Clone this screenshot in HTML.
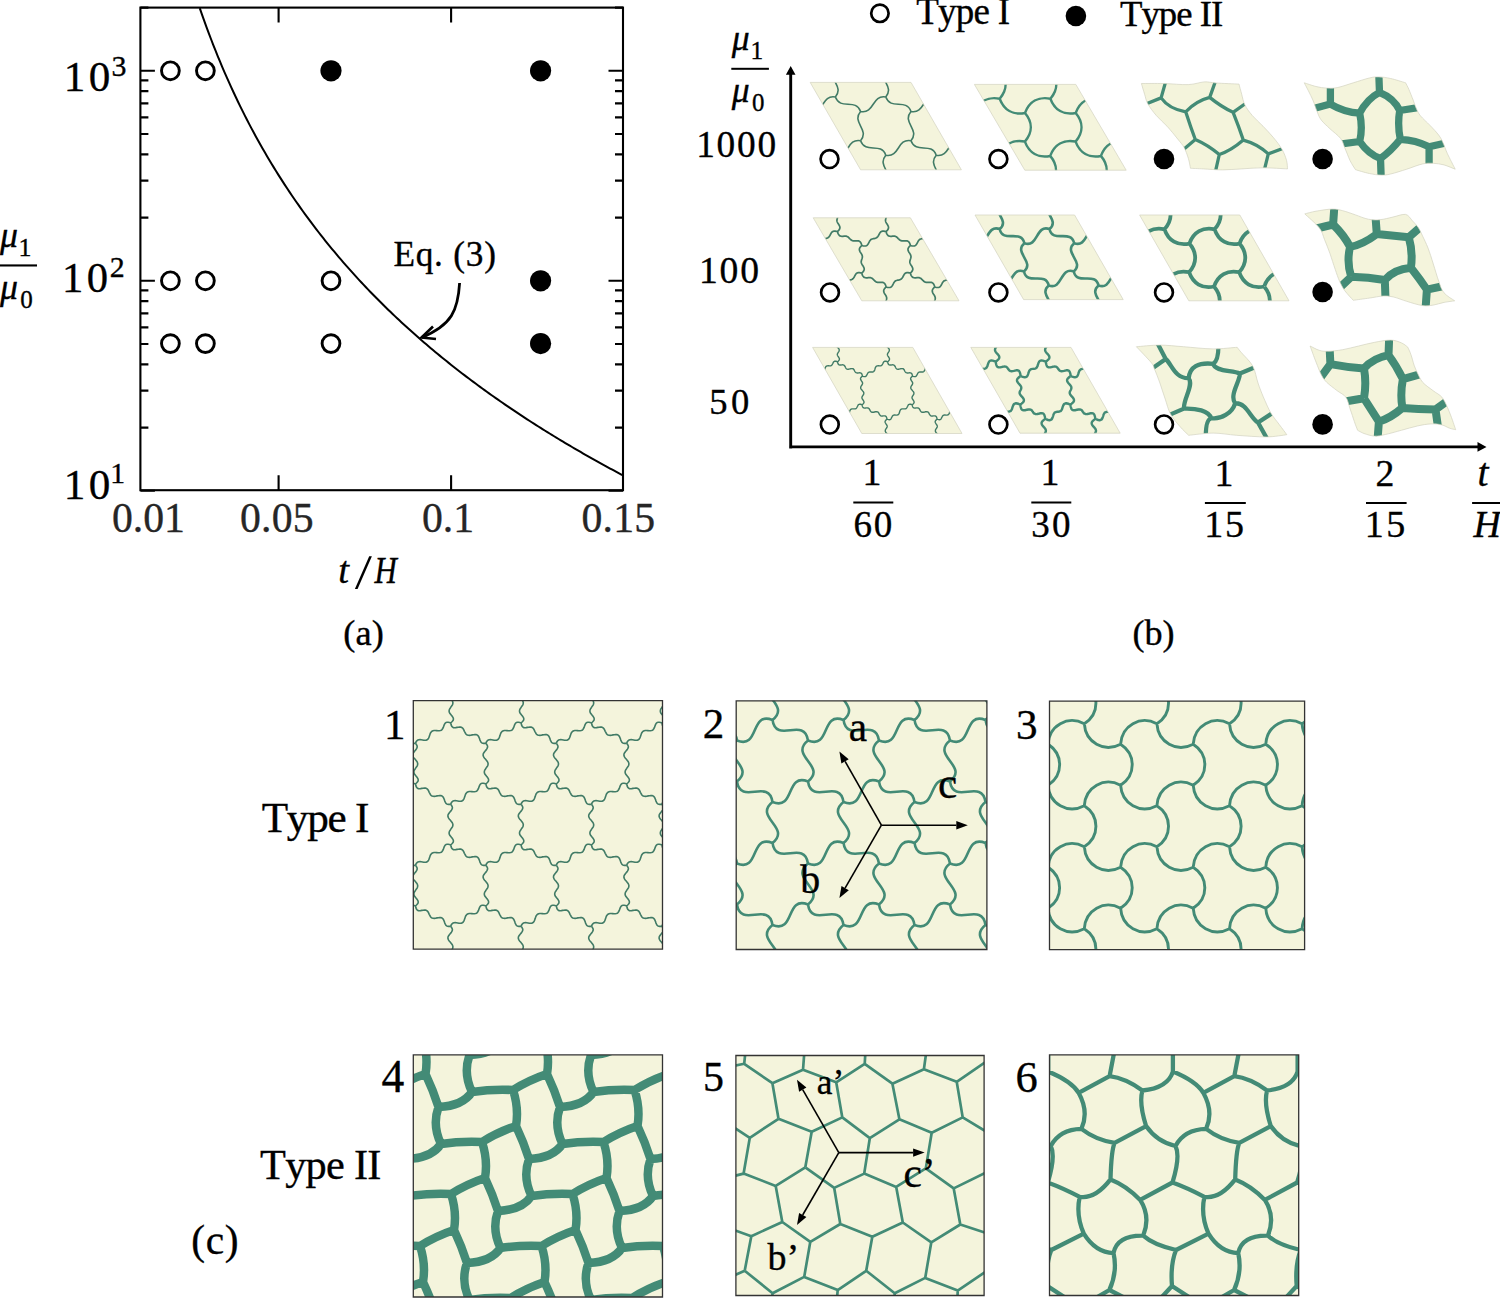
<!DOCTYPE html>
<html><head><meta charset="utf-8"><style>html,body{margin:0;padding:0;background:#fff;overflow:hidden}svg{display:block}text{font-kerning:none;font-variant-ligatures:none}</style></head>
<body><svg width="1500" height="1298" viewBox="0 0 1500 1298">
<rect x="140.4" y="7.6" width="482.6" height="482.6" fill="none" stroke="#000" stroke-width="2.1"/>
<path d="M140.4 490.8h14.5M623 490.8h-14.5M140.4 427.58h8M623 427.58h-8M140.4 390.6h8M623 390.6h-8M140.4 364.37h8M623 364.37h-8M140.4 344.02h8M623 344.02h-8M140.4 327.39h8M623 327.39h-8M140.4 313.33h8M623 313.33h-8M140.4 301.15h8M623 301.15h-8M140.4 290.41h8M623 290.41h-8M140.4 280.8h14.5M623 280.8h-14.5M140.4 217.58h8M623 217.58h-8M140.4 180.6h8M623 180.6h-8M140.4 154.37h8M623 154.37h-8M140.4 134.02h8M623 134.02h-8M140.4 117.39h8M623 117.39h-8M140.4 103.33h8M623 103.33h-8M140.4 91.15h8M623 91.15h-8M140.4 80.41h8M623 80.41h-8M140.4 70.8h14.5M623 70.8h-14.5M140.4 7.58h8M623 7.58h-8M278.6 490.2v-15M278.6 7.6v15M451.1 490.2v-15M451.1 7.6v15" stroke="#000" stroke-width="2.1" fill="none"/>
<polyline points="199.77,8.07 202.01,14.55 204.25,20.87 206.5,27.05 208.74,33.1 210.98,39.01 213.22,44.8 215.46,50.47 217.71,56.02 219.95,61.46 222.19,66.8 224.44,72.04 226.68,77.17 228.92,82.21 231.16,87.16 233.41,92.03 235.65,96.8 237.89,101.5 240.13,106.12 242.38,110.66 244.62,115.12 246.86,119.52 249.1,123.84 251.34,128.1 253.59,132.29 255.83,136.42 258.07,140.49 260.31,144.49 262.56,148.44 264.8,152.34 267.04,156.18 269.28,159.96 271.53,163.7 273.77,167.38 276.01,171.02 278.25,174.6 280.5,178.14 282.74,181.64 284.98,185.09 287.23,188.5 289.47,191.87 291.71,195.19 293.95,198.48 296.19,201.73 298.44,204.93 300.68,208.11 302.92,211.24 305.16,214.34 307.41,217.41 309.65,220.44 311.89,223.43 314.13,226.4 316.38,229.33 318.62,232.24 320.86,235.11 323.11,237.95 325.35,240.76 327.59,243.55 329.83,246.3 332.07,249.03 334.32,251.73 336.56,254.41 338.8,257.06 341.05,259.68 343.29,262.28 345.53,264.86 347.77,267.41 350.01,269.93 352.26,272.44 354.5,274.92 356.74,277.38 358.99,279.82 361.23,282.23 363.47,284.63 365.71,287 367.95,289.35 370.2,291.69 372.44,294 374.68,296.29 376.93,298.57 379.17,300.82 381.41,303.06 383.65,305.28 385.9,307.48 388.14,309.67 390.38,311.83 392.62,313.98 394.87,316.12 397.11,318.23 399.35,320.33 401.59,322.42 403.84,324.49 406.08,326.54 408.32,328.58 410.56,330.6 412.81,332.61 415.05,334.6 417.29,336.58 419.53,338.54 421.78,340.5 424.02,342.43 426.26,344.36 428.5,346.26 430.75,348.16 432.99,350.04 435.23,351.92 437.47,353.77 439.72,355.62 441.96,357.45 444.2,359.27 446.44,361.08 448.69,362.88 450.93,364.66 453.17,366.44 455.41,368.2 457.65,369.95 459.9,371.69 462.14,373.42 464.38,375.14 466.62,376.84 468.87,378.54 471.11,380.23 473.35,381.9 475.6,383.57 477.84,385.22 480.08,386.87 482.32,388.5 484.57,390.13 486.81,391.75 489.05,393.35 491.29,394.95 493.54,396.54 495.78,398.12 498.02,399.69 500.26,401.25 502.5,402.8 504.75,404.35 506.99,405.88 509.23,407.41 511.48,408.92 513.72,410.43 515.96,411.93 518.2,413.43 520.45,414.91 522.69,416.39 524.93,417.86 527.17,419.32 529.42,420.77 531.66,422.22 533.9,423.66 536.14,425.09 538.38,426.51 540.63,427.92 542.87,429.33 545.11,430.73 547.36,432.13 549.6,433.52 551.84,434.9 554.08,436.27 556.33,437.63 558.57,438.99 560.81,440.35 563.05,441.69 565.29,443.03 567.54,444.37 569.78,445.69 572.02,447.01 574.26,448.33 576.51,449.63 578.75,450.93 580.99,452.23 583.24,453.52 585.48,454.8 587.72,456.08 589.96,457.35 592.2,458.61 594.45,459.87 596.69,461.13 598.93,462.37 601.17,463.62 603.42,464.85 605.66,466.08 607.9,467.31 610.14,468.53 612.39,469.74 614.63,470.95 616.87,472.16 619.12,473.36 621.36,474.55 623.6,475.74" fill="none" stroke="#000" stroke-width="2"/>
<circle cx="170.4" cy="70.8" r="8.9" fill="#fff" stroke="#000" stroke-width="2.9"/>
<circle cx="205.4" cy="70.8" r="8.9" fill="#fff" stroke="#000" stroke-width="2.9"/>
<circle cx="170.4" cy="280.8" r="8.9" fill="#fff" stroke="#000" stroke-width="2.9"/>
<circle cx="205.4" cy="280.8" r="8.9" fill="#fff" stroke="#000" stroke-width="2.9"/>
<circle cx="331" cy="280.8" r="8.9" fill="#fff" stroke="#000" stroke-width="2.9"/>
<circle cx="170.4" cy="343.6" r="8.9" fill="#fff" stroke="#000" stroke-width="2.9"/>
<circle cx="205.4" cy="343.6" r="8.9" fill="#fff" stroke="#000" stroke-width="2.9"/>
<circle cx="331" cy="343.6" r="8.9" fill="#fff" stroke="#000" stroke-width="2.9"/>
<circle cx="331" cy="70.8" r="10.6" fill="#000"/>
<circle cx="540.6" cy="70.8" r="10.6" fill="#000"/>
<circle cx="540.6" cy="280.8" r="10.6" fill="#000"/>
<circle cx="540.6" cy="343.6" r="10.6" fill="#000"/>
<text x="393.43" y="265.51" font-family='"Liberation Serif", serif' font-size="35.26" letter-spacing="0.76" stroke="#000" stroke-width="0.35">Eq. (3)</text>
<path d="M459.6 283 C 458 310, 452 325, 421.5 337.5" fill="none" stroke="#000" stroke-width="2.8"/>
<path d="M433 326.5 L421.5 337.5 L436 339" fill="none" stroke="#000" stroke-width="2.6" stroke-linejoin="miter"/>
<text x="112.03" y="531.97" font-family='"Liberation Serif", serif' font-size="41.76" letter-spacing="-0.07" fill="#262626" stroke="#262626" stroke-width="0.35">0.01</text>
<text x="240.03" y="531.97" font-family='"Liberation Serif", serif' font-size="41.76" letter-spacing="0.15" fill="#262626" stroke="#262626" stroke-width="0.35">0.05</text>
<text x="422.03" y="531.97" font-family='"Liberation Serif", serif' font-size="41.76" letter-spacing="-0.07" fill="#262626" stroke="#262626" stroke-width="0.35">0.1</text>
<text x="581.43" y="531.97" font-family='"Liberation Serif", serif' font-size="41.76" letter-spacing="0.21" fill="#262626" stroke="#262626" stroke-width="0.35">0.15</text>
<text x="63.83" y="91.17" font-family='"Liberation Serif", serif' font-size="43.11" letter-spacing="3.38" stroke="#000" stroke-width="0.35">10</text>
<text x="111.48" y="75.7" font-family='"Liberation Serif", serif' font-size="29.89" stroke="#000" stroke-width="0.35">3</text>
<text x="62.07" y="292.47" font-family='"Liberation Serif", serif' font-size="42.67" letter-spacing="3.47" stroke="#000" stroke-width="0.35">10</text>
<text x="109.83" y="277" font-family='"Liberation Serif", serif' font-size="29.89" stroke="#000" stroke-width="0.35">2</text>
<text x="63.83" y="498.67" font-family='"Liberation Serif", serif' font-size="43.11" letter-spacing="3.38" stroke="#000" stroke-width="0.35">10</text>
<text x="110.31" y="482.9" font-family='"Liberation Serif", serif' font-size="29.55" stroke="#000" stroke-width="0.35">1</text>
<text x="338.16" y="582.61" font-family='"Liberation Serif", serif' font-size="38.61" font-style="italic" stroke="#000" stroke-width="0.35">t</text>
<text transform="translate(374.38 583) scale(0.81 1)" font-family='"Liberation Serif", serif' font-size="38.17" font-style="italic" stroke="#000" stroke-width="0.35">H</text>
<path d="M369.2 556.2 L371.9 556.2 L357.6 589 L354.9 589 Z" fill="#000"/>
<text x="343.35" y="645.27" font-family='"Liberation Serif", serif' font-size="36.36" letter-spacing="0.12" stroke="#000" stroke-width="0.35">(a)</text>
<text x="-0.01" y="247.29" font-family='"Liberation Serif", serif' font-size="35.85" font-style="italic" stroke="#000" stroke-width="0.35">μ</text>
<text x="18.53" y="256" font-family='"Liberation Serif", serif' font-size="25.91" stroke="#000" stroke-width="0.35">1</text>
<rect x="0" y="264.4" width="37" height="2.1" fill="#000"/>
<text x="-0.01" y="299.29" font-family='"Liberation Serif", serif' font-size="35.85" font-style="italic" stroke="#000" stroke-width="0.35">μ</text>
<text x="20.26" y="307.95" font-family='"Liberation Serif", serif' font-size="25.04" stroke="#000" stroke-width="0.35">0</text>
<path d="M790.7 448.4 V72 M789.2 446.9 H1480" stroke="#000" stroke-width="2.9" fill="none"/>
<path d="M790.7 66 L785.9 74.8 L795.5 74.8 Z M1486.5 446.9 L1477.5 442 L1477.5 451.8 Z" fill="#000"/>
<text x="731.79" y="50.22" font-family='"Liberation Serif", serif' font-size="35.7" font-style="italic" stroke="#000" stroke-width="0.35">μ</text>
<text x="750.57" y="59" font-family='"Liberation Serif", serif' font-size="25.45" stroke="#000" stroke-width="0.35">1</text>
<rect x="731.3" y="67.8" width="37.6" height="2" fill="#000"/>
<text x="731.79" y="102.22" font-family='"Liberation Serif", serif' font-size="35.7" font-style="italic" stroke="#000" stroke-width="0.35">μ</text>
<text x="751.97" y="110.75" font-family='"Liberation Serif", serif' font-size="24.89" stroke="#000" stroke-width="0.35">0</text>
<text x="696.13" y="157.03" font-family='"Liberation Serif", serif' font-size="37.33" letter-spacing="1.83" stroke="#000" stroke-width="0.35">1000</text>
<text x="698.91" y="283.02" font-family='"Liberation Serif", serif' font-size="37.63" letter-spacing="1.88" stroke="#000" stroke-width="0.35">100</text>
<text x="709.2" y="414.33" font-family='"Liberation Serif", serif' font-size="36.59" letter-spacing="3.58" stroke="#000" stroke-width="0.35">50</text>
<text x="862.49" y="485.3" font-family='"Liberation Serif", serif' font-size="37.88" stroke="#000" stroke-width="0.35">1</text>
<rect x="853.3" y="501.5" width="40" height="2" fill="#000"/>
<text x="853.43" y="536.63" font-family='"Liberation Serif", serif' font-size="37.04" letter-spacing="1.73" stroke="#000" stroke-width="0.35">60</text>
<text x="1040.39" y="485.3" font-family='"Liberation Serif", serif' font-size="37.88" stroke="#000" stroke-width="0.35">1</text>
<rect x="1031.3" y="501.5" width="40" height="2" fill="#000"/>
<text x="1031.24" y="536.63" font-family='"Liberation Serif", serif' font-size="37.04" letter-spacing="2.31" stroke="#000" stroke-width="0.35">30</text>
<text x="1214.59" y="485.8" font-family='"Liberation Serif", serif' font-size="37.88" stroke="#000" stroke-width="0.35">1</text>
<rect x="1204.9" y="502" width="40.9" height="2" fill="#000"/>
<text x="1204.27" y="537.12" font-family='"Liberation Serif", serif' font-size="38.06" letter-spacing="1.8" stroke="#000" stroke-width="0.35">15</text>
<text x="1375.4" y="485.8" font-family='"Liberation Serif", serif' font-size="37.74" stroke="#000" stroke-width="0.35">2</text>
<rect x="1366" y="502" width="40.6" height="2" fill="#000"/>
<text x="1364.77" y="537.12" font-family='"Liberation Serif", serif' font-size="38.06" letter-spacing="2.5" stroke="#000" stroke-width="0.35">15</text>
<text x="1477.61" y="485.8" font-family='"Liberation Serif", serif' font-size="39.65" font-style="italic" stroke="#000" stroke-width="0.35">t</text>
<rect x="1472.1" y="502" width="30" height="2" fill="#000"/>
<text x="1473.57" y="536.8" font-family='"Liberation Serif", serif' font-size="37.86" font-style="italic" stroke="#000" stroke-width="0.35">H</text>
<circle cx="879.9" cy="13.3" r="8.7" fill="none" stroke="#000" stroke-width="2.7"/>
<text x="916.25" y="23.84" font-family='"Liberation Serif", serif' font-size="37.01" letter-spacing="-0.75" stroke="#000" stroke-width="0.35">Type I</text>
<circle cx="1075.9" cy="16" r="10.3" fill="#000"/>
<text x="1120.06" y="26.19" font-family='"Liberation Serif", serif' font-size="36.78" letter-spacing="-1.02" stroke="#000" stroke-width="0.35">Type II</text>
<text x="1132.46" y="645.12" font-family='"Liberation Serif", serif' font-size="36.14" stroke="#000" stroke-width="0.35">(b)</text>
<clipPath id="cp1"><path d="M810.2 82.4H911L961.4 169.8H860.6Z"/></clipPath><path d="M810.2 82.4H911L961.4 169.8H860.6Z" fill="#f4f4dc"/><g clip-path="url(#cp1)"><path d="M785 97C789.9 110.7 805.3 97.8 810.2 111.5M810.2 140.7C815.1 154.4 830.5 141.5 835.4 155.2M810.2 140.7C795.9 138.1 799.3 157.8 785 155.2M810.2 140.7C819.6 129.5 800.8 122.7 810.2 111.5M835.4 184.4C844.8 173.2 826 166.4 835.4 155.2M835.4 97C840.3 110.7 855.7 97.8 860.6 111.5M835.4 97C821.1 94.4 824.5 114.1 810.2 111.5M835.4 97C844.8 85.8 826 79 835.4 67.8M860.6 140.7C865.5 154.4 880.9 141.5 885.8 155.2M860.6 140.7C846.3 138.1 849.7 157.8 835.4 155.2M860.6 140.7C870 129.5 851.2 122.7 860.6 111.5M885.8 184.4C895.2 173.2 876.4 166.4 885.8 155.2M885.8 97C890.7 110.7 906.1 97.8 911 111.5M885.8 97C871.5 94.4 874.9 114.1 860.6 111.5M885.8 97C895.2 85.8 876.4 79 885.8 67.8M911 140.7C915.9 154.4 931.3 141.5 936.2 155.2M911 140.7C896.7 138.1 900.1 157.8 885.8 155.2M911 140.7C920.4 129.5 901.6 122.7 911 111.5M936.2 184.4C945.6 173.2 926.8 166.4 936.2 155.2M936.2 97C941.1 110.7 956.5 97.8 961.4 111.5M936.2 97C921.9 94.4 925.3 114.1 911 111.5M936.2 97C945.6 85.8 926.8 79 936.2 67.8M961.4 140.7C966.3 154.4 981.7 141.5 986.6 155.2M961.4 140.7C947.1 138.1 950.5 157.8 936.2 155.2M961.4 140.7C970.8 129.5 952 122.7 961.4 111.5M986.6 97C972.3 94.4 975.7 114.1 961.4 111.5" fill="none" stroke="#417b66" stroke-width="1.6" stroke-linejoin="round"/></g><path d="M810.2 82.4H911L961.4 169.8H860.6Z" fill="none" stroke="#d2d2c0" stroke-width="0.7"/>
<clipPath id="cp2"><path d="M974.4 84.4H1075.8L1126.2 170.2H1024.8Z"/></clipPath><path d="M974.4 84.4H1075.8L1126.2 170.2H1024.8Z" fill="#f4f4dc"/><g clip-path="url(#cp2)"><path d="M949 98.7C953.3 110.1 962.3 115.3 974.3 113M974.2 141.6C978.5 153 987.5 158.2 999.5 155.9M974.2 141.6C962.2 139.3 953.1 144.4 948.8 155.9M974.2 141.6C982 132.4 982 122.2 974.3 113M999.4 184.5C1007.2 175.3 1007.2 165.1 999.5 155.9M999.7 98.7C1004 110.1 1013 115.3 1025 113M999.7 98.7C987.7 96.4 978.6 101.5 974.3 113M999.7 98.7C1007.5 89.5 1007.5 79.3 999.8 70.1M1024.9 141.6C1029.2 153 1038.2 158.2 1050.2 155.9M1024.9 141.6C1012.9 139.3 1003.8 144.4 999.5 155.9M1024.9 141.6C1032.7 132.4 1032.7 122.2 1025 113M1050.1 184.5C1057.9 175.3 1057.9 165.1 1050.2 155.9M1050.4 98.7C1054.7 110.1 1063.7 115.3 1075.7 113M1050.4 98.7C1038.4 96.4 1029.3 101.5 1025 113M1050.4 98.7C1058.2 89.5 1058.2 79.3 1050.5 70.1M1075.6 141.6C1079.9 153 1088.9 158.2 1100.9 155.9M1075.6 141.6C1063.6 139.3 1054.5 144.4 1050.2 155.9M1075.6 141.6C1083.4 132.4 1083.4 122.2 1075.7 113M1100.8 184.5C1108.6 175.3 1108.6 165.1 1100.9 155.9M1101.1 98.7C1105.4 110.1 1114.4 115.3 1126.4 113M1101.1 98.7C1089.1 96.4 1080 101.5 1075.7 113M1101.1 98.7C1108.9 89.5 1108.9 79.3 1101.2 70.1M1126.3 141.6C1130.6 153 1139.6 158.2 1151.6 155.9M1126.3 141.6C1114.3 139.3 1105.2 144.4 1100.9 155.9M1126.3 141.6C1134.1 132.4 1134.1 122.2 1126.4 113M1151.8 98.7C1139.8 96.4 1130.7 101.5 1126.4 113" fill="none" stroke="#438b76" stroke-width="2.5" stroke-linejoin="round"/></g><path d="M974.4 84.4H1075.8L1126.2 170.2H1024.8Z" fill="none" stroke="#d2d2c0" stroke-width="0.7"/>
<clipPath id="cp3"><path d="M1141.4 83.5C1145.1 83.5 1156 83.4 1163.8 83.5C1171.6 83.7 1181.6 84.9 1188.3 84.6C1195.1 84.3 1199.7 82.2 1204.3 81.9C1209 81.7 1210.3 82.6 1216.1 83C1221.8 83.4 1235.2 83.9 1239 84.1C1239.4 85.8 1240.7 90.7 1241.7 94.2C1242.6 97.7 1243.1 101.3 1244.9 104.9C1246.6 108.4 1249.3 112 1252.3 115.5C1255.4 119.1 1259.4 122.5 1263 126.2C1266.6 129.9 1270.5 134 1273.7 137.9C1276.9 141.8 1280.1 145.9 1282.2 149.7C1284.3 153.4 1285.6 157.1 1286.5 160.3C1287.4 163.5 1287.4 167.4 1287.5 168.9C1283.4 168.7 1270.6 167.8 1263 167.8C1255.4 167.8 1248.4 168.5 1241.7 168.9C1234.9 169.2 1228.9 169.9 1222.5 169.9C1216.1 169.9 1208.6 169.1 1203.3 168.9C1197.9 168.6 1192.6 168.4 1190.5 168.3C1190.1 166.6 1189.4 161.7 1188.3 158.2C1187.3 154.7 1185.8 150.7 1184.1 147.5C1182.3 144.3 1180.5 142.6 1177.7 139C1174.8 135.4 1170.6 130.1 1167 126.2C1163.4 122.3 1159.5 119.3 1156.3 115.5C1153.1 111.8 1149.8 107.4 1147.8 103.8C1145.8 100.2 1145.7 97.6 1144.6 94.2C1143.5 90.8 1141.9 85.3 1141.4 83.5Z"/></clipPath><path d="M1141.4 83.5C1145.1 83.5 1156 83.4 1163.8 83.5C1171.6 83.7 1181.6 84.9 1188.3 84.6C1195.1 84.3 1199.7 82.2 1204.3 81.9C1209 81.7 1210.3 82.6 1216.1 83C1221.8 83.4 1235.2 83.9 1239 84.1C1239.4 85.8 1240.7 90.7 1241.7 94.2C1242.6 97.7 1243.1 101.3 1244.9 104.9C1246.6 108.4 1249.3 112 1252.3 115.5C1255.4 119.1 1259.4 122.5 1263 126.2C1266.6 129.9 1270.5 134 1273.7 137.9C1276.9 141.8 1280.1 145.9 1282.2 149.7C1284.3 153.4 1285.6 157.1 1286.5 160.3C1287.4 163.5 1287.4 167.4 1287.5 168.9C1283.4 168.7 1270.6 167.8 1263 167.8C1255.4 167.8 1248.4 168.5 1241.7 168.9C1234.9 169.2 1228.9 169.9 1222.5 169.9C1216.1 169.9 1208.6 169.1 1203.3 168.9C1197.9 168.6 1192.6 168.4 1190.5 168.3C1190.1 166.6 1189.4 161.7 1188.3 158.2C1187.3 154.7 1185.8 150.7 1184.1 147.5C1182.3 144.3 1180.5 142.6 1177.7 139C1174.8 135.4 1170.6 130.1 1167 126.2C1163.4 122.3 1159.5 119.3 1156.3 115.5C1153.1 111.8 1149.8 107.4 1147.8 103.8C1145.8 100.2 1145.7 97.6 1144.6 94.2C1143.5 90.8 1141.9 85.3 1141.4 83.5Z" fill="#f4f4dc"/><g clip-path="url(#cp3)"><path d="M1161.1 97.9L1167.1 76.6M1161.1 97.9L1139.8 106.5M1209.7 97.4L1217.3 76.1M1233.1 112.3L1251.1 99.5M1195.3 139.5L1178.2 154M1219.3 154.5L1214.1 177.5M1268.3 153.9L1288.8 146.3M1268.3 153.9L1262.4 177.8M1161.1 97.9Q1169.1 109.1 1185.7 111.8M1185.7 111.8Q1196.1 100.9 1209.7 97.4M1209.7 97.4Q1221.4 107 1233.1 112.3M1185.7 111.8Q1190.5 126.7 1195.3 139.5M1233.1 112.3Q1238.7 126.2 1243.3 140.1M1195.3 139.5Q1207.8 144.9 1219.3 154.5M1219.3 154.5Q1230.7 151 1243.3 140.1M1243.3 140.1Q1257.4 143.8 1268.3 153.9" fill="none" stroke="#438b76" stroke-width="3.3" stroke-linejoin="round" stroke-linecap="butt"/></g><path d="M1141.4 83.5C1145.1 83.5 1156 83.4 1163.8 83.5C1171.6 83.7 1181.6 84.9 1188.3 84.6C1195.1 84.3 1199.7 82.2 1204.3 81.9C1209 81.7 1210.3 82.6 1216.1 83C1221.8 83.4 1235.2 83.9 1239 84.1C1239.4 85.8 1240.7 90.7 1241.7 94.2C1242.6 97.7 1243.1 101.3 1244.9 104.9C1246.6 108.4 1249.3 112 1252.3 115.5C1255.4 119.1 1259.4 122.5 1263 126.2C1266.6 129.9 1270.5 134 1273.7 137.9C1276.9 141.8 1280.1 145.9 1282.2 149.7C1284.3 153.4 1285.6 157.1 1286.5 160.3C1287.4 163.5 1287.4 167.4 1287.5 168.9C1283.4 168.7 1270.6 167.8 1263 167.8C1255.4 167.8 1248.4 168.5 1241.7 168.9C1234.9 169.2 1228.9 169.9 1222.5 169.9C1216.1 169.9 1208.6 169.1 1203.3 168.9C1197.9 168.6 1192.6 168.4 1190.5 168.3C1190.1 166.6 1189.4 161.7 1188.3 158.2C1187.3 154.7 1185.8 150.7 1184.1 147.5C1182.3 144.3 1180.5 142.6 1177.7 139C1174.8 135.4 1170.6 130.1 1167 126.2C1163.4 122.3 1159.5 119.3 1156.3 115.5C1153.1 111.8 1149.8 107.4 1147.8 103.8C1145.8 100.2 1145.7 97.6 1144.6 94.2C1143.5 90.8 1141.9 85.3 1141.4 83.5Z" fill="none" stroke="#d2d2c0" stroke-width="0.7"/>
<clipPath id="cp4"><path d="M1304.3 82.8C1306.2 83.4 1312.3 85.6 1316 86.5C1319.7 87.4 1323.1 88 1326.7 88.1C1330.2 88.3 1332.9 88.5 1337.3 87.6C1341.8 86.7 1348 84.4 1353.3 82.8C1358.7 81.2 1365.1 79 1369.3 78C1373.6 77 1375.4 76.8 1378.9 76.9C1382.5 77 1386.2 77.6 1390.7 78.5C1395.1 79.5 1403.1 82.1 1405.6 82.8C1406.1 83.9 1407.6 86.4 1408.8 89.2C1410 92 1411.8 96.7 1413.1 99.9C1414.3 103.1 1415 105.7 1416.3 108.4C1417.5 111.1 1418.2 113 1420.5 115.9C1422.8 118.7 1427.1 122.3 1430.1 125.5C1433.2 128.7 1436.5 132.2 1438.7 135.1C1440.8 137.9 1441.5 139.5 1442.9 142.5C1444.4 145.6 1445.2 148.8 1447.2 153.2C1449.2 157.6 1453.9 166.5 1455.2 169.2C1453.3 168.5 1447.6 165.9 1444 164.9C1440.4 164 1436.9 163.5 1433.3 163.3C1429.8 163.2 1427.1 162.9 1422.7 163.9C1418.2 164.8 1412 167.5 1406.7 169.2C1401.3 170.9 1394.9 173 1390.7 174C1386.4 175 1384.6 175.2 1381.1 175.1C1377.5 175 1373.6 174.4 1369.3 173.5C1365.1 172.6 1357.8 170.4 1355.5 169.7C1354.6 168.2 1351.9 164.3 1350.1 160.7C1348.4 157 1346.4 151.6 1344.8 147.9C1343.2 144.1 1343 141.5 1340.5 138.3C1338 135.1 1333.1 131.7 1329.9 128.7C1326.7 125.6 1323.5 123 1321.3 120.1C1319.2 117.3 1318.5 115 1317.1 111.6C1315.6 108.2 1314.9 104.7 1312.8 99.9C1310.7 95.1 1305.7 85.6 1304.3 82.8Z"/></clipPath><path d="M1304.3 82.8C1306.2 83.4 1312.3 85.6 1316 86.5C1319.7 87.4 1323.1 88 1326.7 88.1C1330.2 88.3 1332.9 88.5 1337.3 87.6C1341.8 86.7 1348 84.4 1353.3 82.8C1358.7 81.2 1365.1 79 1369.3 78C1373.6 77 1375.4 76.8 1378.9 76.9C1382.5 77 1386.2 77.6 1390.7 78.5C1395.1 79.5 1403.1 82.1 1405.6 82.8C1406.1 83.9 1407.6 86.4 1408.8 89.2C1410 92 1411.8 96.7 1413.1 99.9C1414.3 103.1 1415 105.7 1416.3 108.4C1417.5 111.1 1418.2 113 1420.5 115.9C1422.8 118.7 1427.1 122.3 1430.1 125.5C1433.2 128.7 1436.5 132.2 1438.7 135.1C1440.8 137.9 1441.5 139.5 1442.9 142.5C1444.4 145.6 1445.2 148.8 1447.2 153.2C1449.2 157.6 1453.9 166.5 1455.2 169.2C1453.3 168.5 1447.6 165.9 1444 164.9C1440.4 164 1436.9 163.5 1433.3 163.3C1429.8 163.2 1427.1 162.9 1422.7 163.9C1418.2 164.8 1412 167.5 1406.7 169.2C1401.3 170.9 1394.9 173 1390.7 174C1386.4 175 1384.6 175.2 1381.1 175.1C1377.5 175 1373.6 174.4 1369.3 173.5C1365.1 172.6 1357.8 170.4 1355.5 169.7C1354.6 168.2 1351.9 164.3 1350.1 160.7C1348.4 157 1346.4 151.6 1344.8 147.9C1343.2 144.1 1343 141.5 1340.5 138.3C1338 135.1 1333.1 131.7 1329.9 128.7C1326.7 125.6 1323.5 123 1321.3 120.1C1319.2 117.3 1318.5 115 1317.1 111.6C1315.6 108.2 1314.9 104.7 1312.8 99.9C1310.7 95.1 1305.7 85.6 1304.3 82.8Z" fill="#f4f4dc"/><g clip-path="url(#cp4)"><path d="M1330.4 104.1L1330.4 80.2M1330.4 104.1L1308.2 110.1M1379.5 92.4L1378.6 68.5M1399.7 110.5L1426.2 106.3M1359.7 141.5L1334.1 144.9M1380.5 158.5L1381.4 184.1M1429.1 146.8L1451.3 141.7M1429.1 146.8L1429.1 172.4M1330.4 104.1Q1344.5 112.4 1359.7 113.2M1359.7 113.2Q1366.9 99.1 1379.5 92.4M1359.7 113.2Q1362.9 127.9 1359.7 141.5M1379.5 92.4Q1393.9 98.3 1399.7 110.5M1399.7 110.5Q1397.3 124.9 1400.3 139.3M1359.7 141.5Q1368.5 154.3 1380.5 158.5M1400.3 139.3Q1390.9 151.1 1380.5 158.5M1400.3 139.3Q1415.7 139.9 1429.1 146.8" fill="none" stroke="#438b76" stroke-width="7.3" stroke-linejoin="round" stroke-linecap="butt"/></g><path d="M1304.3 82.8C1306.2 83.4 1312.3 85.6 1316 86.5C1319.7 87.4 1323.1 88 1326.7 88.1C1330.2 88.3 1332.9 88.5 1337.3 87.6C1341.8 86.7 1348 84.4 1353.3 82.8C1358.7 81.2 1365.1 79 1369.3 78C1373.6 77 1375.4 76.8 1378.9 76.9C1382.5 77 1386.2 77.6 1390.7 78.5C1395.1 79.5 1403.1 82.1 1405.6 82.8C1406.1 83.9 1407.6 86.4 1408.8 89.2C1410 92 1411.8 96.7 1413.1 99.9C1414.3 103.1 1415 105.7 1416.3 108.4C1417.5 111.1 1418.2 113 1420.5 115.9C1422.8 118.7 1427.1 122.3 1430.1 125.5C1433.2 128.7 1436.5 132.2 1438.7 135.1C1440.8 137.9 1441.5 139.5 1442.9 142.5C1444.4 145.6 1445.2 148.8 1447.2 153.2C1449.2 157.6 1453.9 166.5 1455.2 169.2C1453.3 168.5 1447.6 165.9 1444 164.9C1440.4 164 1436.9 163.5 1433.3 163.3C1429.8 163.2 1427.1 162.9 1422.7 163.9C1418.2 164.8 1412 167.5 1406.7 169.2C1401.3 170.9 1394.9 173 1390.7 174C1386.4 175 1384.6 175.2 1381.1 175.1C1377.5 175 1373.6 174.4 1369.3 173.5C1365.1 172.6 1357.8 170.4 1355.5 169.7C1354.6 168.2 1351.9 164.3 1350.1 160.7C1348.4 157 1346.4 151.6 1344.8 147.9C1343.2 144.1 1343 141.5 1340.5 138.3C1338 135.1 1333.1 131.7 1329.9 128.7C1326.7 125.6 1323.5 123 1321.3 120.1C1319.2 117.3 1318.5 115 1317.1 111.6C1315.6 108.2 1314.9 104.7 1312.8 99.9C1310.7 95.1 1305.7 85.6 1304.3 82.8Z" fill="none" stroke="#d2d2c0" stroke-width="0.7"/>
<clipPath id="cp5"><path d="M813.2 217.8H910.4L959 300.8H861.8Z"/></clipPath><path d="M813.2 217.8H910.4L959 300.8H861.8Z" fill="#f4f4dc"/><g clip-path="url(#cp5)"><path d="M788.9 231.6L789.2 232.9L789.6 233.9L790.2 234.8L790.8 235.5L791.5 236L792.4 236.2L793.4 236.3L794.4 236.3L795.4 236.2L796.4 236.2L797.4 236.2L798.3 236.4L799.1 236.8L799.8 237.3L800.4 237.9L801.1 238.6L801.7 239.2L802.3 239.8L803 240.3L803.8 240.7L804.7 240.9L805.7 240.9L806.7 240.9L807.7 240.8L808.7 240.8L809.7 240.9L810.6 241.1L811.3 241.6L811.9 242.3L812.5 243.2L812.9 244.2L813.2 245.5M813.2 273.1L813.5 274.4L813.9 275.4L814.5 276.3L815.1 277L815.8 277.5L816.7 277.7L817.7 277.8L818.7 277.8L819.7 277.7L820.7 277.7L821.7 277.7L822.6 277.9L823.4 278.3L824.1 278.8L824.7 279.4L825.3 280.1L826 280.7L826.6 281.3L827.3 281.8L828.1 282.2L829 282.4L830 282.4L831 282.4L832 282.3L833 282.3L834 282.4L834.9 282.6L835.6 283.1L836.2 283.8L836.8 284.7L837.2 285.7L837.5 287M813.2 273.1L812 272.8L810.8 272.6L809.8 272.6L808.9 272.8L808.1 273.2L807.5 273.8L806.9 274.6L806.4 275.5L805.9 276.4L805.5 277.3L804.9 278.1L804.3 278.8L803.6 279.3L802.8 279.6L801.9 279.9L801 280.1L800.2 280.2L799.3 280.5L798.5 280.8L797.8 281.3L797.2 282L796.6 282.8L796.2 283.7L795.7 284.6L795.2 285.5L794.6 286.3L794 286.9L793.2 287.3L792.3 287.5L791.3 287.5L790.1 287.3L788.9 287M813.2 273.1L814.1 272.2L814.8 271.4L815.3 270.5L815.6 269.6L815.6 268.7L815.4 267.9L815 267L814.5 266.1L813.9 265.3L813.4 264.4L813 263.6L812.7 262.7L812.6 261.9L812.7 261L812.9 260.2L813.2 259.3L813.5 258.4L813.7 257.6L813.8 256.7L813.7 255.9L813.4 255L813 254.2L812.5 253.3L811.9 252.5L811.4 251.6L811 250.7L810.8 249.9L810.8 249L811.1 248.1L811.6 247.2L812.3 246.4L813.2 245.5M837.5 314.6L838.4 313.7L839.1 312.9L839.6 312L839.9 311.1L839.9 310.2L839.7 309.4L839.3 308.5L838.8 307.6L838.2 306.8L837.7 305.9L837.3 305.1L837 304.2L836.9 303.4L837 302.5L837.2 301.7L837.5 300.8L837.8 299.9L838 299.1L838.1 298.2L838 297.4L837.7 296.5L837.3 295.7L836.8 294.8L836.2 294L835.7 293.1L835.3 292.2L835.1 291.4L835.1 290.5L835.4 289.6L835.9 288.7L836.6 287.9L837.5 287M837.5 231.6L837.8 232.9L838.2 233.9L838.8 234.8L839.4 235.5L840.1 236L841 236.2L842 236.3L843 236.3L844 236.2L845 236.2L846 236.2L846.9 236.4L847.7 236.8L848.4 237.3L849 237.9L849.6 238.6L850.3 239.2L850.9 239.8L851.6 240.3L852.4 240.7L853.3 240.9L854.3 240.9L855.3 240.9L856.3 240.8L857.3 240.8L858.3 240.9L859.2 241.1L859.9 241.6L860.5 242.3L861.1 243.2L861.5 244.2L861.8 245.5M837.5 231.6L836.3 231.3L835.1 231.1L834.1 231.1L833.2 231.3L832.4 231.7L831.8 232.3L831.2 233.1L830.7 234L830.2 234.9L829.8 235.8L829.2 236.6L828.6 237.3L827.9 237.8L827.1 238.1L826.2 238.4L825.4 238.6L824.5 238.7L823.6 239L822.8 239.3L822.1 239.8L821.5 240.5L820.9 241.3L820.5 242.2L820 243.1L819.5 244L818.9 244.8L818.3 245.4L817.5 245.8L816.6 246L815.6 246L814.4 245.8L813.2 245.5M837.5 231.6L838.4 230.7L839.1 229.9L839.6 229L839.9 228.1L839.9 227.2L839.7 226.4L839.3 225.5L838.8 224.6L838.2 223.8L837.7 222.9L837.3 222.1L837 221.2L836.9 220.4L837 219.5L837.2 218.7L837.5 217.8L837.8 216.9L838 216.1L838.1 215.2L838 214.4L837.7 213.5L837.3 212.7L836.8 211.8L836.2 211L835.7 210.1L835.3 209.2L835.1 208.4L835.1 207.5L835.4 206.6L835.9 205.7L836.6 204.9L837.5 204M861.8 273.1L862.1 274.4L862.5 275.4L863.1 276.3L863.7 277L864.4 277.5L865.3 277.7L866.3 277.8L867.3 277.8L868.3 277.7L869.3 277.7L870.3 277.7L871.2 277.9L872 278.3L872.7 278.8L873.3 279.4L874 280.1L874.6 280.7L875.2 281.3L875.9 281.8L876.7 282.2L877.6 282.4L878.6 282.4L879.6 282.4L880.6 282.3L881.6 282.3L882.6 282.4L883.5 282.6L884.2 283.1L884.8 283.8L885.4 284.7L885.8 285.7L886.1 287M861.8 273.1L860.6 272.8L859.4 272.6L858.4 272.6L857.5 272.8L856.7 273.2L856.1 273.8L855.5 274.6L855 275.5L854.5 276.4L854.1 277.3L853.5 278.1L852.9 278.8L852.2 279.3L851.4 279.6L850.5 279.9L849.7 280.1L848.8 280.2L847.9 280.5L847.1 280.8L846.4 281.3L845.8 282L845.2 282.8L844.8 283.7L844.3 284.6L843.8 285.5L843.2 286.3L842.6 286.9L841.8 287.3L840.9 287.5L839.9 287.5L838.7 287.3L837.5 287M861.8 273.1L862.7 272.2L863.4 271.4L863.9 270.5L864.2 269.6L864.2 268.7L864 267.9L863.6 267L863.1 266.1L862.5 265.3L862 264.4L861.6 263.6L861.3 262.7L861.2 261.9L861.3 261L861.5 260.2L861.8 259.3L862.1 258.4L862.3 257.6L862.4 256.7L862.3 255.9L862 255L861.6 254.2L861.1 253.3L860.5 252.5L860 251.6L859.6 250.7L859.4 249.9L859.4 249L859.7 248.1L860.2 247.2L860.9 246.4L861.8 245.5M886.1 314.6L887 313.7L887.7 312.9L888.2 312L888.5 311.1L888.5 310.2L888.3 309.4L887.9 308.5L887.4 307.6L886.8 306.8L886.3 305.9L885.9 305.1L885.6 304.2L885.5 303.4L885.6 302.5L885.8 301.7L886.1 300.8L886.4 299.9L886.6 299.1L886.7 298.2L886.6 297.4L886.3 296.5L885.9 295.7L885.4 294.8L884.8 294L884.3 293.1L883.9 292.2L883.7 291.4L883.7 290.5L884 289.6L884.5 288.7L885.2 287.9L886.1 287M886.1 231.6L886.4 232.9L886.8 233.9L887.4 234.8L888 235.5L888.7 236L889.6 236.2L890.6 236.3L891.6 236.3L892.6 236.2L893.6 236.2L894.6 236.2L895.5 236.4L896.3 236.8L897 237.3L897.6 237.9L898.2 238.6L898.9 239.2L899.5 239.8L900.2 240.3L901 240.7L901.9 240.9L902.9 240.9L903.9 240.9L904.9 240.8L905.9 240.8L906.9 240.9L907.8 241.1L908.5 241.6L909.1 242.3L909.7 243.2L910.1 244.2L910.4 245.5M886.1 231.6L884.9 231.3L883.7 231.1L882.7 231.1L881.8 231.3L881 231.7L880.4 232.3L879.8 233.1L879.3 234L878.8 234.9L878.4 235.8L877.8 236.6L877.2 237.3L876.5 237.8L875.7 238.1L874.8 238.4L874 238.6L873.1 238.7L872.2 239L871.4 239.3L870.7 239.8L870.1 240.5L869.5 241.3L869.1 242.2L868.6 243.1L868.1 244L867.5 244.8L866.9 245.4L866.1 245.8L865.2 246L864.2 246L863 245.8L861.8 245.5M886.1 231.6L887 230.7L887.7 229.9L888.2 229L888.5 228.1L888.5 227.2L888.3 226.4L887.9 225.5L887.4 224.6L886.8 223.8L886.3 222.9L885.9 222.1L885.6 221.2L885.5 220.4L885.6 219.5L885.8 218.7L886.1 217.8L886.4 216.9L886.6 216.1L886.7 215.2L886.6 214.4L886.3 213.5L885.9 212.7L885.4 211.8L884.8 211L884.3 210.1L883.9 209.2L883.7 208.4L883.7 207.5L884 206.6L884.5 205.7L885.2 204.9L886.1 204M910.4 273.1L910.7 274.4L911.1 275.4L911.7 276.3L912.3 277L913 277.5L913.9 277.7L914.9 277.8L915.9 277.8L916.9 277.7L917.9 277.7L918.9 277.7L919.8 277.9L920.6 278.3L921.3 278.8L921.9 279.4L922.6 280.1L923.2 280.7L923.8 281.3L924.5 281.8L925.3 282.2L926.2 282.4L927.2 282.4L928.2 282.4L929.2 282.3L930.2 282.3L931.2 282.4L932.1 282.6L932.8 283.1L933.4 283.8L934 284.7L934.4 285.7L934.7 287M910.4 273.1L909.2 272.8L908 272.6L907 272.6L906.1 272.8L905.3 273.2L904.7 273.8L904.1 274.6L903.6 275.5L903.1 276.4L902.7 277.3L902.1 278.1L901.5 278.8L900.8 279.3L900 279.6L899.1 279.9L898.2 280.1L897.4 280.2L896.5 280.5L895.7 280.8L895 281.3L894.4 282L893.8 282.8L893.4 283.7L892.9 284.6L892.4 285.5L891.8 286.3L891.2 286.9L890.4 287.3L889.5 287.5L888.5 287.5L887.3 287.3L886.1 287M910.4 273.1L911.3 272.2L912 271.4L912.5 270.5L912.8 269.6L912.8 268.7L912.6 267.9L912.2 267L911.7 266.1L911.1 265.3L910.6 264.4L910.2 263.6L909.9 262.7L909.8 261.9L909.9 261L910.1 260.2L910.4 259.3L910.7 258.4L910.9 257.6L911 256.7L910.9 255.9L910.6 255L910.2 254.2L909.7 253.3L909.1 252.5L908.6 251.6L908.2 250.7L908 249.9L908 249L908.3 248.1L908.8 247.2L909.5 246.4L910.4 245.5M934.7 314.6L935.6 313.7L936.3 312.9L936.8 312L937.1 311.1L937.1 310.2L936.9 309.4L936.5 308.5L936 307.6L935.4 306.8L934.9 305.9L934.5 305.1L934.2 304.2L934.1 303.4L934.2 302.5L934.4 301.7L934.7 300.8L935 299.9L935.2 299.1L935.3 298.2L935.2 297.4L934.9 296.5L934.5 295.7L934 294.8L933.4 294L932.9 293.1L932.5 292.2L932.3 291.4L932.3 290.5L932.6 289.6L933.1 288.7L933.8 287.9L934.7 287M934.7 231.6L935 232.9L935.4 233.9L936 234.8L936.6 235.5L937.3 236L938.2 236.2L939.2 236.3L940.2 236.3L941.2 236.2L942.2 236.2L943.2 236.2L944.1 236.4L944.9 236.8L945.6 237.3L946.2 237.9L946.9 238.6L947.5 239.2L948.1 239.8L948.8 240.3L949.6 240.7L950.5 240.9L951.5 240.9L952.5 240.9L953.5 240.8L954.5 240.8L955.5 240.9L956.4 241.1L957.1 241.6L957.7 242.3L958.3 243.2L958.7 244.2L959 245.5M934.7 231.6L933.5 231.3L932.3 231.1L931.3 231.1L930.4 231.3L929.6 231.7L929 232.3L928.4 233.1L927.9 234L927.4 234.9L927 235.8L926.4 236.6L925.8 237.3L925.1 237.8L924.3 238.1L923.4 238.4L922.6 238.6L921.7 238.7L920.8 239L920 239.3L919.3 239.8L918.7 240.5L918.1 241.3L917.7 242.2L917.2 243.1L916.7 244L916.1 244.8L915.5 245.4L914.7 245.8L913.8 246L912.8 246L911.6 245.8L910.4 245.5M934.7 231.6L935.6 230.7L936.3 229.9L936.8 229L937.1 228.1L937.1 227.2L936.9 226.4L936.5 225.5L936 224.6L935.4 223.8L934.9 222.9L934.5 222.1L934.2 221.2L934.1 220.4L934.2 219.5L934.4 218.7L934.7 217.8L935 216.9L935.2 216.1L935.3 215.2L935.2 214.4L934.9 213.5L934.5 212.7L934 211.8L933.4 211L932.9 210.1L932.5 209.2L932.3 208.4L932.3 207.5L932.6 206.6L933.1 205.7L933.8 204.9L934.7 204M959 273.1L959.3 274.4L959.7 275.4L960.3 276.3L960.9 277L961.6 277.5L962.5 277.7L963.5 277.8L964.5 277.8L965.5 277.7L966.5 277.7L967.5 277.7L968.4 277.9L969.2 278.3L969.9 278.8L970.5 279.4L971.1 280.1L971.8 280.7L972.4 281.3L973.1 281.8L973.9 282.2L974.8 282.4L975.8 282.4L976.8 282.4L977.8 282.3L978.8 282.3L979.8 282.4L980.7 282.6L981.4 283.1L982 283.8L982.6 284.7L983 285.7L983.3 287M959 273.1L957.8 272.8L956.6 272.6L955.6 272.6L954.7 272.8L953.9 273.2L953.3 273.8L952.7 274.6L952.2 275.5L951.7 276.4L951.3 277.3L950.7 278.1L950.1 278.8L949.4 279.3L948.6 279.6L947.7 279.9L946.9 280.1L946 280.2L945.1 280.5L944.3 280.8L943.6 281.3L943 282L942.4 282.8L942 283.7L941.5 284.6L941 285.5L940.4 286.3L939.8 286.9L939 287.3L938.1 287.5L937.1 287.5L935.9 287.3L934.7 287M959 273.1L959.9 272.2L960.6 271.4L961.1 270.5L961.4 269.6L961.4 268.7L961.2 267.9L960.8 267L960.3 266.1L959.7 265.3L959.2 264.4L958.8 263.6L958.5 262.7L958.4 261.9L958.5 261L958.7 260.2L959 259.3L959.3 258.4L959.5 257.6L959.6 256.7L959.5 255.9L959.2 255L958.8 254.2L958.3 253.3L957.7 252.5L957.2 251.6L956.8 250.7L956.6 249.9L956.6 249L956.9 248.1L957.4 247.2L958.1 246.4L959 245.5M983.3 231.6L982.1 231.3L980.9 231.1L979.9 231.1L979 231.3L978.2 231.7L977.6 232.3L977 233.1L976.5 234L976 234.9L975.6 235.8L975 236.6L974.4 237.3L973.7 237.8L972.9 238.1L972 238.4L971.2 238.6L970.3 238.7L969.4 239L968.6 239.3L967.9 239.8L967.3 240.5L966.7 241.3L966.3 242.2L965.8 243.1L965.3 244L964.7 244.8L964.1 245.4L963.3 245.8L962.4 246L961.4 246L960.2 245.8L959 245.5" fill="none" stroke="#417b66" stroke-width="1.7" stroke-linejoin="round"/></g><path d="M813.2 217.8H910.4L959 300.8H861.8Z" fill="none" stroke="#d2d2c0" stroke-width="0.7"/>
<clipPath id="cp6"><path d="M975 215H1074.6L1123.2 299.6H1023.6Z"/></clipPath><path d="M975 215H1074.6L1123.2 299.6H1023.6Z" fill="#f4f4dc"/><g clip-path="url(#cp6)"><path d="M949.9 229.1C952.9 243.6 971.6 228.7 974.6 243.2M974.2 271.4C977.2 285.9 995.9 271 998.9 285.5M974.2 271.4C960.1 266.4 963.2 290.5 949.1 285.5M974.2 271.4C985.4 261.9 963.4 252.7 974.6 243.2M998.5 313.7C1009.7 304.2 987.7 295 998.9 285.5M999.7 229.1C1002.7 243.6 1021.4 228.7 1024.4 243.2M999.7 229.1C985.6 224.1 988.7 248.2 974.6 243.2M999.7 229.1C1010.9 219.6 988.9 210.4 1000.1 200.9M1024 271.4C1027 285.9 1045.7 271 1048.7 285.5M1024 271.4C1009.9 266.4 1013 290.5 998.9 285.5M1024 271.4C1035.2 261.9 1013.2 252.7 1024.4 243.2M1048.3 313.7C1059.5 304.2 1037.5 295 1048.7 285.5M1049.5 229.1C1052.5 243.6 1071.2 228.7 1074.2 243.2M1049.5 229.1C1035.4 224.1 1038.5 248.2 1024.4 243.2M1049.5 229.1C1060.7 219.6 1038.7 210.4 1049.9 200.9M1073.8 271.4C1076.8 285.9 1095.5 271 1098.5 285.5M1073.8 271.4C1059.7 266.4 1062.8 290.5 1048.7 285.5M1073.8 271.4C1085 261.9 1063 252.7 1074.2 243.2M1098.1 313.7C1109.3 304.2 1087.3 295 1098.5 285.5M1099.3 229.1C1102.3 243.6 1121 228.7 1124 243.2M1099.3 229.1C1085.2 224.1 1088.3 248.2 1074.2 243.2M1099.3 229.1C1110.5 219.6 1088.5 210.4 1099.7 200.9M1123.6 271.4C1126.6 285.9 1145.3 271 1148.3 285.5M1123.6 271.4C1109.5 266.4 1112.6 290.5 1098.5 285.5M1123.6 271.4C1134.8 261.9 1112.8 252.7 1124 243.2M1149.1 229.1C1135 224.1 1138.1 248.2 1124 243.2" fill="none" stroke="#438b76" stroke-width="2.6" stroke-linejoin="round"/></g><path d="M975 215H1074.6L1123.2 299.6H1023.6Z" fill="none" stroke="#d2d2c0" stroke-width="0.7"/>
<clipPath id="cp7"><path d="M1139.6 215H1239.8L1289 300.8H1188.8Z"/></clipPath><path d="M1139.6 215H1239.8L1289 300.8H1188.8Z" fill="#f4f4dc"/><g clip-path="url(#cp7)"><path d="M1114.4 229.3C1118.3 240.7 1127.5 246 1139.3 243.6M1139 272.2C1142.9 283.6 1152.1 288.9 1163.9 286.5M1139 272.2C1127.1 269.7 1117.8 275 1113.8 286.5M1139 272.2C1147 263.3 1147.1 252.7 1139.3 243.6M1163.6 315.1C1171.6 306.2 1171.7 295.6 1163.9 286.5M1164.5 229.3C1168.4 240.7 1177.6 246 1189.4 243.6M1164.5 229.3C1152.6 226.8 1143.3 232.1 1139.3 243.6M1164.5 229.3C1172.5 220.4 1172.6 209.8 1164.8 200.7M1189.1 272.2C1193 283.6 1202.2 288.9 1214 286.5M1189.1 272.2C1177.2 269.7 1167.9 275 1163.9 286.5M1189.1 272.2C1197.1 263.3 1197.2 252.7 1189.4 243.6M1213.7 315.1C1221.7 306.2 1221.8 295.6 1214 286.5M1214.6 229.3C1218.5 240.7 1227.7 246 1239.5 243.6M1214.6 229.3C1202.7 226.8 1193.4 232.1 1189.4 243.6M1214.6 229.3C1222.6 220.4 1222.7 209.8 1214.9 200.7M1239.2 272.2C1243.1 283.6 1252.3 288.9 1264.1 286.5M1239.2 272.2C1227.3 269.7 1218 275 1214 286.5M1239.2 272.2C1247.2 263.3 1247.3 252.7 1239.5 243.6M1263.8 315.1C1271.8 306.2 1271.9 295.6 1264.1 286.5M1264.7 229.3C1268.6 240.7 1277.8 246 1289.6 243.6M1264.7 229.3C1252.8 226.8 1243.5 232.1 1239.5 243.6M1264.7 229.3C1272.7 220.4 1272.8 209.8 1265 200.7M1289.3 272.2C1293.2 283.6 1302.4 288.9 1314.2 286.5M1289.3 272.2C1277.4 269.7 1268.1 275 1264.1 286.5M1289.3 272.2C1297.3 263.3 1297.4 252.7 1289.6 243.6M1314.8 229.3C1302.9 226.8 1293.6 232.1 1289.6 243.6" fill="none" stroke="#438b76" stroke-width="3.8" stroke-linejoin="round"/></g><path d="M1139.6 215H1239.8L1289 300.8H1188.8Z" fill="none" stroke="#d2d2c0" stroke-width="0.7"/>
<clipPath id="cp8"><path d="M1304.8 213.9C1306.7 213.4 1311.5 212 1316 211.2C1320.5 210.4 1327.6 209.2 1332 209.1C1336.4 209 1338.8 209.7 1342.7 210.7C1346.6 211.6 1351.2 213.5 1355.5 214.9C1359.7 216.4 1364.2 218.4 1368.3 219.2C1372.4 220 1375.9 220.1 1380 219.7C1384.1 219.4 1388.5 218 1392.8 217.1C1397.1 216.2 1402.4 213.9 1405.6 214.4C1408.8 214.9 1410.9 219.3 1412 220.3C1413.1 221.5 1416.6 225.1 1418.4 227.7C1420.2 230.4 1421.1 232.9 1422.7 236.3C1424.3 239.6 1426.2 243.4 1428 248C1429.8 252.6 1431.6 258.5 1433.3 264C1435.1 269.5 1436.9 276.3 1438.7 281.1C1440.4 285.9 1441.3 289.5 1444 292.8C1446.7 296.1 1452.9 299.5 1454.7 300.8C1452.9 301.1 1447.6 301.7 1444 302.4C1440.4 303.1 1436.9 304.5 1433.3 305.1C1429.8 305.6 1427.1 306.2 1422.7 305.6C1418.2 305 1411.5 302.8 1406.7 301.3C1401.9 299.9 1397.8 298 1393.9 297.1C1390 296.2 1387.3 295.8 1383.2 296C1379.1 296.2 1374.3 297.4 1369.3 298.1C1364.4 298.8 1356 299.9 1353.3 300.3C1351.9 298.7 1347.1 293.9 1344.8 290.7C1342.5 287.5 1341.1 284.6 1339.5 281.1C1337.9 277.5 1336.8 274 1335.2 269.3C1333.6 264.7 1331.6 258.3 1329.9 253.3C1328.1 248.4 1326.3 243.7 1324.5 239.5C1322.8 235.2 1322.5 232 1319.2 227.7C1315.9 223.5 1307.2 216.2 1304.8 213.9Z"/></clipPath><path d="M1304.8 213.9C1306.7 213.4 1311.5 212 1316 211.2C1320.5 210.4 1327.6 209.2 1332 209.1C1336.4 209 1338.8 209.7 1342.7 210.7C1346.6 211.6 1351.2 213.5 1355.5 214.9C1359.7 216.4 1364.2 218.4 1368.3 219.2C1372.4 220 1375.9 220.1 1380 219.7C1384.1 219.4 1388.5 218 1392.8 217.1C1397.1 216.2 1402.4 213.9 1405.6 214.4C1408.8 214.9 1410.9 219.3 1412 220.3C1413.1 221.5 1416.6 225.1 1418.4 227.7C1420.2 230.4 1421.1 232.9 1422.7 236.3C1424.3 239.6 1426.2 243.4 1428 248C1429.8 252.6 1431.6 258.5 1433.3 264C1435.1 269.5 1436.9 276.3 1438.7 281.1C1440.4 285.9 1441.3 289.5 1444 292.8C1446.7 296.1 1452.9 299.5 1454.7 300.8C1452.9 301.1 1447.6 301.7 1444 302.4C1440.4 303.1 1436.9 304.5 1433.3 305.1C1429.8 305.6 1427.1 306.2 1422.7 305.6C1418.2 305 1411.5 302.8 1406.7 301.3C1401.9 299.9 1397.8 298 1393.9 297.1C1390 296.2 1387.3 295.8 1383.2 296C1379.1 296.2 1374.3 297.4 1369.3 298.1C1364.4 298.8 1356 299.9 1353.3 300.3C1351.9 298.7 1347.1 293.9 1344.8 290.7C1342.5 287.5 1341.1 284.6 1339.5 281.1C1337.9 277.5 1336.8 274 1335.2 269.3C1333.6 264.7 1331.6 258.3 1329.9 253.3C1328.1 248.4 1326.3 243.7 1324.5 239.5C1322.8 235.2 1322.5 232 1319.2 227.7C1315.9 223.5 1307.2 216.2 1304.8 213.9Z" fill="#f4f4dc"/><g clip-path="url(#cp8)"><path d="M1333.1 224.5L1334.8 200.6M1333.1 224.5L1308.3 230.5M1376.8 234.1L1375.1 211.1M1408.8 237.3L1424.2 223.7M1351.2 276.8L1336.7 290.5M1384.8 280L1385.7 303.9M1426.9 289.6L1450.8 284.5M1426.9 289.6L1425.2 313.5M1333.1 224.5Q1343.7 234.7 1350.1 246.9M1350.1 246.9Q1362.4 244.8 1376.8 234.1M1350.1 246.9Q1346.4 261.9 1351.2 276.8M1376.8 234.1Q1392.8 235.7 1408.8 237.3M1408.8 237.3Q1413.1 252 1410.9 267.7M1351.2 276.8Q1368.5 277.3 1384.8 280M1410.9 267.7Q1394.1 269.1 1384.8 280M1410.9 267.7Q1420 279.2 1426.9 289.6" fill="none" stroke="#438b76" stroke-width="8" stroke-linejoin="round" stroke-linecap="butt"/></g><path d="M1304.8 213.9C1306.7 213.4 1311.5 212 1316 211.2C1320.5 210.4 1327.6 209.2 1332 209.1C1336.4 209 1338.8 209.7 1342.7 210.7C1346.6 211.6 1351.2 213.5 1355.5 214.9C1359.7 216.4 1364.2 218.4 1368.3 219.2C1372.4 220 1375.9 220.1 1380 219.7C1384.1 219.4 1388.5 218 1392.8 217.1C1397.1 216.2 1402.4 213.9 1405.6 214.4C1408.8 214.9 1410.9 219.3 1412 220.3C1413.1 221.5 1416.6 225.1 1418.4 227.7C1420.2 230.4 1421.1 232.9 1422.7 236.3C1424.3 239.6 1426.2 243.4 1428 248C1429.8 252.6 1431.6 258.5 1433.3 264C1435.1 269.5 1436.9 276.3 1438.7 281.1C1440.4 285.9 1441.3 289.5 1444 292.8C1446.7 296.1 1452.9 299.5 1454.7 300.8C1452.9 301.1 1447.6 301.7 1444 302.4C1440.4 303.1 1436.9 304.5 1433.3 305.1C1429.8 305.6 1427.1 306.2 1422.7 305.6C1418.2 305 1411.5 302.8 1406.7 301.3C1401.9 299.9 1397.8 298 1393.9 297.1C1390 296.2 1387.3 295.8 1383.2 296C1379.1 296.2 1374.3 297.4 1369.3 298.1C1364.4 298.8 1356 299.9 1353.3 300.3C1351.9 298.7 1347.1 293.9 1344.8 290.7C1342.5 287.5 1341.1 284.6 1339.5 281.1C1337.9 277.5 1336.8 274 1335.2 269.3C1333.6 264.7 1331.6 258.3 1329.9 253.3C1328.1 248.4 1326.3 243.7 1324.5 239.5C1322.8 235.2 1322.5 232 1319.2 227.7C1315.9 223.5 1307.2 216.2 1304.8 213.9Z" fill="none" stroke="#d2d2c0" stroke-width="0.7"/>
<clipPath id="cp9"><path d="M812.6 347.4H912.8L962 433.5H861.8Z"/></clipPath><path d="M812.6 347.4H912.8L962 433.5H861.8Z" fill="#f4f4dc"/><g clip-path="url(#cp9)"><path d="M787.4 361.8L787.6 362.6L787.8 363.4L788.1 364.1L788.5 364.5L789 364.9L789.6 365L790.3 365L791 365L791.8 364.9L792.5 364.8L793.1 364.9L793.7 365.1L794.2 365.5L794.6 366L795 366.5L795.3 367.2L795.6 367.8L796 368.4L796.4 368.8L797 369.1L797.6 369.3L798.3 369.2L799 369.1L799.9 368.9L800.7 368.7L801.4 368.6L802.1 368.6L802.7 368.7L803.3 369L803.7 369.5L804.1 370L804.4 370.7L804.7 371.3L805.1 371.9L805.5 372.4L806 372.7L806.6 372.9L807.2 373L807.9 373L808.7 372.9L809.4 372.8L810.1 372.9L810.7 373L811.2 373.3L811.6 373.8L811.9 374.4L812.1 375.2L812.3 376.1M812 404.8L812.2 405.7L812.4 406.5L812.7 407.1L813.1 407.6L813.6 407.9L814.2 408L814.9 408.1L815.6 408L816.4 407.9L817.1 407.9L817.7 408L818.3 408.2L818.8 408.5L819.2 409L819.6 409.6L819.9 410.2L820.2 410.9L820.6 411.4L821 411.9L821.6 412.2L822.2 412.3L822.9 412.3L823.6 412.2L824.4 412L825.3 411.8L826 411.7L826.7 411.6L827.3 411.8L827.9 412.1L828.3 412.5L828.7 413.1L829 413.7L829.3 414.4L829.7 414.9L830.1 415.4L830.6 415.8L831.2 416L831.8 416.1L832.5 416L833.3 415.9L834 415.9L834.7 415.9L835.3 416L835.8 416.4L836.2 416.8L836.5 417.5L836.7 418.3L836.9 419.1M812 404.8L811.2 404.5L810.4 404.3L809.6 404.3L809 404.4L808.5 404.6L808 405.1L807.7 405.7L807.4 406.3L807 407L806.7 407.6L806.3 408.2L805.8 408.6L805.3 408.8L804.7 408.9L804 408.9L803.2 408.9L802.5 408.9L801.8 408.9L801.2 409.1L800.7 409.4L800.3 409.8L799.9 410.4L799.6 411.2L799.4 412L799.2 412.8L798.9 413.5L798.5 414.1L798.1 414.6L797.6 414.9L797 415L796.3 415.1L795.6 415.1L794.8 415L794.1 415L793.5 415.1L793 415.4L792.5 415.8L792.1 416.3L791.8 416.9L791.4 417.6L791.1 418.3L790.8 418.9L790.3 419.3L789.8 419.6L789.2 419.7L788.4 419.6L787.6 419.4L786.8 419.1M812 404.8L812.7 404.2L813.2 403.6L813.7 403L813.9 402.5L813.9 401.9L813.7 401.3L813.4 400.7L813 400.1L812.6 399.5L812.2 398.9L811.9 398.3L811.8 397.7L811.9 397.1L812.1 396.5L812.5 395.9L812.9 395.3L813.3 394.7L813.6 394.1L813.7 393.5L813.7 392.9L813.6 392.3L813.2 391.7L812.7 391.1L812.1 390.4L811.6 389.8L811.1 389.2L810.7 388.6L810.6 388L810.6 387.4L810.7 386.8L811 386.2L811.4 385.6L811.8 385L812.2 384.4L812.4 383.8L812.5 383.2L812.4 382.6L812.1 382L811.7 381.4L811.3 380.8L810.9 380.2L810.6 379.6L810.4 379L810.4 378.4L810.6 377.9L811.1 377.3L811.6 376.7L812.3 376.1M836.6 447.9L837.3 447.3L837.8 446.7L838.3 446.1L838.5 445.5L838.5 444.9L838.3 444.3L838 443.7L837.6 443.1L837.2 442.5L836.8 441.9L836.5 441.3L836.4 440.7L836.5 440.1L836.7 439.5L837.1 438.9L837.5 438.3L837.9 437.7L838.2 437.1L838.3 436.5L838.3 435.9L838.2 435.3L837.8 434.7L837.3 434.1L836.8 433.5L836.2 432.9L835.7 432.3L835.3 431.7L835.2 431.1L835.2 430.5L835.3 429.9L835.6 429.3L836 428.7L836.4 428.1L836.8 427.5L837 426.9L837.1 426.3L837 425.7L836.7 425.1L836.3 424.5L835.9 423.9L835.5 423.3L835.2 422.7L835 422.1L835 421.5L835.2 420.9L835.7 420.3L836.2 419.7L836.9 419.1M837.5 361.8L837.7 362.6L837.9 363.4L838.2 364.1L838.6 364.5L839.1 364.9L839.7 365L840.4 365L841.1 365L841.9 364.9L842.6 364.8L843.2 364.9L843.8 365.1L844.3 365.5L844.7 366L845.1 366.5L845.4 367.2L845.7 367.8L846.1 368.4L846.5 368.8L847.1 369.1L847.7 369.3L848.4 369.2L849.1 369.1L849.9 368.9L850.8 368.7L851.5 368.6L852.2 368.6L852.8 368.7L853.4 369L853.8 369.5L854.2 370L854.5 370.7L854.8 371.3L855.2 371.9L855.6 372.4L856.1 372.7L856.7 372.9L857.3 373L858 373L858.8 372.9L859.5 372.8L860.2 372.9L860.8 373L861.3 373.3L861.7 373.8L862 374.4L862.2 375.2L862.4 376.1M837.5 361.8L836.7 361.5L835.9 361.3L835.1 361.2L834.5 361.3L834 361.6L833.5 362L833.2 362.6L832.9 363.3L832.5 364L832.2 364.6L831.8 365.1L831.3 365.5L830.8 365.8L830.2 365.9L829.5 365.9L828.7 365.8L828 365.8L827.3 365.9L826.7 366L826.2 366.3L825.8 366.8L825.4 367.4L825.1 368.1L824.9 368.9L824.7 369.7L824.4 370.5L824 371.1L823.6 371.5L823.1 371.8L822.5 372L821.8 372L821.1 372L820.3 372L819.6 372L819 372.1L818.5 372.3L818 372.7L817.6 373.3L817.3 373.9L816.9 374.6L816.6 375.2L816.3 375.8L815.8 376.3L815.3 376.5L814.7 376.6L813.9 376.6L813.1 376.4L812.3 376.1M837.5 361.8L838.2 361.2L838.7 360.6L839.2 360L839.4 359.4L839.4 358.8L839.2 358.2L838.9 357.6L838.5 357L838.1 356.4L837.7 355.8L837.4 355.2L837.3 354.6L837.4 354L837.6 353.4L838 352.8L838.4 352.2L838.8 351.6L839.1 351L839.2 350.4L839.2 349.8L839.1 349.2L838.7 348.6L838.2 348L837.6 347.4L837.1 346.8L836.6 346.2L836.2 345.6L836.1 345L836.1 344.4L836.2 343.8L836.5 343.2L836.9 342.6L837.3 342L837.7 341.4L837.9 340.8L838 340.2L837.9 339.6L837.6 339L837.2 338.4L836.8 337.8L836.4 337.2L836.1 336.6L835.9 336L835.9 335.4L836.1 334.8L836.6 334.2L837.1 333.6L837.8 333M862.1 404.8L862.3 405.7L862.5 406.5L862.8 407.1L863.2 407.6L863.7 407.9L864.3 408L865 408.1L865.7 408L866.5 407.9L867.2 407.9L867.8 408L868.4 408.2L868.9 408.5L869.3 409L869.7 409.6L870 410.2L870.3 410.9L870.7 411.4L871.1 411.9L871.7 412.2L872.3 412.3L873 412.3L873.7 412.2L874.5 412L875.4 411.8L876.1 411.7L876.8 411.6L877.4 411.8L878 412.1L878.4 412.5L878.8 413.1L879.1 413.7L879.4 414.4L879.8 414.9L880.2 415.4L880.7 415.8L881.3 416L881.9 416.1L882.6 416L883.4 415.9L884.1 415.9L884.8 415.9L885.4 416L885.9 416.4L886.3 416.8L886.6 417.5L886.8 418.3L887 419.1M862.1 404.8L861.3 404.5L860.5 404.3L859.7 404.3L859.1 404.4L858.6 404.6L858.1 405.1L857.8 405.7L857.5 406.3L857.1 407L856.8 407.6L856.4 408.2L855.9 408.6L855.4 408.8L854.8 408.9L854.1 408.9L853.3 408.9L852.6 408.9L851.9 408.9L851.3 409.1L850.8 409.4L850.4 409.8L850 410.4L849.7 411.2L849.5 412L849.3 412.8L849 413.5L848.6 414.1L848.2 414.6L847.7 414.9L847.1 415L846.4 415.1L845.7 415.1L844.9 415L844.2 415L843.6 415.1L843.1 415.4L842.6 415.8L842.2 416.3L841.9 416.9L841.5 417.6L841.2 418.3L840.9 418.9L840.4 419.3L839.9 419.6L839.3 419.7L838.5 419.6L837.7 419.4L836.9 419.1M862.1 404.8L862.8 404.2L863.3 403.6L863.8 403L864 402.5L864 401.9L863.8 401.3L863.5 400.7L863.1 400.1L862.7 399.5L862.3 398.9L862 398.3L861.9 397.7L862 397.1L862.2 396.5L862.6 395.9L863 395.3L863.4 394.7L863.7 394.1L863.8 393.5L863.8 392.9L863.7 392.3L863.3 391.7L862.8 391.1L862.2 390.4L861.7 389.8L861.2 389.2L860.8 388.6L860.7 388L860.7 387.4L860.8 386.8L861.1 386.2L861.5 385.6L861.9 385L862.3 384.4L862.5 383.8L862.6 383.2L862.5 382.6L862.2 382L861.8 381.4L861.4 380.8L861 380.2L860.7 379.6L860.5 379L860.5 378.4L860.7 377.9L861.2 377.3L861.7 376.7L862.4 376.1M886.7 447.9L887.4 447.3L887.9 446.7L888.4 446.1L888.6 445.5L888.6 444.9L888.4 444.3L888.1 443.7L887.7 443.1L887.3 442.5L886.9 441.9L886.6 441.3L886.5 440.7L886.6 440.1L886.8 439.5L887.2 438.9L887.6 438.3L888 437.7L888.3 437.1L888.4 436.5L888.4 435.9L888.3 435.3L887.9 434.7L887.4 434.1L886.9 433.5L886.3 432.9L885.8 432.3L885.4 431.7L885.3 431.1L885.3 430.5L885.4 429.9L885.7 429.3L886.1 428.7L886.5 428.1L886.9 427.5L887.1 426.9L887.2 426.3L887.1 425.7L886.8 425.1L886.4 424.5L886 423.9L885.6 423.3L885.3 422.7L885.1 422.1L885.1 421.5L885.3 420.9L885.8 420.3L886.3 419.7L887 419.1M887.6 361.8L887.8 362.6L888 363.4L888.3 364.1L888.7 364.5L889.2 364.9L889.8 365L890.5 365L891.2 365L892 364.9L892.7 364.8L893.3 364.9L893.9 365.1L894.4 365.5L894.8 366L895.2 366.5L895.5 367.2L895.8 367.8L896.2 368.4L896.6 368.8L897.2 369.1L897.8 369.3L898.5 369.2L899.2 369.1L900 368.9L900.9 368.7L901.6 368.6L902.3 368.6L902.9 368.7L903.5 369L903.9 369.5L904.3 370L904.6 370.7L904.9 371.3L905.3 371.9L905.7 372.4L906.2 372.7L906.8 372.9L907.4 373L908.1 373L908.9 372.9L909.6 372.8L910.3 372.9L910.9 373L911.4 373.3L911.8 373.8L912.1 374.4L912.3 375.2L912.5 376.1M887.6 361.8L886.8 361.5L886 361.3L885.2 361.2L884.6 361.3L884.1 361.6L883.6 362L883.3 362.6L883 363.3L882.6 364L882.3 364.6L881.9 365.1L881.4 365.5L880.9 365.8L880.3 365.9L879.6 365.9L878.8 365.8L878.1 365.8L877.4 365.9L876.8 366L876.3 366.3L875.9 366.8L875.5 367.4L875.2 368.1L875 368.9L874.8 369.7L874.5 370.5L874.1 371.1L873.7 371.5L873.2 371.8L872.6 372L871.9 372L871.2 372L870.4 372L869.7 372L869.1 372.1L868.6 372.3L868.1 372.7L867.7 373.3L867.4 373.9L867 374.6L866.7 375.2L866.4 375.8L865.9 376.3L865.4 376.5L864.8 376.6L864 376.6L863.2 376.4L862.4 376.1M887.6 361.8L888.3 361.2L888.8 360.6L889.3 360L889.5 359.4L889.5 358.8L889.3 358.2L889 357.6L888.6 357L888.2 356.4L887.8 355.8L887.5 355.2L887.4 354.6L887.5 354L887.7 353.4L888.1 352.8L888.5 352.2L888.9 351.6L889.2 351L889.3 350.4L889.3 349.8L889.2 349.2L888.8 348.6L888.3 348L887.8 347.4L887.2 346.8L886.7 346.2L886.3 345.6L886.2 345L886.2 344.4L886.3 343.8L886.6 343.2L887 342.6L887.4 342L887.8 341.4L888 340.8L888.1 340.2L888 339.6L887.7 339L887.3 338.4L886.9 337.8L886.5 337.2L886.2 336.6L886 336L886 335.4L886.2 334.8L886.7 334.2L887.2 333.6L887.9 333M912.2 404.8L912.4 405.7L912.6 406.5L912.9 407.1L913.3 407.6L913.8 407.9L914.4 408L915.1 408.1L915.8 408L916.6 407.9L917.3 407.9L917.9 408L918.5 408.2L919 408.5L919.4 409L919.8 409.6L920.1 410.2L920.4 410.9L920.8 411.4L921.2 411.9L921.8 412.2L922.4 412.3L923.1 412.3L923.8 412.2L924.7 412L925.5 411.8L926.2 411.7L926.9 411.6L927.5 411.8L928.1 412.1L928.5 412.5L928.9 413.1L929.2 413.7L929.5 414.4L929.9 414.9L930.3 415.4L930.8 415.8L931.4 416L932 416.1L932.7 416L933.5 415.9L934.2 415.9L934.9 415.9L935.5 416L936 416.4L936.4 416.8L936.7 417.5L936.9 418.3L937.1 419.1M912.2 404.8L911.4 404.5L910.6 404.3L909.8 404.3L909.2 404.4L908.7 404.6L908.2 405.1L907.9 405.7L907.6 406.3L907.2 407L906.9 407.6L906.5 408.2L906 408.6L905.5 408.8L904.9 408.9L904.2 408.9L903.4 408.9L902.7 408.9L902 408.9L901.4 409.1L900.9 409.4L900.5 409.8L900.1 410.4L899.8 411.2L899.6 412L899.4 412.8L899.1 413.5L898.7 414.1L898.3 414.6L897.8 414.9L897.2 415L896.5 415.1L895.8 415.1L895 415L894.3 415L893.7 415.1L893.2 415.4L892.7 415.8L892.3 416.3L892 416.9L891.6 417.6L891.3 418.3L891 418.9L890.5 419.3L890 419.6L889.4 419.7L888.6 419.6L887.8 419.4L887 419.1M912.2 404.8L912.9 404.2L913.4 403.6L913.9 403L914.1 402.5L914.1 401.9L913.9 401.3L913.6 400.7L913.2 400.1L912.8 399.5L912.4 398.9L912.1 398.3L912 397.7L912.1 397.1L912.3 396.5L912.7 395.9L913.1 395.3L913.5 394.7L913.8 394.1L913.9 393.5L913.9 392.9L913.8 392.3L913.4 391.7L912.9 391.1L912.4 390.4L911.8 389.8L911.3 389.2L910.9 388.6L910.8 388L910.8 387.4L910.9 386.8L911.2 386.2L911.6 385.6L912 385L912.4 384.4L912.6 383.8L912.7 383.2L912.6 382.6L912.3 382L911.9 381.4L911.5 380.8L911.1 380.2L910.8 379.6L910.6 379L910.6 378.4L910.8 377.9L911.3 377.3L911.8 376.7L912.5 376.1M936.8 447.9L937.5 447.3L938 446.7L938.5 446.1L938.7 445.5L938.7 444.9L938.5 444.3L938.2 443.7L937.8 443.1L937.4 442.5L937 441.9L936.7 441.3L936.6 440.7L936.7 440.1L936.9 439.5L937.3 438.9L937.7 438.3L938.1 437.7L938.4 437.1L938.5 436.5L938.5 435.9L938.4 435.3L938 434.7L937.5 434.1L937 433.5L936.4 432.9L935.9 432.3L935.5 431.7L935.4 431.1L935.4 430.5L935.5 429.9L935.8 429.3L936.2 428.7L936.6 428.1L937 427.5L937.2 426.9L937.3 426.3L937.2 425.7L936.9 425.1L936.5 424.5L936.1 423.9L935.7 423.3L935.4 422.7L935.2 422.1L935.2 421.5L935.4 420.9L935.9 420.3L936.4 419.7L937.1 419.1M937.7 361.8L937.9 362.6L938.1 363.4L938.4 364.1L938.8 364.5L939.3 364.9L939.9 365L940.6 365L941.3 365L942.1 364.9L942.8 364.8L943.4 364.9L944 365.1L944.5 365.5L944.9 366L945.3 366.5L945.6 367.2L945.9 367.8L946.3 368.4L946.7 368.8L947.3 369.1L947.9 369.3L948.6 369.2L949.3 369.1L950.2 368.9L951 368.7L951.7 368.6L952.4 368.6L953 368.7L953.6 369L954 369.5L954.4 370L954.7 370.7L955 371.3L955.4 371.9L955.8 372.4L956.3 372.7L956.9 372.9L957.5 373L958.2 373L959 372.9L959.7 372.8L960.4 372.9L961 373L961.5 373.3L961.9 373.8L962.2 374.4L962.4 375.2L962.6 376.1M937.7 361.8L936.9 361.5L936.1 361.3L935.3 361.2L934.7 361.3L934.2 361.6L933.7 362L933.4 362.6L933.1 363.3L932.7 364L932.4 364.6L932 365.1L931.5 365.5L931 365.8L930.4 365.9L929.7 365.9L928.9 365.8L928.2 365.8L927.5 365.9L926.9 366L926.4 366.3L926 366.8L925.6 367.4L925.3 368.1L925.1 368.9L924.9 369.7L924.6 370.5L924.2 371.1L923.8 371.5L923.3 371.8L922.7 372L922 372L921.3 372L920.5 372L919.8 372L919.2 372.1L918.7 372.3L918.2 372.7L917.8 373.3L917.5 373.9L917.1 374.6L916.8 375.2L916.5 375.8L916 376.3L915.5 376.5L914.9 376.6L914.1 376.6L913.3 376.4L912.5 376.1M937.7 361.8L938.4 361.2L938.9 360.6L939.4 360L939.6 359.4L939.6 358.8L939.4 358.2L939.1 357.6L938.7 357L938.3 356.4L937.9 355.8L937.6 355.2L937.5 354.6L937.6 354L937.8 353.4L938.2 352.8L938.6 352.2L939 351.6L939.3 351L939.4 350.4L939.4 349.8L939.3 349.2L938.9 348.6L938.4 348L937.9 347.4L937.3 346.8L936.8 346.2L936.4 345.6L936.3 345L936.3 344.4L936.4 343.8L936.7 343.2L937.1 342.6L937.5 342L937.9 341.4L938.1 340.8L938.2 340.2L938.1 339.6L937.8 339L937.4 338.4L937 337.8L936.6 337.2L936.3 336.6L936.1 336L936.1 335.4L936.3 334.8L936.8 334.2L937.3 333.6L938 333M962.3 404.8L962.5 405.7L962.7 406.5L963 407.1L963.4 407.6L963.9 407.9L964.5 408L965.2 408.1L965.9 408L966.7 407.9L967.4 407.9L968 408L968.6 408.2L969.1 408.5L969.5 409L969.9 409.6L970.2 410.2L970.5 410.9L970.9 411.4L971.3 411.9L971.9 412.2L972.5 412.3L973.2 412.3L973.9 412.2L974.8 412L975.6 411.8L976.3 411.7L977 411.6L977.6 411.8L978.2 412.1L978.6 412.5L979 413.1L979.3 413.7L979.6 414.4L980 414.9L980.4 415.4L980.9 415.8L981.5 416L982.1 416.1L982.8 416L983.6 415.9L984.3 415.9L985 415.9L985.6 416L986.1 416.4L986.5 416.8L986.8 417.5L987 418.3L987.2 419.1M962.3 404.8L961.5 404.5L960.7 404.3L959.9 404.3L959.3 404.4L958.8 404.6L958.3 405.1L958 405.7L957.7 406.3L957.3 407L957 407.6L956.6 408.2L956.1 408.6L955.6 408.8L955 408.9L954.3 408.9L953.5 408.9L952.8 408.9L952.1 408.9L951.5 409.1L951 409.4L950.6 409.8L950.2 410.4L949.9 411.2L949.7 412L949.5 412.8L949.2 413.5L948.8 414.1L948.4 414.6L947.9 414.9L947.3 415L946.6 415.1L945.9 415.1L945.1 415L944.4 415L943.8 415.1L943.3 415.4L942.8 415.8L942.4 416.3L942.1 416.9L941.7 417.6L941.4 418.3L941.1 418.9L940.6 419.3L940.1 419.6L939.5 419.7L938.7 419.6L937.9 419.4L937.1 419.1M962.3 404.8L963 404.2L963.5 403.6L964 403L964.2 402.5L964.2 401.9L964 401.3L963.7 400.7L963.3 400.1L962.9 399.5L962.5 398.9L962.2 398.3L962.1 397.7L962.2 397.1L962.4 396.5L962.8 395.9L963.2 395.3L963.6 394.7L963.9 394.1L964 393.5L964 392.9L963.9 392.3L963.5 391.7L963 391.1L962.5 390.4L961.9 389.8L961.4 389.2L961 388.6L960.9 388L960.9 387.4L961 386.8L961.3 386.2L961.7 385.6L962.1 385L962.5 384.4L962.7 383.8L962.8 383.2L962.7 382.6L962.4 382L962 381.4L961.6 380.8L961.2 380.2L960.9 379.6L960.7 379L960.7 378.4L960.9 377.9L961.4 377.3L961.9 376.7L962.6 376.1M987.8 361.8L987 361.5L986.2 361.3L985.4 361.2L984.8 361.3L984.3 361.6L983.8 362L983.5 362.6L983.2 363.3L982.8 364L982.5 364.6L982.1 365.1L981.6 365.5L981.1 365.8L980.5 365.9L979.8 365.9L979 365.8L978.3 365.8L977.6 365.9L977 366L976.5 366.3L976.1 366.8L975.7 367.4L975.4 368.1L975.2 368.9L975 369.7L974.7 370.5L974.3 371.1L973.9 371.5L973.4 371.8L972.8 372L972.1 372L971.4 372L970.6 372L969.9 372L969.3 372.1L968.8 372.3L968.3 372.7L967.9 373.3L967.6 373.9L967.2 374.6L966.9 375.2L966.6 375.8L966.1 376.3L965.6 376.5L965 376.6L964.2 376.6L963.4 376.4L962.6 376.1" fill="none" stroke="#417b66" stroke-width="1.4" stroke-linejoin="round"/></g><path d="M812.6 347.4H912.8L962 433.5H861.8Z" fill="none" stroke="#d2d2c0" stroke-width="0.7"/>
<clipPath id="cp10"><path d="M970.8 347.4H1071L1120.2 433.2H1020Z"/></clipPath><path d="M970.8 347.4H1071L1120.2 433.2H1020Z" fill="#f4f4dc"/><g clip-path="url(#cp10)"><path d="M945.6 361.7L945.8 363.3L946.2 364.8L946.6 365.9L947.2 366.8L948 367.2L949 367.4L950.1 367.4L951.2 367.1L952.4 366.8L953.5 366.6L954.6 366.5L955.5 366.6L956.3 366.9L957 367.4L957.5 368.1L958 368.9L958.6 369.6L959.1 370.3L959.8 370.8L960.6 371.1L961.5 371.2L962.6 371.1L963.7 370.9L964.9 370.6L966 370.3L967.1 370.3L968.1 370.5L968.9 370.9L969.5 371.8L969.9 372.9L970.3 374.4L970.5 376M970.2 404.6L970.4 406.2L970.8 407.7L971.2 408.8L971.8 409.7L972.6 410.1L973.6 410.3L974.7 410.3L975.8 410L977 409.7L978.1 409.5L979.2 409.4L980.1 409.5L980.9 409.8L981.6 410.3L982.1 411L982.6 411.7L983.2 412.5L983.7 413.2L984.4 413.7L985.2 414L986.1 414.1L987.2 414L988.3 413.8L989.5 413.5L990.6 413.2L991.7 413.2L992.7 413.4L993.5 413.8L994.1 414.7L994.5 415.8L994.9 417.3L995.1 418.9M970.2 404.6L968.7 404L967.2 403.5L966 403.3L965 403.5L964.1 403.9L963.5 404.6L963 405.6L962.6 406.7L962.2 407.9L961.9 409L961.4 409.9L960.9 410.7L960.2 411.2L959.4 411.5L958.5 411.7L957.6 411.7L956.7 411.8L955.8 412L955 412.3L954.3 412.8L953.8 413.6L953.3 414.5L953 415.6L952.6 416.8L952.2 417.9L951.7 418.9L951.1 419.6L950.2 420L949.2 420.2L948 420L946.5 419.5L945 418.9M970.2 404.6L971.5 403.6L972.6 402.6L973.4 401.7L973.8 400.7L973.8 399.8L973.5 398.9L972.9 398L972.2 397.1L971.3 396.2L970.6 395.3L970 394.5L969.6 393.6L969.5 392.8L969.6 391.9L969.9 391.1L970.3 390.3L970.8 389.5L971.1 388.7L971.2 387.8L971.1 387L970.7 386.1L970.1 385.3L969.4 384.4L968.5 383.5L967.8 382.6L967.2 381.7L966.9 380.8L966.9 379.9L967.3 378.9L968.1 378L969.2 377L970.5 376M994.8 447.5L996.1 446.5L997.2 445.5L998 444.6L998.4 443.6L998.4 442.7L998.1 441.8L997.5 440.9L996.8 440L995.9 439.1L995.2 438.2L994.6 437.4L994.2 436.5L994.1 435.7L994.2 434.8L994.5 434L995 433.2L995.4 432.4L995.7 431.6L995.8 430.7L995.7 429.9L995.3 429L994.7 428.2L994 427.3L993.1 426.4L992.4 425.5L991.8 424.6L991.5 423.7L991.5 422.8L991.9 421.8L992.7 420.9L993.8 419.9L995.1 418.9M995.7 361.7L995.9 363.3L996.3 364.8L996.7 365.9L997.3 366.8L998.1 367.2L999.1 367.4L1000.2 367.4L1001.3 367.1L1002.5 366.8L1003.6 366.6L1004.7 366.5L1005.6 366.6L1006.4 366.9L1007.1 367.4L1007.6 368.1L1008.1 368.9L1008.7 369.6L1009.2 370.3L1009.9 370.8L1010.7 371.1L1011.6 371.2L1012.7 371.1L1013.8 370.9L1015 370.6L1016.1 370.3L1017.2 370.3L1018.2 370.5L1019 370.9L1019.6 371.8L1020 372.9L1020.4 374.4L1020.6 376M995.7 361.7L994.2 361.1L992.7 360.6L991.5 360.4L990.5 360.6L989.6 361L989 361.7L988.5 362.7L988.1 363.8L987.7 365L987.4 366.1L986.9 367L986.4 367.8L985.7 368.3L984.9 368.6L984 368.8L983.1 368.9L982.2 368.9L981.3 369.1L980.5 369.4L979.8 369.9L979.3 370.7L978.8 371.6L978.5 372.7L978.1 373.9L977.7 375L977.2 376L976.6 376.7L975.7 377.1L974.7 377.3L973.5 377.1L972 376.6L970.5 376M995.7 361.7L997 360.7L998.1 359.7L998.9 358.8L999.3 357.8L999.3 356.9L999 356L998.4 355.1L997.7 354.2L996.8 353.3L996.1 352.4L995.5 351.6L995.1 350.7L995 349.9L995.1 349L995.4 348.2L995.8 347.4L996.3 346.6L996.6 345.8L996.7 344.9L996.6 344.1L996.2 343.2L995.6 342.4L994.9 341.5L994 340.6L993.3 339.7L992.7 338.8L992.4 337.9L992.4 337L992.8 336L993.6 335.1L994.7 334.1L996 333.1M1020.3 404.6L1020.5 406.2L1020.9 407.7L1021.3 408.8L1021.9 409.7L1022.7 410.1L1023.7 410.3L1024.8 410.3L1025.9 410L1027.1 409.7L1028.2 409.5L1029.3 409.4L1030.2 409.5L1031 409.8L1031.7 410.3L1032.2 411L1032.8 411.7L1033.3 412.5L1033.8 413.2L1034.5 413.7L1035.3 414L1036.2 414.1L1037.3 414L1038.4 413.8L1039.6 413.5L1040.7 413.2L1041.8 413.2L1042.8 413.4L1043.6 413.8L1044.2 414.7L1044.6 415.8L1045 417.3L1045.2 418.9M1020.3 404.6L1018.8 404L1017.3 403.5L1016.1 403.3L1015.1 403.5L1014.2 403.9L1013.6 404.6L1013.1 405.6L1012.7 406.7L1012.3 407.9L1012 409L1011.5 409.9L1011 410.7L1010.3 411.2L1009.5 411.5L1008.6 411.7L1007.7 411.7L1006.8 411.8L1005.9 412L1005.1 412.3L1004.4 412.8L1003.9 413.6L1003.4 414.5L1003.1 415.6L1002.7 416.8L1002.3 417.9L1001.8 418.9L1001.2 419.6L1000.3 420L999.3 420.2L998.1 420L996.6 419.5L995.1 418.9M1020.3 404.6L1021.6 403.6L1022.7 402.6L1023.5 401.7L1023.9 400.7L1023.9 399.8L1023.6 398.9L1023 398L1022.3 397.1L1021.4 396.2L1020.7 395.3L1020.1 394.5L1019.7 393.6L1019.6 392.8L1019.7 391.9L1020 391.1L1020.5 390.3L1020.9 389.5L1021.2 388.7L1021.3 387.8L1021.2 387L1020.8 386.1L1020.2 385.3L1019.5 384.4L1018.6 383.5L1017.9 382.6L1017.3 381.7L1017 380.8L1017 379.9L1017.4 378.9L1018.2 378L1019.3 377L1020.6 376M1044.9 447.5L1046.2 446.5L1047.3 445.5L1048.1 444.6L1048.5 443.6L1048.5 442.7L1048.2 441.8L1047.6 440.9L1046.9 440L1046 439.1L1045.3 438.2L1044.7 437.4L1044.3 436.5L1044.2 435.7L1044.3 434.8L1044.6 434L1045.1 433.2L1045.5 432.4L1045.8 431.6L1045.9 430.7L1045.8 429.9L1045.4 429L1044.8 428.2L1044.1 427.3L1043.2 426.4L1042.5 425.5L1041.9 424.6L1041.6 423.7L1041.6 422.8L1042 421.8L1042.8 420.9L1043.9 419.9L1045.2 418.9M1045.8 361.7L1046 363.3L1046.4 364.8L1046.8 365.9L1047.4 366.8L1048.2 367.2L1049.2 367.4L1050.3 367.4L1051.4 367.1L1052.6 366.8L1053.7 366.6L1054.8 366.5L1055.7 366.6L1056.5 366.9L1057.2 367.4L1057.7 368.1L1058.2 368.9L1058.8 369.6L1059.3 370.3L1060 370.8L1060.8 371.1L1061.7 371.2L1062.8 371.1L1063.9 370.9L1065.1 370.6L1066.2 370.3L1067.3 370.3L1068.3 370.5L1069.1 370.9L1069.7 371.8L1070.1 372.9L1070.5 374.4L1070.7 376M1045.8 361.7L1044.3 361.1L1042.8 360.6L1041.6 360.4L1040.6 360.6L1039.7 361L1039.1 361.7L1038.6 362.7L1038.2 363.8L1037.8 365L1037.5 366.1L1037 367L1036.5 367.8L1035.8 368.3L1035 368.6L1034.1 368.8L1033.2 368.9L1032.3 368.9L1031.4 369.1L1030.6 369.4L1029.9 369.9L1029.4 370.7L1028.9 371.6L1028.6 372.7L1028.2 373.9L1027.8 375L1027.3 376L1026.7 376.7L1025.8 377.1L1024.8 377.3L1023.6 377.1L1022.1 376.6L1020.6 376M1045.8 361.7L1047.1 360.7L1048.2 359.7L1049 358.8L1049.4 357.8L1049.4 356.9L1049.1 356L1048.5 355.1L1047.8 354.2L1046.9 353.3L1046.2 352.4L1045.6 351.6L1045.2 350.7L1045.1 349.9L1045.2 349L1045.5 348.2L1046 347.4L1046.4 346.6L1046.7 345.8L1046.8 344.9L1046.7 344.1L1046.3 343.2L1045.7 342.4L1045 341.5L1044.1 340.6L1043.4 339.7L1042.8 338.8L1042.5 337.9L1042.5 337L1042.9 336L1043.7 335.1L1044.8 334.1L1046.1 333.1M1070.4 404.6L1070.6 406.2L1071 407.7L1071.4 408.8L1072 409.7L1072.8 410.1L1073.8 410.3L1074.9 410.3L1076 410L1077.2 409.7L1078.3 409.5L1079.4 409.4L1080.3 409.5L1081.1 409.8L1081.8 410.3L1082.3 411L1082.8 411.7L1083.4 412.5L1083.9 413.2L1084.6 413.7L1085.4 414L1086.3 414.1L1087.4 414L1088.5 413.8L1089.7 413.5L1090.8 413.2L1091.9 413.2L1092.9 413.4L1093.7 413.8L1094.3 414.7L1094.7 415.8L1095.1 417.3L1095.3 418.9M1070.4 404.6L1068.9 404L1067.4 403.5L1066.2 403.3L1065.2 403.5L1064.3 403.9L1063.7 404.6L1063.2 405.6L1062.8 406.7L1062.4 407.9L1062.1 409L1061.6 409.9L1061.1 410.7L1060.4 411.2L1059.6 411.5L1058.7 411.7L1057.8 411.7L1056.9 411.8L1056 412L1055.2 412.3L1054.5 412.8L1054 413.6L1053.5 414.5L1053.2 415.6L1052.8 416.8L1052.4 417.9L1051.9 418.9L1051.3 419.6L1050.4 420L1049.4 420.2L1048.2 420L1046.7 419.5L1045.2 418.9M1070.4 404.6L1071.7 403.6L1072.8 402.6L1073.6 401.7L1074 400.7L1074 399.8L1073.7 398.9L1073.1 398L1072.4 397.1L1071.5 396.2L1070.8 395.3L1070.2 394.5L1069.8 393.6L1069.7 392.8L1069.8 391.9L1070.1 391.1L1070.6 390.3L1071 389.5L1071.3 388.7L1071.4 387.8L1071.3 387L1070.9 386.1L1070.3 385.3L1069.6 384.4L1068.7 383.5L1068 382.6L1067.4 381.7L1067.1 380.8L1067.1 379.9L1067.5 378.9L1068.3 378L1069.4 377L1070.7 376M1095 447.5L1096.3 446.5L1097.4 445.5L1098.2 444.6L1098.6 443.6L1098.6 442.7L1098.3 441.8L1097.7 440.9L1097 440L1096.1 439.1L1095.4 438.2L1094.8 437.4L1094.4 436.5L1094.3 435.7L1094.4 434.8L1094.7 434L1095.2 433.2L1095.6 432.4L1095.9 431.6L1096 430.7L1095.9 429.9L1095.5 429L1094.9 428.2L1094.2 427.3L1093.3 426.4L1092.6 425.5L1092 424.6L1091.7 423.7L1091.7 422.8L1092.1 421.8L1092.9 420.9L1094 419.9L1095.3 418.9M1095.9 361.7L1096.1 363.3L1096.5 364.8L1096.9 365.9L1097.5 366.8L1098.3 367.2L1099.3 367.4L1100.4 367.4L1101.5 367.1L1102.7 366.8L1103.8 366.6L1104.9 366.5L1105.8 366.6L1106.6 366.9L1107.3 367.4L1107.8 368.1L1108.3 368.9L1108.9 369.6L1109.4 370.3L1110.1 370.8L1110.9 371.1L1111.8 371.2L1112.9 371.1L1114 370.9L1115.2 370.6L1116.3 370.3L1117.4 370.3L1118.4 370.5L1119.2 370.9L1119.8 371.8L1120.2 372.9L1120.6 374.4L1120.8 376M1095.9 361.7L1094.4 361.1L1092.9 360.6L1091.7 360.4L1090.7 360.6L1089.8 361L1089.2 361.7L1088.7 362.7L1088.3 363.8L1087.9 365L1087.6 366.1L1087.1 367L1086.6 367.8L1085.9 368.3L1085.1 368.6L1084.2 368.8L1083.3 368.9L1082.4 368.9L1081.5 369.1L1080.7 369.4L1080 369.9L1079.5 370.7L1079 371.6L1078.7 372.7L1078.3 373.9L1077.9 375L1077.4 376L1076.8 376.7L1075.9 377.1L1074.9 377.3L1073.7 377.1L1072.2 376.6L1070.7 376M1095.9 361.7L1097.2 360.7L1098.3 359.7L1099.1 358.8L1099.5 357.8L1099.5 356.9L1099.2 356L1098.6 355.1L1097.9 354.2L1097 353.3L1096.3 352.4L1095.7 351.6L1095.3 350.7L1095.2 349.9L1095.3 349L1095.6 348.2L1096.1 347.4L1096.5 346.6L1096.8 345.8L1096.9 344.9L1096.8 344.1L1096.4 343.2L1095.8 342.4L1095.1 341.5L1094.2 340.6L1093.5 339.7L1092.9 338.8L1092.6 337.9L1092.6 337L1093 336L1093.8 335.1L1094.9 334.1L1096.2 333.1M1120.5 404.6L1120.7 406.2L1121.1 407.7L1121.5 408.8L1122.1 409.7L1122.9 410.1L1123.9 410.3L1125 410.3L1126.1 410L1127.3 409.7L1128.4 409.5L1129.5 409.4L1130.4 409.5L1131.2 409.8L1131.9 410.3L1132.4 411L1133 411.7L1133.5 412.5L1134 413.2L1134.7 413.7L1135.5 414L1136.4 414.1L1137.5 414L1138.6 413.8L1139.8 413.5L1140.9 413.2L1142 413.2L1143 413.4L1143.8 413.8L1144.4 414.7L1144.8 415.8L1145.2 417.3L1145.4 418.9M1120.5 404.6L1119 404L1117.5 403.5L1116.3 403.3L1115.3 403.5L1114.4 403.9L1113.8 404.6L1113.3 405.6L1112.9 406.7L1112.5 407.9L1112.2 409L1111.7 409.9L1111.2 410.7L1110.5 411.2L1109.7 411.5L1108.8 411.7L1107.9 411.7L1107 411.8L1106.1 412L1105.3 412.3L1104.6 412.8L1104.1 413.6L1103.6 414.5L1103.3 415.6L1102.9 416.8L1102.5 417.9L1102 418.9L1101.4 419.6L1100.5 420L1099.5 420.2L1098.3 420L1096.8 419.5L1095.3 418.9M1120.5 404.6L1121.8 403.6L1122.9 402.6L1123.7 401.7L1124.1 400.7L1124.1 399.8L1123.8 398.9L1123.2 398L1122.5 397.1L1121.6 396.2L1120.9 395.3L1120.3 394.5L1119.9 393.6L1119.8 392.8L1119.9 391.9L1120.2 391.1L1120.7 390.3L1121.1 389.5L1121.4 388.7L1121.5 387.8L1121.4 387L1121 386.1L1120.4 385.3L1119.7 384.4L1118.8 383.5L1118.1 382.6L1117.5 381.7L1117.2 380.8L1117.2 379.9L1117.6 378.9L1118.4 378L1119.5 377L1120.8 376M1146 361.7L1144.5 361.1L1143 360.6L1141.8 360.4L1140.8 360.6L1139.9 361L1139.3 361.7L1138.8 362.7L1138.4 363.8L1138 365L1137.7 366.1L1137.2 367L1136.7 367.8L1136 368.3L1135.2 368.6L1134.3 368.8L1133.4 368.9L1132.5 368.9L1131.6 369.1L1130.8 369.4L1130.1 369.9L1129.6 370.7L1129.1 371.6L1128.8 372.7L1128.4 373.9L1128 375L1127.5 376L1126.9 376.7L1126 377.1L1125 377.3L1123.8 377.1L1122.3 376.6L1120.8 376" fill="none" stroke="#438b76" stroke-width="2.4" stroke-linejoin="round"/></g><path d="M970.8 347.4H1071L1120.2 433.2H1020Z" fill="none" stroke="#d2d2c0" stroke-width="0.7"/>
<clipPath id="cp11"><path d="M1136.4 346.7C1140.3 346.5 1152 345.1 1159.9 345.1C1167.7 345.1 1174.4 346.1 1183.3 346.7C1192.2 347.4 1204.2 348.8 1213.2 348.9C1222.2 349 1233.2 347.5 1237.2 347.3C1237.8 348.1 1238.4 349 1240.9 352.1C1243.5 355.2 1249.8 360.8 1252.7 365.9C1255.5 371.1 1256.2 377.8 1258 383C1259.8 388.2 1261.2 391.9 1263.3 396.9C1265.5 401.8 1268.1 408.2 1270.8 412.9C1273.5 417.5 1276.7 421 1279.3 424.6C1282 428.2 1285.6 433 1286.8 434.7C1283.4 435.1 1274.9 436.8 1266.5 436.9C1258.2 437 1245.6 435.9 1236.7 435.3C1227.8 434.6 1221.2 433.1 1213.2 433.1C1205.2 433.1 1192.8 434.9 1188.7 435.3C1187.2 433.8 1183.2 430.3 1180.1 426.7C1177.1 423.2 1173 418.6 1170.5 413.9C1168 409.3 1167 404.2 1165.2 399C1163.4 393.8 1161.6 388 1159.9 383C1158.1 378 1156 372.5 1154.5 369.1C1153.1 365.8 1154.4 366.5 1151.3 362.7C1148.3 359 1138.9 349.4 1136.4 346.7Z"/></clipPath><path d="M1136.4 346.7C1140.3 346.5 1152 345.1 1159.9 345.1C1167.7 345.1 1174.4 346.1 1183.3 346.7C1192.2 347.4 1204.2 348.8 1213.2 348.9C1222.2 349 1233.2 347.5 1237.2 347.3C1237.8 348.1 1238.4 349 1240.9 352.1C1243.5 355.2 1249.8 360.8 1252.7 365.9C1255.5 371.1 1256.2 377.8 1258 383C1259.8 388.2 1261.2 391.9 1263.3 396.9C1265.5 401.8 1268.1 408.2 1270.8 412.9C1273.5 417.5 1276.7 421 1279.3 424.6C1282 428.2 1285.6 433 1286.8 434.7C1283.4 435.1 1274.9 436.8 1266.5 436.9C1258.2 437 1245.6 435.9 1236.7 435.3C1227.8 434.6 1221.2 433.1 1213.2 433.1C1205.2 433.1 1192.8 434.9 1188.7 435.3C1187.2 433.8 1183.2 430.3 1180.1 426.7C1177.1 423.2 1173 418.6 1170.5 413.9C1168 409.3 1167 404.2 1165.2 399C1163.4 393.8 1161.6 388 1159.9 383C1158.1 378 1156 372.5 1154.5 369.1C1153.1 365.8 1154.4 366.5 1151.3 362.7C1148.3 359 1138.9 349.4 1136.4 346.7Z" fill="#f4f4dc"/><g clip-path="url(#cp11)"><path d="M1165.7 359L1154.6 337.7M1165.7 359L1146.1 372.7M1213.2 363.8Q1219.2 360 1218.3 341.6M1239.9 373.4L1260.3 364.9M1183.9 408.6L1164.2 417.1M1211.1 418.2Q1205.1 419.9 1205.9 440.4M1258 422.5L1277.6 409.7M1258 422.5L1269.9 443.8M1165.7 359C1171.6 363.8 1174.8 378.7 1188.7 378.2M1188.7 378.2C1189.7 367 1198.3 362.2 1213.2 363.8M1188.7 378.2C1194 385.1 1183.3 399 1183.9 408.6M1213.2 363.8C1214.3 371.3 1231.3 370.2 1239.9 373.4M1239.9 373.4C1239.9 381.9 1229.2 394.7 1235.1 403.3M1183.9 408.6C1196.1 408.1 1208.9 410.7 1211.1 418.2M1235.1 403.3C1232.4 412.9 1220.7 419.8 1211.1 418.2M1235.1 403.3C1246.3 402.2 1250.5 418.2 1258 422.5" fill="none" stroke="#438b76" stroke-width="4.3" stroke-linejoin="round" stroke-linecap="butt"/></g><path d="M1136.4 346.7C1140.3 346.5 1152 345.1 1159.9 345.1C1167.7 345.1 1174.4 346.1 1183.3 346.7C1192.2 347.4 1204.2 348.8 1213.2 348.9C1222.2 349 1233.2 347.5 1237.2 347.3C1237.8 348.1 1238.4 349 1240.9 352.1C1243.5 355.2 1249.8 360.8 1252.7 365.9C1255.5 371.1 1256.2 377.8 1258 383C1259.8 388.2 1261.2 391.9 1263.3 396.9C1265.5 401.8 1268.1 408.2 1270.8 412.9C1273.5 417.5 1276.7 421 1279.3 424.6C1282 428.2 1285.6 433 1286.8 434.7C1283.4 435.1 1274.9 436.8 1266.5 436.9C1258.2 437 1245.6 435.9 1236.7 435.3C1227.8 434.6 1221.2 433.1 1213.2 433.1C1205.2 433.1 1192.8 434.9 1188.7 435.3C1187.2 433.8 1183.2 430.3 1180.1 426.7C1177.1 423.2 1173 418.6 1170.5 413.9C1168 409.3 1167 404.2 1165.2 399C1163.4 393.8 1161.6 388 1159.9 383C1158.1 378 1156 372.5 1154.5 369.1C1153.1 365.8 1154.4 366.5 1151.3 362.7C1148.3 359 1138.9 349.4 1136.4 346.7Z" fill="none" stroke="#d2d2c0" stroke-width="0.7"/>
<clipPath id="cp12"><path d="M1310.1 346C1311.6 346.7 1316.3 349.4 1319.2 350.3C1322.1 351.2 1323.8 351.4 1327.7 351.3C1331.6 351.2 1337.5 350.6 1342.7 349.7C1347.8 348.8 1353.3 347.2 1358.7 346C1364 344.8 1369.3 343.2 1374.7 342.3C1380 341.3 1386.2 340 1390.7 340.1C1395.1 340.2 1398.5 341.6 1401.3 342.8C1404.2 344 1406.7 346.4 1407.7 347.1C1408.3 348.3 1409.9 351.5 1410.9 354.5C1412 357.6 1413.1 362.2 1414.1 365.2C1415.2 368.2 1415.9 369.8 1417.3 372.7C1418.8 375.5 1420 379.2 1422.7 382.3C1425.3 385.3 1430.1 388.3 1433.3 390.8C1436.5 393.3 1439.6 394.5 1441.9 397.2C1444.2 399.9 1445.6 403.4 1447.2 406.8C1448.8 410.2 1450 413.6 1451.5 417.5C1452.9 421.3 1455 427.7 1455.7 429.7C1454.7 429.5 1451.6 428.9 1449.3 428.1C1447 427.3 1444.9 425.6 1441.9 424.9C1438.8 424.2 1435.3 423.7 1431.2 423.9C1427.1 424 1422.3 424.9 1417.3 426C1412.4 427.1 1406.7 428.8 1401.3 430.3C1396 431.7 1389.8 433.6 1385.3 434.5C1380.9 435.5 1378.2 436.3 1374.7 436.1C1371.1 436 1366.8 434.4 1364 433.5C1361.2 432.5 1358.7 430.8 1357.6 430.3C1357.1 428.8 1355.6 425.3 1354.4 421.7C1353.2 418.2 1351.6 413 1350.1 408.9C1348.7 404.8 1348 400.2 1345.9 397.2C1343.7 394.2 1340.5 393.3 1337.3 390.8C1334.1 388.3 1329.3 384.9 1326.7 382.3C1324 379.6 1323.1 378.2 1321.3 374.8C1319.6 371.4 1317.9 366.8 1316 362C1314.1 357.2 1311.1 348.7 1310.1 346Z"/></clipPath><path d="M1310.1 346C1311.6 346.7 1316.3 349.4 1319.2 350.3C1322.1 351.2 1323.8 351.4 1327.7 351.3C1331.6 351.2 1337.5 350.6 1342.7 349.7C1347.8 348.8 1353.3 347.2 1358.7 346C1364 344.8 1369.3 343.2 1374.7 342.3C1380 341.3 1386.2 340 1390.7 340.1C1395.1 340.2 1398.5 341.6 1401.3 342.8C1404.2 344 1406.7 346.4 1407.7 347.1C1408.3 348.3 1409.9 351.5 1410.9 354.5C1412 357.6 1413.1 362.2 1414.1 365.2C1415.2 368.2 1415.9 369.8 1417.3 372.7C1418.8 375.5 1420 379.2 1422.7 382.3C1425.3 385.3 1430.1 388.3 1433.3 390.8C1436.5 393.3 1439.6 394.5 1441.9 397.2C1444.2 399.9 1445.6 403.4 1447.2 406.8C1448.8 410.2 1450 413.6 1451.5 417.5C1452.9 421.3 1455 427.7 1455.7 429.7C1454.7 429.5 1451.6 428.9 1449.3 428.1C1447 427.3 1444.9 425.6 1441.9 424.9C1438.8 424.2 1435.3 423.7 1431.2 423.9C1427.1 424 1422.3 424.9 1417.3 426C1412.4 427.1 1406.7 428.8 1401.3 430.3C1396 431.7 1389.8 433.6 1385.3 434.5C1380.9 435.5 1378.2 436.3 1374.7 436.1C1371.1 436 1366.8 434.4 1364 433.5C1361.2 432.5 1358.7 430.8 1357.6 430.3C1357.1 428.8 1355.6 425.3 1354.4 421.7C1353.2 418.2 1351.6 413 1350.1 408.9C1348.7 404.8 1348 400.2 1345.9 397.2C1343.7 394.2 1340.5 393.3 1337.3 390.8C1334.1 388.3 1329.3 384.9 1326.7 382.3C1324 379.6 1323.1 378.2 1321.3 374.8C1319.6 371.4 1317.9 366.8 1316 362C1314.1 357.2 1311.1 348.7 1310.1 346Z" fill="#f4f4dc"/><g clip-path="url(#cp12)"><path d="M1330.4 364.1L1329.5 345.4M1330.4 364.1L1318.5 380.3M1388.5 355.1L1389.4 332M1402.9 379.1L1427.7 372.2M1364 398.3L1339.3 402.5M1378.9 421.7L1377.2 443.9M1435.5 409.5L1450.8 398.4M1435.5 409.5L1438.9 433.4M1330.4 364.1Q1346.7 367.3 1364 368.4M1364 368.4Q1373.1 358 1388.5 355.1M1364 368.4Q1366.6 383.3 1364 398.3M1388.5 355.1Q1396.3 365.5 1402.9 379.1M1402.9 379.1Q1400 394.5 1402.4 407.9M1364 398.3Q1371.5 410 1378.9 421.7M1402.4 407.9Q1390.7 418 1378.9 421.7M1402.4 407.9Q1417.9 409.2 1435.5 409.5" fill="none" stroke="#438b76" stroke-width="8" stroke-linejoin="round" stroke-linecap="butt"/></g><path d="M1310.1 346C1311.6 346.7 1316.3 349.4 1319.2 350.3C1322.1 351.2 1323.8 351.4 1327.7 351.3C1331.6 351.2 1337.5 350.6 1342.7 349.7C1347.8 348.8 1353.3 347.2 1358.7 346C1364 344.8 1369.3 343.2 1374.7 342.3C1380 341.3 1386.2 340 1390.7 340.1C1395.1 340.2 1398.5 341.6 1401.3 342.8C1404.2 344 1406.7 346.4 1407.7 347.1C1408.3 348.3 1409.9 351.5 1410.9 354.5C1412 357.6 1413.1 362.2 1414.1 365.2C1415.2 368.2 1415.9 369.8 1417.3 372.7C1418.8 375.5 1420 379.2 1422.7 382.3C1425.3 385.3 1430.1 388.3 1433.3 390.8C1436.5 393.3 1439.6 394.5 1441.9 397.2C1444.2 399.9 1445.6 403.4 1447.2 406.8C1448.8 410.2 1450 413.6 1451.5 417.5C1452.9 421.3 1455 427.7 1455.7 429.7C1454.7 429.5 1451.6 428.9 1449.3 428.1C1447 427.3 1444.9 425.6 1441.9 424.9C1438.8 424.2 1435.3 423.7 1431.2 423.9C1427.1 424 1422.3 424.9 1417.3 426C1412.4 427.1 1406.7 428.8 1401.3 430.3C1396 431.7 1389.8 433.6 1385.3 434.5C1380.9 435.5 1378.2 436.3 1374.7 436.1C1371.1 436 1366.8 434.4 1364 433.5C1361.2 432.5 1358.7 430.8 1357.6 430.3C1357.1 428.8 1355.6 425.3 1354.4 421.7C1353.2 418.2 1351.6 413 1350.1 408.9C1348.7 404.8 1348 400.2 1345.9 397.2C1343.7 394.2 1340.5 393.3 1337.3 390.8C1334.1 388.3 1329.3 384.9 1326.7 382.3C1324 379.6 1323.1 378.2 1321.3 374.8C1319.6 371.4 1317.9 366.8 1316 362C1314.1 357.2 1311.1 348.7 1310.1 346Z" fill="none" stroke="#d2d2c0" stroke-width="0.7"/>
<circle cx="829.5" cy="159.1" r="8.9" fill="#fff" stroke="#000" stroke-width="2.7"/>
<circle cx="998.4" cy="159" r="8.9" fill="#fff" stroke="#000" stroke-width="2.7"/>
<circle cx="830" cy="292.4" r="8.9" fill="#fff" stroke="#000" stroke-width="2.7"/>
<circle cx="998.4" cy="292.4" r="8.9" fill="#fff" stroke="#000" stroke-width="2.7"/>
<circle cx="1164" cy="292.4" r="8.9" fill="#fff" stroke="#000" stroke-width="2.7"/>
<circle cx="829.8" cy="424.6" r="8.9" fill="#fff" stroke="#000" stroke-width="2.7"/>
<circle cx="998.4" cy="424.6" r="8.9" fill="#fff" stroke="#000" stroke-width="2.7"/>
<circle cx="1164" cy="424.4" r="8.9" fill="#fff" stroke="#000" stroke-width="2.7"/>
<circle cx="1164" cy="159" r="10.3" fill="#000"/>
<circle cx="1322.6" cy="159" r="10.3" fill="#000"/>
<circle cx="1322.6" cy="292" r="10.3" fill="#000"/>
<circle cx="1322.6" cy="424.4" r="10.3" fill="#000"/>
<clipPath id="cp13"><path d="M413.3 700.7H662.5V949.2H413.3Z"/></clipPath><path d="M413.3 700.7H662.5V949.2H413.3Z" fill="#f4f4dc"/><g clip-path="url(#cp13)"><path d="M380.3 844.9L380.6 846.3L380.9 847.5L381.5 848.4L382.2 849.2L383 849.6L384.1 849.7L385.3 849.6L386.6 849.4L387.9 849.2L389.1 849L390.3 849.1L391.3 849.5L392.2 850.1L392.9 851L393.5 852.1L394 853.3L394.6 854.4L395.2 855.5L395.9 856.4L396.8 857L397.9 857.3L399.1 857.4L400.4 857.2L401.8 856.9L403.2 856.7L404.5 856.5L405.7 856.6L406.7 856.9L407.5 857.6L408.2 858.5L408.7 859.6L409.2 860.8L409.6 862.1L410.1 863.2L410.7 864.2L411.4 864.9L412.3 865.3L413.3 865.4L414.4 865.4L415.5 865.3M415.5 905.9L415.8 907.3L416.1 908.5L416.7 909.4L417.4 910.2L418.2 910.6L419.3 910.7L420.5 910.6L421.8 910.4L423.1 910.2L424.3 910L425.5 910.1L426.5 910.5L427.4 911.1L428.1 912L428.7 913.1L429.2 914.3L429.8 915.4L430.4 916.5L431.1 917.4L432 918L433.1 918.3L434.3 918.4L435.6 918.2L437 917.9L438.4 917.7L439.7 917.5L440.9 917.6L441.9 917.9L442.7 918.6L443.4 919.5L443.9 920.6L444.4 921.8L444.8 923.1L445.3 924.2L445.9 925.2L446.6 925.9L447.5 926.3L448.5 926.4L449.6 926.4L450.7 926.3M415.5 905.9L414.2 905.5L413 905.2L411.9 905.2L410.9 905.4L410.1 906L409.5 906.9L409 907.9L408.5 909.2L408.1 910.4L407.5 911.5L406.9 912.5L406.1 913.2L405.1 913.6L404 913.8L402.8 913.8L401.4 913.6L400.1 913.5L398.9 913.5L397.8 913.7L396.8 914.2L396 915L395.3 916L394.8 917.2L394.4 918.6L393.9 919.9L393.4 921.1L392.7 922.1L391.9 922.8L391 923.2L389.8 923.3L388.6 923.3L387.3 923L386 922.8L384.8 922.6L383.6 922.7L382.7 923L381.9 923.5L381.3 924.3L380.7 925.2L380.3 926.3M415.5 905.9L416.5 905L417.4 904.1L418 903.2L418.2 902.2L418.1 901.2L417.7 900.3L417 899.3L416.2 898.3L415.4 897.2L414.6 896.2L414.1 895.2L413.9 894.1L414 893.1L414.4 892L415.1 891L415.8 889.9L416.6 888.8L417.2 887.8L417.6 886.7L417.7 885.6L417.4 884.5L416.9 883.4L416.1 882.4L415.2 881.3L414.2 880.2L413.4 879.2L412.9 878.1L412.7 877.1L412.8 876L413.3 875L414 874L414.8 872.9L415.7 871.9L416.4 870.9L416.9 870L417.2 869L417.1 868L416.7 867.1L416.2 866.2L415.5 865.3M450.7 966.9L451.7 966L452.6 965.1L453.2 964.2L453.4 963.2L453.3 962.2L452.9 961.3L452.2 960.3L451.4 959.3L450.6 958.2L449.8 957.2L449.3 956.2L449.1 955.1L449.2 954.1L449.6 953L450.3 952L451 950.9L451.8 949.8L452.4 948.8L452.8 947.7L452.9 946.6L452.6 945.5L452.1 944.4L451.3 943.4L450.4 942.3L449.4 941.2L448.6 940.2L448.1 939.1L447.9 938.1L448 937L448.5 936L449.2 935L450 933.9L450.9 932.9L451.6 931.9L452.1 931L452.4 930L452.3 929L451.9 928.1L451.4 927.2L450.7 926.3M380.3 722.9L380.6 724.3L380.9 725.5L381.5 726.4L382.2 727.2L383 727.6L384.1 727.7L385.3 727.6L386.6 727.4L387.9 727.2L389.1 727L390.3 727.1L391.3 727.5L392.2 728.1L392.9 729L393.5 730.1L394 731.3L394.6 732.4L395.2 733.5L395.9 734.4L396.8 735L397.9 735.3L399.1 735.4L400.4 735.2L401.8 734.9L403.2 734.7L404.5 734.5L405.7 734.6L406.7 734.9L407.5 735.6L408.2 736.5L408.7 737.6L409.2 738.8L409.6 740.1L410.1 741.2L410.7 742.2L411.4 742.9L412.3 743.3L413.3 743.4L414.4 743.4L415.5 743.3M415.5 783.9L415.8 785.3L416.1 786.5L416.7 787.4L417.4 788.2L418.2 788.6L419.3 788.7L420.5 788.6L421.8 788.4L423.1 788.2L424.3 788L425.5 788.1L426.5 788.5L427.4 789.1L428.1 790L428.7 791.1L429.2 792.3L429.8 793.4L430.4 794.5L431.1 795.4L432 796L433.1 796.3L434.3 796.4L435.6 796.2L437 795.9L438.4 795.7L439.7 795.5L440.9 795.6L441.9 795.9L442.7 796.6L443.4 797.5L443.9 798.6L444.4 799.8L444.8 801.1L445.3 802.2L445.9 803.2L446.6 803.9L447.5 804.3L448.5 804.4L449.6 804.4L450.7 804.3M415.5 783.9L414.2 783.5L413 783.2L411.9 783.2L410.9 783.4L410.1 784L409.5 784.9L409 785.9L408.5 787.2L408.1 788.4L407.5 789.5L406.9 790.5L406.1 791.2L405.1 791.6L404 791.8L402.8 791.8L401.4 791.6L400.1 791.5L398.9 791.5L397.8 791.7L396.8 792.2L396 793L395.3 794L394.8 795.2L394.4 796.6L393.9 797.9L393.4 799.1L392.7 800.1L391.9 800.8L391 801.2L389.8 801.3L388.6 801.3L387.3 801L386 800.8L384.8 800.6L383.6 800.7L382.7 801L381.9 801.5L381.3 802.3L380.7 803.2L380.3 804.3M415.5 783.9L416.5 783L417.4 782.1L418 781.2L418.2 780.2L418.1 779.2L417.7 778.3L417 777.3L416.2 776.3L415.4 775.2L414.6 774.2L414.1 773.2L413.9 772.1L414 771.1L414.4 770L415.1 769L415.8 767.9L416.6 766.8L417.2 765.8L417.6 764.7L417.7 763.6L417.4 762.5L416.9 761.4L416.1 760.4L415.2 759.3L414.2 758.2L413.4 757.2L412.9 756.1L412.7 755.1L412.8 754L413.3 753L414 752L414.8 750.9L415.7 749.9L416.4 748.9L416.9 748L417.2 747L417.1 746L416.7 745.1L416.2 744.2L415.5 743.3M450.7 844.9L451 846.3L451.3 847.5L451.9 848.4L452.6 849.2L453.4 849.6L454.5 849.7L455.7 849.6L457 849.4L458.3 849.2L459.5 849L460.7 849.1L461.7 849.5L462.6 850.1L463.3 851L463.9 852.1L464.4 853.3L465 854.4L465.6 855.5L466.3 856.4L467.2 857L468.3 857.3L469.5 857.4L470.8 857.2L472.2 856.9L473.6 856.7L474.9 856.5L476.1 856.6L477.1 856.9L477.9 857.6L478.6 858.5L479.1 859.6L479.6 860.8L480 862.1L480.5 863.2L481.1 864.2L481.8 864.9L482.7 865.3L483.7 865.4L484.8 865.4L485.9 865.3M450.7 844.9L449.4 844.5L448.2 844.2L447.1 844.2L446.1 844.4L445.3 845L444.7 845.9L444.2 846.9L443.7 848.2L443.3 849.4L442.7 850.5L442.1 851.5L441.3 852.2L440.3 852.6L439.2 852.8L438 852.8L436.6 852.6L435.3 852.5L434.1 852.5L433 852.7L432 853.2L431.2 854L430.5 855L430 856.2L429.6 857.6L429.1 858.9L428.6 860.1L427.9 861.1L427.1 861.8L426.2 862.2L425 862.3L423.8 862.3L422.5 862L421.2 861.8L420 861.6L418.8 861.7L417.9 862L417.1 862.5L416.5 863.3L415.9 864.2L415.5 865.3M450.7 844.9L451.7 844L452.6 843.1L453.2 842.2L453.4 841.2L453.3 840.2L452.9 839.3L452.2 838.3L451.4 837.3L450.6 836.2L449.8 835.2L449.3 834.2L449.1 833.1L449.2 832.1L449.6 831L450.3 830L451 828.9L451.8 827.8L452.4 826.8L452.8 825.7L452.9 824.6L452.6 823.5L452.1 822.4L451.3 821.4L450.4 820.3L449.4 819.2L448.6 818.2L448.1 817.1L447.9 816.1L448 815L448.5 814L449.2 813L450 811.9L450.9 810.9L451.6 809.9L452.1 809L452.4 808L452.3 807L451.9 806.1L451.4 805.2L450.7 804.3M485.9 905.9L486.2 907.3L486.5 908.5L487.1 909.4L487.8 910.2L488.6 910.6L489.7 910.7L490.9 910.6L492.2 910.4L493.5 910.2L494.7 910L495.9 910.1L496.9 910.5L497.8 911.1L498.5 912L499.1 913.1L499.6 914.3L500.2 915.4L500.8 916.5L501.5 917.4L502.4 918L503.5 918.3L504.7 918.4L506 918.2L507.4 917.9L508.8 917.7L510.1 917.5L511.3 917.6L512.3 917.9L513.1 918.6L513.8 919.5L514.3 920.6L514.8 921.8L515.2 923.1L515.7 924.2L516.3 925.2L517 925.9L517.9 926.3L518.9 926.4L520 926.4L521.1 926.3M485.9 905.9L484.6 905.5L483.4 905.2L482.3 905.2L481.3 905.4L480.5 906L479.9 906.9L479.4 907.9L478.9 909.2L478.5 910.4L477.9 911.5L477.3 912.5L476.5 913.2L475.5 913.6L474.4 913.8L473.2 913.8L471.8 913.6L470.5 913.5L469.3 913.5L468.2 913.7L467.2 914.2L466.4 915L465.7 916L465.2 917.2L464.8 918.6L464.3 919.9L463.8 921.1L463.1 922.1L462.3 922.8L461.4 923.2L460.2 923.3L459 923.3L457.7 923L456.4 922.8L455.2 922.6L454 922.7L453.1 923L452.3 923.5L451.7 924.3L451.1 925.2L450.7 926.3M485.9 905.9L486.9 905L487.8 904.1L488.4 903.2L488.6 902.2L488.5 901.2L488.1 900.3L487.4 899.3L486.6 898.3L485.8 897.2L485 896.2L484.5 895.2L484.3 894.1L484.4 893.1L484.8 892L485.5 891L486.2 889.9L487 888.8L487.6 887.8L488 886.7L488.1 885.6L487.8 884.5L487.3 883.4L486.5 882.4L485.6 881.3L484.6 880.2L483.8 879.2L483.3 878.1L483.1 877.1L483.2 876L483.7 875L484.4 874L485.2 872.9L486.1 871.9L486.8 870.9L487.3 870L487.6 869L487.5 868L487.1 867.1L486.6 866.2L485.9 865.3M521.1 966.9L522.1 966L523 965.1L523.6 964.2L523.8 963.2L523.7 962.2L523.3 961.3L522.6 960.3L521.8 959.3L521 958.2L520.2 957.2L519.7 956.2L519.5 955.1L519.6 954.1L520 953L520.7 952L521.4 950.9L522.2 949.8L522.8 948.8L523.2 947.7L523.3 946.6L523 945.5L522.5 944.4L521.7 943.4L520.8 942.3L519.8 941.2L519 940.2L518.5 939.1L518.3 938.1L518.4 937L518.9 936L519.6 935L520.4 933.9L521.3 932.9L522 931.9L522.5 931L522.8 930L522.7 929L522.3 928.1L521.8 927.2L521.1 926.3M450.7 722.9L451 724.3L451.3 725.5L451.9 726.4L452.6 727.2L453.4 727.6L454.5 727.7L455.7 727.6L457 727.4L458.3 727.2L459.5 727L460.7 727.1L461.7 727.5L462.6 728.1L463.3 729L463.9 730.1L464.4 731.3L465 732.4L465.6 733.5L466.3 734.4L467.2 735L468.3 735.3L469.5 735.4L470.8 735.2L472.2 734.9L473.6 734.7L474.9 734.5L476.1 734.6L477.1 734.9L477.9 735.6L478.6 736.5L479.1 737.6L479.6 738.8L480 740.1L480.5 741.2L481.1 742.2L481.8 742.9L482.7 743.3L483.7 743.4L484.8 743.4L485.9 743.3M450.7 722.9L449.4 722.5L448.2 722.2L447.1 722.2L446.1 722.4L445.3 723L444.7 723.9L444.2 724.9L443.7 726.2L443.3 727.4L442.7 728.5L442.1 729.5L441.3 730.2L440.3 730.6L439.2 730.8L438 730.8L436.6 730.6L435.3 730.5L434.1 730.5L433 730.7L432 731.2L431.2 732L430.5 733L430 734.2L429.6 735.6L429.1 736.9L428.6 738.1L427.9 739.1L427.1 739.8L426.2 740.2L425 740.3L423.8 740.3L422.5 740L421.2 739.8L420 739.6L418.8 739.7L417.9 740L417.1 740.5L416.5 741.3L415.9 742.2L415.5 743.3M450.7 722.9L451.7 722L452.6 721.1L453.2 720.2L453.4 719.2L453.3 718.2L452.9 717.3L452.2 716.3L451.4 715.3L450.6 714.2L449.8 713.2L449.3 712.2L449.1 711.1L449.2 710.1L449.6 709L450.3 708L451 706.9L451.8 705.8L452.4 704.8L452.8 703.7L452.9 702.6L452.6 701.5L452.1 700.4L451.3 699.4L450.4 698.3L449.4 697.2L448.6 696.2L448.1 695.1L447.9 694.1L448 693L448.5 692L449.2 691L450 689.9L450.9 688.9L451.6 687.9L452.1 687L452.4 686L452.3 685L451.9 684.1L451.4 683.2L450.7 682.3M485.9 783.9L486.2 785.3L486.5 786.5L487.1 787.4L487.8 788.2L488.6 788.6L489.7 788.7L490.9 788.6L492.2 788.4L493.5 788.2L494.7 788L495.9 788.1L496.9 788.5L497.8 789.1L498.5 790L499.1 791.1L499.6 792.3L500.2 793.4L500.8 794.5L501.5 795.4L502.4 796L503.5 796.3L504.7 796.4L506 796.2L507.4 795.9L508.8 795.7L510.1 795.5L511.3 795.6L512.3 795.9L513.1 796.6L513.8 797.5L514.3 798.6L514.8 799.8L515.2 801.1L515.7 802.2L516.3 803.2L517 803.9L517.9 804.3L518.9 804.4L520 804.4L521.1 804.3M485.9 783.9L484.6 783.5L483.4 783.2L482.3 783.2L481.3 783.4L480.5 784L479.9 784.9L479.4 785.9L478.9 787.2L478.5 788.4L477.9 789.5L477.3 790.5L476.5 791.2L475.5 791.6L474.4 791.8L473.2 791.8L471.8 791.6L470.5 791.5L469.3 791.5L468.2 791.7L467.2 792.2L466.4 793L465.7 794L465.2 795.2L464.8 796.6L464.3 797.9L463.8 799.1L463.1 800.1L462.3 800.8L461.4 801.2L460.2 801.3L459 801.3L457.7 801L456.4 800.8L455.2 800.6L454 800.7L453.1 801L452.3 801.5L451.7 802.3L451.1 803.2L450.7 804.3M485.9 783.9L486.9 783L487.8 782.1L488.4 781.2L488.6 780.2L488.5 779.2L488.1 778.3L487.4 777.3L486.6 776.3L485.8 775.2L485 774.2L484.5 773.2L484.3 772.1L484.4 771.1L484.8 770L485.5 769L486.2 767.9L487 766.8L487.6 765.8L488 764.7L488.1 763.6L487.8 762.5L487.3 761.4L486.5 760.4L485.6 759.3L484.6 758.2L483.8 757.2L483.3 756.1L483.1 755.1L483.2 754L483.7 753L484.4 752L485.2 750.9L486.1 749.9L486.8 748.9L487.3 748L487.6 747L487.5 746L487.1 745.1L486.6 744.2L485.9 743.3M521.1 844.9L521.4 846.3L521.7 847.5L522.3 848.4L523 849.2L523.8 849.6L524.9 849.7L526.1 849.6L527.4 849.4L528.7 849.2L529.9 849L531.1 849.1L532.1 849.5L533 850.1L533.7 851L534.3 852.1L534.8 853.3L535.4 854.4L536 855.5L536.7 856.4L537.6 857L538.7 857.3L539.9 857.4L541.2 857.2L542.6 856.9L544 856.7L545.3 856.5L546.5 856.6L547.5 856.9L548.3 857.6L549 858.5L549.5 859.6L550 860.8L550.4 862.1L550.9 863.2L551.5 864.2L552.2 864.9L553.1 865.3L554.1 865.4L555.2 865.4L556.3 865.3M521.1 844.9L519.8 844.5L518.6 844.2L517.5 844.2L516.5 844.4L515.7 845L515.1 845.9L514.6 846.9L514.1 848.2L513.7 849.4L513.1 850.5L512.5 851.5L511.7 852.2L510.7 852.6L509.6 852.8L508.4 852.8L507 852.6L505.7 852.5L504.5 852.5L503.4 852.7L502.4 853.2L501.6 854L500.9 855L500.4 856.2L500 857.6L499.5 858.9L499 860.1L498.3 861.1L497.5 861.8L496.6 862.2L495.4 862.3L494.2 862.3L492.9 862L491.6 861.8L490.4 861.6L489.2 861.7L488.3 862L487.5 862.5L486.9 863.3L486.3 864.2L485.9 865.3M521.1 844.9L522.1 844L523 843.1L523.6 842.2L523.8 841.2L523.7 840.2L523.3 839.3L522.6 838.3L521.8 837.3L521 836.2L520.2 835.2L519.7 834.2L519.5 833.1L519.6 832.1L520 831L520.7 830L521.4 828.9L522.2 827.8L522.8 826.8L523.2 825.7L523.3 824.6L523 823.5L522.5 822.4L521.7 821.4L520.8 820.3L519.8 819.2L519 818.2L518.5 817.1L518.3 816.1L518.4 815L518.9 814L519.6 813L520.4 811.9L521.3 810.9L522 809.9L522.5 809L522.8 808L522.7 807L522.3 806.1L521.8 805.2L521.1 804.3M556.3 905.9L556.6 907.3L556.9 908.5L557.5 909.4L558.2 910.2L559 910.6L560.1 910.7L561.3 910.6L562.6 910.4L563.9 910.2L565.1 910L566.3 910.1L567.3 910.5L568.2 911.1L568.9 912L569.5 913.1L570 914.3L570.6 915.4L571.2 916.5L571.9 917.4L572.8 918L573.9 918.3L575.1 918.4L576.4 918.2L577.8 917.9L579.2 917.7L580.5 917.5L581.7 917.6L582.7 917.9L583.5 918.6L584.2 919.5L584.7 920.6L585.2 921.8L585.6 923.1L586.1 924.2L586.7 925.2L587.4 925.9L588.3 926.3L589.3 926.4L590.4 926.4L591.5 926.3M556.3 905.9L555 905.5L553.8 905.2L552.7 905.2L551.7 905.4L550.9 906L550.3 906.9L549.8 907.9L549.3 909.2L548.9 910.4L548.3 911.5L547.7 912.5L546.9 913.2L545.9 913.6L544.8 913.8L543.6 913.8L542.2 913.6L540.9 913.5L539.7 913.5L538.6 913.7L537.6 914.2L536.8 915L536.1 916L535.6 917.2L535.2 918.6L534.7 919.9L534.2 921.1L533.5 922.1L532.7 922.8L531.8 923.2L530.6 923.3L529.4 923.3L528.1 923L526.8 922.8L525.6 922.6L524.4 922.7L523.5 923L522.7 923.5L522.1 924.3L521.5 925.2L521.1 926.3M556.3 905.9L557.3 905L558.2 904.1L558.8 903.2L559 902.2L558.9 901.2L558.5 900.3L557.8 899.3L557 898.3L556.2 897.2L555.4 896.2L554.9 895.2L554.7 894.1L554.8 893.1L555.2 892L555.9 891L556.6 889.9L557.4 888.8L558 887.8L558.4 886.7L558.5 885.6L558.2 884.5L557.7 883.4L556.9 882.4L556 881.3L555 880.2L554.2 879.2L553.7 878.1L553.5 877.1L553.6 876L554.1 875L554.8 874L555.6 872.9L556.5 871.9L557.2 870.9L557.7 870L558 869L557.9 868L557.5 867.1L557 866.2L556.3 865.3M591.5 966.9L592.5 966L593.4 965.1L594 964.2L594.2 963.2L594.1 962.2L593.7 961.3L593 960.3L592.2 959.3L591.4 958.2L590.6 957.2L590.1 956.2L589.9 955.1L590 954.1L590.4 953L591.1 952L591.8 950.9L592.6 949.8L593.2 948.8L593.6 947.7L593.7 946.6L593.4 945.5L592.9 944.4L592.1 943.4L591.2 942.3L590.2 941.2L589.4 940.2L588.9 939.1L588.7 938.1L588.8 937L589.3 936L590 935L590.8 933.9L591.7 932.9L592.4 931.9L592.9 931L593.2 930L593.1 929L592.7 928.1L592.2 927.2L591.5 926.3M521.1 722.9L521.4 724.3L521.7 725.5L522.3 726.4L523 727.2L523.8 727.6L524.9 727.7L526.1 727.6L527.4 727.4L528.7 727.2L529.9 727L531.1 727.1L532.1 727.5L533 728.1L533.7 729L534.3 730.1L534.8 731.3L535.4 732.4L536 733.5L536.7 734.4L537.6 735L538.7 735.3L539.9 735.4L541.2 735.2L542.6 734.9L544 734.7L545.3 734.5L546.5 734.6L547.5 734.9L548.3 735.6L549 736.5L549.5 737.6L550 738.8L550.4 740.1L550.9 741.2L551.5 742.2L552.2 742.9L553.1 743.3L554.1 743.4L555.2 743.4L556.3 743.3M521.1 722.9L519.8 722.5L518.6 722.2L517.5 722.2L516.5 722.4L515.7 723L515.1 723.9L514.6 724.9L514.1 726.2L513.7 727.4L513.1 728.5L512.5 729.5L511.7 730.2L510.7 730.6L509.6 730.8L508.4 730.8L507 730.6L505.7 730.5L504.5 730.5L503.4 730.7L502.4 731.2L501.6 732L500.9 733L500.4 734.2L500 735.6L499.5 736.9L499 738.1L498.3 739.1L497.5 739.8L496.6 740.2L495.4 740.3L494.2 740.3L492.9 740L491.6 739.8L490.4 739.6L489.2 739.7L488.3 740L487.5 740.5L486.9 741.3L486.3 742.2L485.9 743.3M521.1 722.9L522.1 722L523 721.1L523.6 720.2L523.8 719.2L523.7 718.2L523.3 717.3L522.6 716.3L521.8 715.3L521 714.2L520.2 713.2L519.7 712.2L519.5 711.1L519.6 710.1L520 709L520.7 708L521.4 706.9L522.2 705.8L522.8 704.8L523.2 703.7L523.3 702.6L523 701.5L522.5 700.4L521.7 699.4L520.8 698.3L519.8 697.2L519 696.2L518.5 695.1L518.3 694.1L518.4 693L518.9 692L519.6 691L520.4 689.9L521.3 688.9L522 687.9L522.5 687L522.8 686L522.7 685L522.3 684.1L521.8 683.2L521.1 682.3M556.3 783.9L556.6 785.3L556.9 786.5L557.5 787.4L558.2 788.2L559 788.6L560.1 788.7L561.3 788.6L562.6 788.4L563.9 788.2L565.1 788L566.3 788.1L567.3 788.5L568.2 789.1L568.9 790L569.5 791.1L570 792.3L570.6 793.4L571.2 794.5L571.9 795.4L572.8 796L573.9 796.3L575.1 796.4L576.4 796.2L577.8 795.9L579.2 795.7L580.5 795.5L581.7 795.6L582.7 795.9L583.5 796.6L584.2 797.5L584.7 798.6L585.2 799.8L585.6 801.1L586.1 802.2L586.7 803.2L587.4 803.9L588.3 804.3L589.3 804.4L590.4 804.4L591.5 804.3M556.3 783.9L555 783.5L553.8 783.2L552.7 783.2L551.7 783.4L550.9 784L550.3 784.9L549.8 785.9L549.3 787.2L548.9 788.4L548.3 789.5L547.7 790.5L546.9 791.2L545.9 791.6L544.8 791.8L543.6 791.8L542.2 791.6L540.9 791.5L539.7 791.5L538.6 791.7L537.6 792.2L536.8 793L536.1 794L535.6 795.2L535.2 796.6L534.7 797.9L534.2 799.1L533.5 800.1L532.7 800.8L531.8 801.2L530.6 801.3L529.4 801.3L528.1 801L526.8 800.8L525.6 800.6L524.4 800.7L523.5 801L522.7 801.5L522.1 802.3L521.5 803.2L521.1 804.3M556.3 783.9L557.3 783L558.2 782.1L558.8 781.2L559 780.2L558.9 779.2L558.5 778.3L557.8 777.3L557 776.3L556.2 775.2L555.4 774.2L554.9 773.2L554.7 772.1L554.8 771.1L555.2 770L555.9 769L556.6 767.9L557.4 766.8L558 765.8L558.4 764.7L558.5 763.6L558.2 762.5L557.7 761.4L556.9 760.4L556 759.3L555 758.2L554.2 757.2L553.7 756.1L553.5 755.1L553.6 754L554.1 753L554.8 752L555.6 750.9L556.5 749.9L557.2 748.9L557.7 748L558 747L557.9 746L557.5 745.1L557 744.2L556.3 743.3M591.5 844.9L591.8 846.3L592.1 847.5L592.7 848.4L593.4 849.2L594.2 849.6L595.3 849.7L596.5 849.6L597.8 849.4L599.1 849.2L600.3 849L601.5 849.1L602.5 849.5L603.4 850.1L604.1 851L604.7 852.1L605.2 853.3L605.8 854.4L606.4 855.5L607.1 856.4L608 857L609.1 857.3L610.3 857.4L611.6 857.2L613 856.9L614.4 856.7L615.7 856.5L616.9 856.6L617.9 856.9L618.7 857.6L619.4 858.5L619.9 859.6L620.4 860.8L620.8 862.1L621.3 863.2L621.9 864.2L622.6 864.9L623.5 865.3L624.5 865.4L625.6 865.4L626.7 865.3M591.5 844.9L590.2 844.5L589 844.2L587.9 844.2L586.9 844.4L586.1 845L585.5 845.9L585 846.9L584.5 848.2L584.1 849.4L583.5 850.5L582.9 851.5L582.1 852.2L581.1 852.6L580 852.8L578.8 852.8L577.4 852.6L576.1 852.5L574.9 852.5L573.8 852.7L572.8 853.2L572 854L571.3 855L570.8 856.2L570.4 857.6L569.9 858.9L569.4 860.1L568.7 861.1L567.9 861.8L567 862.2L565.8 862.3L564.6 862.3L563.3 862L562 861.8L560.8 861.6L559.6 861.7L558.7 862L557.9 862.5L557.3 863.3L556.7 864.2L556.3 865.3M591.5 844.9L592.5 844L593.4 843.1L594 842.2L594.2 841.2L594.1 840.2L593.7 839.3L593 838.3L592.2 837.3L591.4 836.2L590.6 835.2L590.1 834.2L589.9 833.1L590 832.1L590.4 831L591.1 830L591.8 828.9L592.6 827.8L593.2 826.8L593.6 825.7L593.7 824.6L593.4 823.5L592.9 822.4L592.1 821.4L591.2 820.3L590.2 819.2L589.4 818.2L588.9 817.1L588.7 816.1L588.8 815L589.3 814L590 813L590.8 811.9L591.7 810.9L592.4 809.9L592.9 809L593.2 808L593.1 807L592.7 806.1L592.2 805.2L591.5 804.3M626.7 905.9L627 907.3L627.3 908.5L627.9 909.4L628.6 910.2L629.4 910.6L630.5 910.7L631.7 910.6L633 910.4L634.3 910.2L635.5 910L636.7 910.1L637.7 910.5L638.6 911.1L639.3 912L639.9 913.1L640.4 914.3L641 915.4L641.6 916.5L642.3 917.4L643.2 918L644.3 918.3L645.5 918.4L646.8 918.2L648.2 917.9L649.6 917.7L650.9 917.5L652.1 917.6L653.1 917.9L653.9 918.6L654.6 919.5L655.1 920.6L655.6 921.8L656 923.1L656.5 924.2L657.1 925.2L657.8 925.9L658.7 926.3L659.7 926.4L660.8 926.4L661.9 926.3M626.7 905.9L625.4 905.5L624.2 905.2L623.1 905.2L622.1 905.4L621.3 906L620.7 906.9L620.2 907.9L619.7 909.2L619.3 910.4L618.7 911.5L618.1 912.5L617.3 913.2L616.3 913.6L615.2 913.8L614 913.8L612.6 913.6L611.3 913.5L610.1 913.5L609 913.7L608 914.2L607.2 915L606.5 916L606 917.2L605.6 918.6L605.1 919.9L604.6 921.1L603.9 922.1L603.1 922.8L602.2 923.2L601 923.3L599.8 923.3L598.5 923L597.2 922.8L596 922.6L594.8 922.7L593.9 923L593.1 923.5L592.5 924.3L591.9 925.2L591.5 926.3M626.7 905.9L627.7 905L628.6 904.1L629.2 903.2L629.4 902.2L629.3 901.2L628.9 900.3L628.2 899.3L627.4 898.3L626.6 897.2L625.8 896.2L625.3 895.2L625.1 894.1L625.2 893.1L625.6 892L626.3 891L627 889.9L627.8 888.8L628.4 887.8L628.8 886.7L628.9 885.6L628.6 884.5L628.1 883.4L627.3 882.4L626.4 881.3L625.4 880.2L624.6 879.2L624.1 878.1L623.9 877.1L624 876L624.5 875L625.2 874L626 872.9L626.9 871.9L627.6 870.9L628.1 870L628.4 869L628.3 868L627.9 867.1L627.4 866.2L626.7 865.3M661.9 966.9L662.9 966L663.8 965.1L664.4 964.2L664.6 963.2L664.5 962.2L664.1 961.3L663.4 960.3L662.6 959.3L661.8 958.2L661 957.2L660.5 956.2L660.3 955.1L660.4 954.1L660.8 953L661.5 952L662.2 950.9L663 949.8L663.6 948.8L664 947.7L664.1 946.6L663.8 945.5L663.3 944.4L662.5 943.4L661.6 942.3L660.6 941.2L659.8 940.2L659.3 939.1L659.1 938.1L659.2 937L659.7 936L660.4 935L661.2 933.9L662.1 932.9L662.8 931.9L663.3 931L663.6 930L663.5 929L663.1 928.1L662.6 927.2L661.9 926.3M591.5 722.9L591.8 724.3L592.1 725.5L592.7 726.4L593.4 727.2L594.2 727.6L595.3 727.7L596.5 727.6L597.8 727.4L599.1 727.2L600.3 727L601.5 727.1L602.5 727.5L603.4 728.1L604.1 729L604.7 730.1L605.2 731.3L605.8 732.4L606.4 733.5L607.1 734.4L608 735L609.1 735.3L610.3 735.4L611.6 735.2L613 734.9L614.4 734.7L615.7 734.5L616.9 734.6L617.9 734.9L618.7 735.6L619.4 736.5L619.9 737.6L620.4 738.8L620.8 740.1L621.3 741.2L621.9 742.2L622.6 742.9L623.5 743.3L624.5 743.4L625.6 743.4L626.7 743.3M591.5 722.9L590.2 722.5L589 722.2L587.9 722.2L586.9 722.4L586.1 723L585.5 723.9L585 724.9L584.5 726.2L584.1 727.4L583.5 728.5L582.9 729.5L582.1 730.2L581.1 730.6L580 730.8L578.8 730.8L577.4 730.6L576.1 730.5L574.9 730.5L573.8 730.7L572.8 731.2L572 732L571.3 733L570.8 734.2L570.4 735.6L569.9 736.9L569.4 738.1L568.7 739.1L567.9 739.8L567 740.2L565.8 740.3L564.6 740.3L563.3 740L562 739.8L560.8 739.6L559.6 739.7L558.7 740L557.9 740.5L557.3 741.3L556.7 742.2L556.3 743.3M591.5 722.9L592.5 722L593.4 721.1L594 720.2L594.2 719.2L594.1 718.2L593.7 717.3L593 716.3L592.2 715.3L591.4 714.2L590.6 713.2L590.1 712.2L589.9 711.1L590 710.1L590.4 709L591.1 708L591.8 706.9L592.6 705.8L593.2 704.8L593.6 703.7L593.7 702.6L593.4 701.5L592.9 700.4L592.1 699.4L591.2 698.3L590.2 697.2L589.4 696.2L588.9 695.1L588.7 694.1L588.8 693L589.3 692L590 691L590.8 689.9L591.7 688.9L592.4 687.9L592.9 687L593.2 686L593.1 685L592.7 684.1L592.2 683.2L591.5 682.3M626.7 783.9L627 785.3L627.3 786.5L627.9 787.4L628.6 788.2L629.4 788.6L630.5 788.7L631.7 788.6L633 788.4L634.3 788.2L635.5 788L636.7 788.1L637.7 788.5L638.6 789.1L639.3 790L639.9 791.1L640.4 792.3L641 793.4L641.6 794.5L642.3 795.4L643.2 796L644.3 796.3L645.5 796.4L646.8 796.2L648.2 795.9L649.6 795.7L650.9 795.5L652.1 795.6L653.1 795.9L653.9 796.6L654.6 797.5L655.1 798.6L655.6 799.8L656 801.1L656.5 802.2L657.1 803.2L657.8 803.9L658.7 804.3L659.7 804.4L660.8 804.4L661.9 804.3M626.7 783.9L625.4 783.5L624.2 783.2L623.1 783.2L622.1 783.4L621.3 784L620.7 784.9L620.2 785.9L619.7 787.2L619.3 788.4L618.7 789.5L618.1 790.5L617.3 791.2L616.3 791.6L615.2 791.8L614 791.8L612.6 791.6L611.3 791.5L610.1 791.5L609 791.7L608 792.2L607.2 793L606.5 794L606 795.2L605.6 796.6L605.1 797.9L604.6 799.1L603.9 800.1L603.1 800.8L602.2 801.2L601 801.3L599.8 801.3L598.5 801L597.2 800.8L596 800.6L594.8 800.7L593.9 801L593.1 801.5L592.5 802.3L591.9 803.2L591.5 804.3M626.7 783.9L627.7 783L628.6 782.1L629.2 781.2L629.4 780.2L629.3 779.2L628.9 778.3L628.2 777.3L627.4 776.3L626.6 775.2L625.8 774.2L625.3 773.2L625.1 772.1L625.2 771.1L625.6 770L626.3 769L627 767.9L627.8 766.8L628.4 765.8L628.8 764.7L628.9 763.6L628.6 762.5L628.1 761.4L627.3 760.4L626.4 759.3L625.4 758.2L624.6 757.2L624.1 756.1L623.9 755.1L624 754L624.5 753L625.2 752L626 750.9L626.9 749.9L627.6 748.9L628.1 748L628.4 747L628.3 746L627.9 745.1L627.4 744.2L626.7 743.3M661.9 844.9L662.2 846.3L662.5 847.5L663.1 848.4L663.8 849.2L664.6 849.6L665.7 849.7L666.9 849.6L668.2 849.4L669.5 849.2L670.7 849L671.9 849.1L672.9 849.5L673.8 850.1L674.5 851L675.1 852.1L675.6 853.3L676.2 854.4L676.8 855.5L677.5 856.4L678.4 857L679.5 857.3L680.7 857.4L682 857.2L683.4 856.9L684.8 856.7L686.1 856.5L687.3 856.6L688.3 856.9L689.1 857.6L689.8 858.5L690.3 859.6L690.8 860.8L691.2 862.1L691.7 863.2L692.3 864.2L693 864.9L693.9 865.3L694.9 865.4L696 865.4L697.1 865.3M661.9 844.9L660.6 844.5L659.4 844.2L658.3 844.2L657.3 844.4L656.5 845L655.9 845.9L655.4 846.9L654.9 848.2L654.5 849.4L653.9 850.5L653.3 851.5L652.5 852.2L651.5 852.6L650.4 852.8L649.2 852.8L647.8 852.6L646.5 852.5L645.3 852.5L644.2 852.7L643.2 853.2L642.4 854L641.7 855L641.2 856.2L640.8 857.6L640.3 858.9L639.8 860.1L639.1 861.1L638.3 861.8L637.4 862.2L636.2 862.3L635 862.3L633.7 862L632.4 861.8L631.2 861.6L630 861.7L629.1 862L628.3 862.5L627.7 863.3L627.1 864.2L626.7 865.3M661.9 844.9L662.9 844L663.8 843.1L664.4 842.2L664.6 841.2L664.5 840.2L664.1 839.3L663.4 838.3L662.6 837.3L661.8 836.2L661 835.2L660.5 834.2L660.3 833.1L660.4 832.1L660.8 831L661.5 830L662.2 828.9L663 827.8L663.6 826.8L664 825.7L664.1 824.6L663.8 823.5L663.3 822.4L662.5 821.4L661.6 820.3L660.6 819.2L659.8 818.2L659.3 817.1L659.1 816.1L659.2 815L659.7 814L660.4 813L661.2 811.9L662.1 810.9L662.8 809.9L663.3 809L663.6 808L663.5 807L663.1 806.1L662.6 805.2L661.9 804.3M697.1 905.9L695.8 905.5L694.6 905.2L693.5 905.2L692.5 905.4L691.7 906L691.1 906.9L690.6 907.9L690.1 909.2L689.7 910.4L689.1 911.5L688.5 912.5L687.7 913.2L686.7 913.6L685.6 913.8L684.4 913.8L683 913.6L681.7 913.5L680.5 913.5L679.4 913.7L678.4 914.2L677.6 915L676.9 916L676.4 917.2L676 918.6L675.5 919.9L675 921.1L674.3 922.1L673.5 922.8L672.6 923.2L671.4 923.3L670.2 923.3L668.9 923L667.6 922.8L666.4 922.6L665.2 922.7L664.3 923L663.5 923.5L662.9 924.3L662.3 925.2L661.9 926.3M661.9 722.9L662.2 724.3L662.5 725.5L663.1 726.4L663.8 727.2L664.6 727.6L665.7 727.7L666.9 727.6L668.2 727.4L669.5 727.2L670.7 727L671.9 727.1L672.9 727.5L673.8 728.1L674.5 729L675.1 730.1L675.6 731.3L676.2 732.4L676.8 733.5L677.5 734.4L678.4 735L679.5 735.3L680.7 735.4L682 735.2L683.4 734.9L684.8 734.7L686.1 734.5L687.3 734.6L688.3 734.9L689.1 735.6L689.8 736.5L690.3 737.6L690.8 738.8L691.2 740.1L691.7 741.2L692.3 742.2L693 742.9L693.9 743.3L694.9 743.4L696 743.4L697.1 743.3M661.9 722.9L660.6 722.5L659.4 722.2L658.3 722.2L657.3 722.4L656.5 723L655.9 723.9L655.4 724.9L654.9 726.2L654.5 727.4L653.9 728.5L653.3 729.5L652.5 730.2L651.5 730.6L650.4 730.8L649.2 730.8L647.8 730.6L646.5 730.5L645.3 730.5L644.2 730.7L643.2 731.2L642.4 732L641.7 733L641.2 734.2L640.8 735.6L640.3 736.9L639.8 738.1L639.1 739.1L638.3 739.8L637.4 740.2L636.2 740.3L635 740.3L633.7 740L632.4 739.8L631.2 739.6L630 739.7L629.1 740L628.3 740.5L627.7 741.3L627.1 742.2L626.7 743.3M661.9 722.9L662.9 722L663.8 721.1L664.4 720.2L664.6 719.2L664.5 718.2L664.1 717.3L663.4 716.3L662.6 715.3L661.8 714.2L661 713.2L660.5 712.2L660.3 711.1L660.4 710.1L660.8 709L661.5 708L662.2 706.9L663 705.8L663.6 704.8L664 703.7L664.1 702.6L663.8 701.5L663.3 700.4L662.5 699.4L661.6 698.3L660.6 697.2L659.8 696.2L659.3 695.1L659.1 694.1L659.2 693L659.7 692L660.4 691L661.2 689.9L662.1 688.9L662.8 687.9L663.3 687L663.6 686L663.5 685L663.1 684.1L662.6 683.2L661.9 682.3M697.1 783.9L695.8 783.5L694.6 783.2L693.5 783.2L692.5 783.4L691.7 784L691.1 784.9L690.6 785.9L690.1 787.2L689.7 788.4L689.1 789.5L688.5 790.5L687.7 791.2L686.7 791.6L685.6 791.8L684.4 791.8L683 791.6L681.7 791.5L680.5 791.5L679.4 791.7L678.4 792.2L677.6 793L676.9 794L676.4 795.2L676 796.6L675.5 797.9L675 799.1L674.3 800.1L673.5 800.8L672.6 801.2L671.4 801.3L670.2 801.3L668.9 801L667.6 800.8L666.4 800.6L665.2 800.7L664.3 801L663.5 801.5L662.9 802.3L662.3 803.2L661.9 804.3" fill="none" stroke="#417b66" stroke-width="1.6"/></g><path d="M413.3 700.7H662.5V949.2H413.3Z" fill="none" stroke="#333" stroke-width="1.3"/>
<clipPath id="cp14"><path d="M736.2 700.8H986.9V949.5H736.2Z"/></clipPath><path d="M736.2 700.8H986.9V949.5H736.2Z" fill="#f4f4dc"/><g clip-path="url(#cp14)"><path d="M701.5 843C705.1 867.3 733.4 839.2 737 863.5M737 904.5C740.6 928.8 768.9 900.7 772.5 925M737 904.5C714.1 895.5 724.4 934 701.5 925M737 904.5C756.3 889.2 717.7 878.8 737 863.5M772.5 966C791.8 950.7 753.2 940.3 772.5 925M701.5 720C705.1 744.3 733.4 716.2 737 740.5M737 781.5C740.6 805.8 768.9 777.7 772.5 802M737 781.5C714.1 772.5 724.4 811 701.5 802M737 781.5C756.3 766.2 717.7 755.8 737 740.5M772.5 843C776.1 867.3 804.4 839.2 808 863.5M772.5 843C749.6 834 759.9 872.5 737 863.5M772.5 843C791.8 827.7 753.2 817.3 772.5 802M808 904.5C811.6 928.8 839.9 900.7 843.5 925M808 904.5C785.1 895.5 795.4 934 772.5 925M808 904.5C827.3 889.2 788.7 878.8 808 863.5M843.5 966C862.8 950.7 824.2 940.3 843.5 925M772.5 720C776.1 744.3 804.4 716.2 808 740.5M772.5 720C749.6 711 759.9 749.5 737 740.5M772.5 720C791.8 704.7 753.2 694.3 772.5 679M808 781.5C811.6 805.8 839.9 777.7 843.5 802M808 781.5C785.1 772.5 795.4 811 772.5 802M808 781.5C827.3 766.2 788.7 755.8 808 740.5M843.5 843C847.1 867.3 875.4 839.2 879 863.5M843.5 843C820.6 834 830.9 872.5 808 863.5M843.5 843C862.8 827.7 824.2 817.3 843.5 802M879 904.5C882.6 928.8 910.9 900.7 914.5 925M879 904.5C856.1 895.5 866.4 934 843.5 925M879 904.5C898.3 889.2 859.7 878.8 879 863.5M914.5 966C933.8 950.7 895.2 940.3 914.5 925M843.5 720C847.1 744.3 875.4 716.2 879 740.5M843.5 720C820.6 711 830.9 749.5 808 740.5M843.5 720C862.8 704.7 824.2 694.3 843.5 679M879 781.5C882.6 805.8 910.9 777.7 914.5 802M879 781.5C856.1 772.5 866.4 811 843.5 802M879 781.5C898.3 766.2 859.7 755.8 879 740.5M914.5 843C918.1 867.3 946.4 839.2 950 863.5M914.5 843C891.6 834 901.9 872.5 879 863.5M914.5 843C933.8 827.7 895.2 817.3 914.5 802M950 904.5C953.6 928.8 981.9 900.7 985.5 925M950 904.5C927.1 895.5 937.4 934 914.5 925M950 904.5C969.3 889.2 930.7 878.8 950 863.5M985.5 966C1004.8 950.7 966.2 940.3 985.5 925M914.5 720C918.1 744.3 946.4 716.2 950 740.5M914.5 720C891.6 711 901.9 749.5 879 740.5M914.5 720C933.8 704.7 895.2 694.3 914.5 679M950 781.5C953.6 805.8 981.9 777.7 985.5 802M950 781.5C927.1 772.5 937.4 811 914.5 802M950 781.5C969.3 766.2 930.7 755.8 950 740.5M985.5 843C989.1 867.3 1017.4 839.2 1021 863.5M985.5 843C962.6 834 972.9 872.5 950 863.5M985.5 843C1004.8 827.7 966.2 817.3 985.5 802M1021 904.5C998.1 895.5 1008.4 934 985.5 925M985.5 720C989.1 744.3 1017.4 716.2 1021 740.5M985.5 720C962.6 711 972.9 749.5 950 740.5M985.5 720C1004.8 704.7 966.2 694.3 985.5 679M1021 781.5C998.1 772.5 1008.4 811 985.5 802" fill="none" stroke="#438b76" stroke-width="2.6"/></g><path d="M736.2 700.8H986.9V949.5H736.2Z" fill="none" stroke="#333" stroke-width="1.3"/>
<clipPath id="cp15"><path d="M1049.5 701.1H1304.6V949.6H1049.5Z"/></clipPath><path d="M1049.5 701.1H1304.6V949.6H1049.5Z" fill="#f4f4dc"/><g clip-path="url(#cp15)"><path d="M1011.7 846.7C1012.8 865.4 1031.4 876 1048 867.2M1048 908.2C1049.1 926.9 1067.7 937.5 1084.3 928.7M1048 908.2C1031.4 899.4 1012.8 910 1011.7 928.7M1048 908.2C1063.5 898.2 1063.5 877.2 1048 867.2M1084.3 969.7C1099.8 959.7 1099.8 938.7 1084.3 928.7M1011.7 723.7C1012.8 742.4 1031.4 753 1048 744.2M1048 785.2C1049.1 803.9 1067.7 814.5 1084.3 805.7M1048 785.2C1031.4 776.4 1012.8 787 1011.7 805.7M1048 785.2C1063.5 775.2 1063.5 754.2 1048 744.2M1084.3 846.7C1085.4 865.4 1104 876 1120.6 867.2M1084.3 846.7C1067.7 837.9 1049.1 848.5 1048 867.2M1084.3 846.7C1099.8 836.7 1099.8 815.7 1084.3 805.7M1120.6 908.2C1121.7 926.9 1140.3 937.5 1156.9 928.7M1120.6 908.2C1104 899.4 1085.4 910 1084.3 928.7M1120.6 908.2C1136.1 898.2 1136.1 877.2 1120.6 867.2M1156.9 969.7C1172.4 959.7 1172.4 938.7 1156.9 928.7M1084.3 723.7C1085.4 742.4 1104 753 1120.6 744.2M1084.3 723.7C1067.7 714.9 1049.1 725.5 1048 744.2M1084.3 723.7C1099.8 713.7 1099.8 692.7 1084.3 682.7M1120.6 785.2C1121.7 803.9 1140.3 814.5 1156.9 805.7M1120.6 785.2C1104 776.4 1085.4 787 1084.3 805.7M1120.6 785.2C1136.1 775.2 1136.1 754.2 1120.6 744.2M1156.9 846.7C1158 865.4 1176.6 876 1193.2 867.2M1156.9 846.7C1140.3 837.9 1121.7 848.5 1120.6 867.2M1156.9 846.7C1172.4 836.7 1172.4 815.7 1156.9 805.7M1193.2 908.2C1194.3 926.9 1212.9 937.5 1229.5 928.7M1193.2 908.2C1176.6 899.4 1158 910 1156.9 928.7M1193.2 908.2C1208.7 898.2 1208.7 877.2 1193.2 867.2M1229.5 969.7C1245 959.7 1245 938.7 1229.5 928.7M1156.9 723.7C1158 742.4 1176.6 753 1193.2 744.2M1156.9 723.7C1140.3 714.9 1121.7 725.5 1120.6 744.2M1156.9 723.7C1172.4 713.7 1172.4 692.7 1156.9 682.7M1193.2 785.2C1194.3 803.9 1212.9 814.5 1229.5 805.7M1193.2 785.2C1176.6 776.4 1158 787 1156.9 805.7M1193.2 785.2C1208.7 775.2 1208.7 754.2 1193.2 744.2M1229.5 846.7C1230.6 865.4 1249.2 876 1265.8 867.2M1229.5 846.7C1212.9 837.9 1194.3 848.5 1193.2 867.2M1229.5 846.7C1245 836.7 1245 815.7 1229.5 805.7M1265.8 908.2C1266.9 926.9 1285.5 937.5 1302.1 928.7M1265.8 908.2C1249.2 899.4 1230.6 910 1229.5 928.7M1265.8 908.2C1281.3 898.2 1281.3 877.2 1265.8 867.2M1302.1 969.7C1317.6 959.7 1317.6 938.7 1302.1 928.7M1229.5 723.7C1230.6 742.4 1249.2 753 1265.8 744.2M1229.5 723.7C1212.9 714.9 1194.3 725.5 1193.2 744.2M1229.5 723.7C1245 713.7 1245 692.7 1229.5 682.7M1265.8 785.2C1266.9 803.9 1285.5 814.5 1302.1 805.7M1265.8 785.2C1249.2 776.4 1230.6 787 1229.5 805.7M1265.8 785.2C1281.3 775.2 1281.3 754.2 1265.8 744.2M1302.1 846.7C1303.2 865.4 1321.8 876 1338.4 867.2M1302.1 846.7C1285.5 837.9 1266.9 848.5 1265.8 867.2M1302.1 846.7C1317.6 836.7 1317.6 815.7 1302.1 805.7M1338.4 908.2C1321.8 899.4 1303.2 910 1302.1 928.7M1302.1 723.7C1303.2 742.4 1321.8 753 1338.4 744.2M1302.1 723.7C1285.5 714.9 1266.9 725.5 1265.8 744.2M1302.1 723.7C1317.6 713.7 1317.6 692.7 1302.1 682.7M1338.4 785.2C1321.8 776.4 1303.2 787 1302.1 805.7" fill="none" stroke="#438b76" stroke-width="2.9"/></g><path d="M1049.5 701.1H1304.6V949.6H1049.5Z" fill="none" stroke="#333" stroke-width="1.3"/>
<clipPath id="cp16"><path d="M413.3 1054.9H662.5V1297H413.3Z"/></clipPath><path d="M413.3 1054.9H662.5V1297H413.3Z" fill="#f4f4dc"/><g clip-path="url(#cp16)"><path d="M167 951Q191 950 200.5 936M200.5 936Q220.5 933 241.5 934M241.5 934Q247.5 952 244.5 970M244.5 970Q226.5 976 210.5 986M169.5 988Q160.5 969.5 167 951M154 918Q162 935 167 951M136 1003Q160 1002 169.5 988M169.5 988Q189.5 985 210.5 986M210.5 986Q216.5 1004 213.5 1022M213.5 1022Q195.5 1028 179.5 1038M138.5 1040Q129.5 1021.5 136 1003M123 970Q131 987 136 1003M105 1055Q129 1054 138.5 1040M138.5 1040Q158.5 1037 179.5 1038M179.5 1038Q185.5 1056 182.5 1074M182.5 1074Q164.5 1080 148.5 1090M107.5 1092Q98.5 1073.5 105 1055M92 1022Q100 1039 105 1055M74 1107Q98 1106 107.5 1092M107.5 1092Q127.5 1089 148.5 1090M148.5 1090Q154.5 1108 151.5 1126M151.5 1126Q133.5 1132 117.5 1142M76.5 1144Q67.5 1125.5 74 1107M61 1074Q69 1091 74 1107M43 1159Q67 1158 76.5 1144M76.5 1144Q96.5 1141 117.5 1142M117.5 1142Q123.5 1160 120.5 1178M120.5 1178Q102.5 1184 86.5 1194M45.5 1196Q36.5 1177.5 43 1159M30 1126Q38 1143 43 1159M12 1211Q36 1210 45.5 1196M45.5 1196Q65.5 1193 86.5 1194M86.5 1194Q92.5 1212 89.5 1230M89.5 1230Q71.5 1236 55.5 1246M14.5 1248Q5.5 1229.5 12 1211M-1 1178Q7 1195 12 1211M-19 1263Q5 1262 14.5 1248M14.5 1248Q34.5 1245 55.5 1246M55.5 1246Q61.5 1264 58.5 1282M58.5 1282Q40.5 1288 24.5 1298M-16.5 1300Q-25.5 1281.5 -19 1263M-32 1230Q-24 1247 -19 1263M-50 1315Q-26 1314 -16.5 1300M-16.5 1300Q3.5 1297 24.5 1298M24.5 1298Q30.5 1316 27.5 1334M27.5 1334Q9.5 1340 -6.5 1350M-47.5 1352Q-56.5 1333.5 -50 1315M-63 1282Q-55 1299 -50 1315M288.5 951Q312.5 950 322 936M322 936Q342 933 363 934M363 934Q369 952 366 970M366 970Q348 976 332 986M291 988Q282 969.5 288.5 951M275.5 918Q283.5 935 288.5 951M257.5 1003Q281.5 1002 291 988M291 988Q311 985 332 986M332 986Q338 1004 335 1022M335 1022Q317 1028 301 1038M260 1040Q251 1021.5 257.5 1003M244.5 970Q252.5 987 257.5 1003M226.5 1055Q250.5 1054 260 1040M260 1040Q280 1037 301 1038M301 1038Q307 1056 304 1074M304 1074Q286 1080 270 1090M229 1092Q220 1073.5 226.5 1055M213.5 1022Q221.5 1039 226.5 1055M195.5 1107Q219.5 1106 229 1092M229 1092Q249 1089 270 1090M270 1090Q276 1108 273 1126M273 1126Q255 1132 239 1142M198 1144Q189 1125.5 195.5 1107M182.5 1074Q190.5 1091 195.5 1107M164.5 1159Q188.5 1158 198 1144M198 1144Q218 1141 239 1142M239 1142Q245 1160 242 1178M242 1178Q224 1184 208 1194M167 1196Q158 1177.5 164.5 1159M151.5 1126Q159.5 1143 164.5 1159M133.5 1211Q157.5 1210 167 1196M167 1196Q187 1193 208 1194M208 1194Q214 1212 211 1230M211 1230Q193 1236 177 1246M136 1248Q127 1229.5 133.5 1211M120.5 1178Q128.5 1195 133.5 1211M102.5 1263Q126.5 1262 136 1248M136 1248Q156 1245 177 1246M177 1246Q183 1264 180 1282M180 1282Q162 1288 146 1298M105 1300Q96 1281.5 102.5 1263M89.5 1230Q97.5 1247 102.5 1263M71.5 1315Q95.5 1314 105 1300M105 1300Q125 1297 146 1298M146 1298Q152 1316 149 1334M149 1334Q131 1340 115 1350M74 1352Q65 1333.5 71.5 1315M58.5 1282Q66.5 1299 71.5 1315M410 951Q434 950 443.5 936M443.5 936Q463.5 933 484.5 934M484.5 934Q490.5 952 487.5 970M487.5 970Q469.5 976 453.5 986M412.5 988Q403.5 969.5 410 951M397 918Q405 935 410 951M379 1003Q403 1002 412.5 988M412.5 988Q432.5 985 453.5 986M453.5 986Q459.5 1004 456.5 1022M456.5 1022Q438.5 1028 422.5 1038M381.5 1040Q372.5 1021.5 379 1003M366 970Q374 987 379 1003M348 1055Q372 1054 381.5 1040M381.5 1040Q401.5 1037 422.5 1038M422.5 1038Q428.5 1056 425.5 1074M425.5 1074Q407.5 1080 391.5 1090M350.5 1092Q341.5 1073.5 348 1055M335 1022Q343 1039 348 1055M317 1107Q341 1106 350.5 1092M350.5 1092Q370.5 1089 391.5 1090M391.5 1090Q397.5 1108 394.5 1126M394.5 1126Q376.5 1132 360.5 1142M319.5 1144Q310.5 1125.5 317 1107M304 1074Q312 1091 317 1107M286 1159Q310 1158 319.5 1144M319.5 1144Q339.5 1141 360.5 1142M360.5 1142Q366.5 1160 363.5 1178M363.5 1178Q345.5 1184 329.5 1194M288.5 1196Q279.5 1177.5 286 1159M273 1126Q281 1143 286 1159M255 1211Q279 1210 288.5 1196M288.5 1196Q308.5 1193 329.5 1194M329.5 1194Q335.5 1212 332.5 1230M332.5 1230Q314.5 1236 298.5 1246M257.5 1248Q248.5 1229.5 255 1211M242 1178Q250 1195 255 1211M224 1263Q248 1262 257.5 1248M257.5 1248Q277.5 1245 298.5 1246M298.5 1246Q304.5 1264 301.5 1282M301.5 1282Q283.5 1288 267.5 1298M226.5 1300Q217.5 1281.5 224 1263M211 1230Q219 1247 224 1263M193 1315Q217 1314 226.5 1300M226.5 1300Q246.5 1297 267.5 1298M267.5 1298Q273.5 1316 270.5 1334M270.5 1334Q252.5 1340 236.5 1350M195.5 1352Q186.5 1333.5 193 1315M180 1282Q188 1299 193 1315M531.5 951Q555.5 950 565 936M565 936Q585 933 606 934M606 934Q612 952 609 970M609 970Q591 976 575 986M534 988Q525 969.5 531.5 951M518.5 918Q526.5 935 531.5 951M500.5 1003Q524.5 1002 534 988M534 988Q554 985 575 986M575 986Q581 1004 578 1022M578 1022Q560 1028 544 1038M503 1040Q494 1021.5 500.5 1003M487.5 970Q495.5 987 500.5 1003M469.5 1055Q493.5 1054 503 1040M503 1040Q523 1037 544 1038M544 1038Q550 1056 547 1074M547 1074Q529 1080 513 1090M472 1092Q463 1073.5 469.5 1055M456.5 1022Q464.5 1039 469.5 1055M438.5 1107Q462.5 1106 472 1092M472 1092Q492 1089 513 1090M513 1090Q519 1108 516 1126M516 1126Q498 1132 482 1142M441 1144Q432 1125.5 438.5 1107M425.5 1074Q433.5 1091 438.5 1107M407.5 1159Q431.5 1158 441 1144M441 1144Q461 1141 482 1142M482 1142Q488 1160 485 1178M485 1178Q467 1184 451 1194M410 1196Q401 1177.5 407.5 1159M394.5 1126Q402.5 1143 407.5 1159M376.5 1211Q400.5 1210 410 1196M410 1196Q430 1193 451 1194M451 1194Q457 1212 454 1230M454 1230Q436 1236 420 1246M379 1248Q370 1229.5 376.5 1211M363.5 1178Q371.5 1195 376.5 1211M345.5 1263Q369.5 1262 379 1248M379 1248Q399 1245 420 1246M420 1246Q426 1264 423 1282M423 1282Q405 1288 389 1298M348 1300Q339 1281.5 345.5 1263M332.5 1230Q340.5 1247 345.5 1263M314.5 1315Q338.5 1314 348 1300M348 1300Q368 1297 389 1298M389 1298Q395 1316 392 1334M392 1334Q374 1340 358 1350M317 1352Q308 1333.5 314.5 1315M301.5 1282Q309.5 1299 314.5 1315M653 951Q677 950 686.5 936M686.5 936Q706.5 933 727.5 934M727.5 934Q733.5 952 730.5 970M730.5 970Q712.5 976 696.5 986M655.5 988Q646.5 969.5 653 951M640 918Q648 935 653 951M622 1003Q646 1002 655.5 988M655.5 988Q675.5 985 696.5 986M696.5 986Q702.5 1004 699.5 1022M699.5 1022Q681.5 1028 665.5 1038M624.5 1040Q615.5 1021.5 622 1003M609 970Q617 987 622 1003M591 1055Q615 1054 624.5 1040M624.5 1040Q644.5 1037 665.5 1038M665.5 1038Q671.5 1056 668.5 1074M668.5 1074Q650.5 1080 634.5 1090M593.5 1092Q584.5 1073.5 591 1055M578 1022Q586 1039 591 1055M560 1107Q584 1106 593.5 1092M593.5 1092Q613.5 1089 634.5 1090M634.5 1090Q640.5 1108 637.5 1126M637.5 1126Q619.5 1132 603.5 1142M562.5 1144Q553.5 1125.5 560 1107M547 1074Q555 1091 560 1107M529 1159Q553 1158 562.5 1144M562.5 1144Q582.5 1141 603.5 1142M603.5 1142Q609.5 1160 606.5 1178M606.5 1178Q588.5 1184 572.5 1194M531.5 1196Q522.5 1177.5 529 1159M516 1126Q524 1143 529 1159M498 1211Q522 1210 531.5 1196M531.5 1196Q551.5 1193 572.5 1194M572.5 1194Q578.5 1212 575.5 1230M575.5 1230Q557.5 1236 541.5 1246M500.5 1248Q491.5 1229.5 498 1211M485 1178Q493 1195 498 1211M467 1263Q491 1262 500.5 1248M500.5 1248Q520.5 1245 541.5 1246M541.5 1246Q547.5 1264 544.5 1282M544.5 1282Q526.5 1288 510.5 1298M469.5 1300Q460.5 1281.5 467 1263M454 1230Q462 1247 467 1263M436 1315Q460 1314 469.5 1300M469.5 1300Q489.5 1297 510.5 1298M510.5 1298Q516.5 1316 513.5 1334M513.5 1334Q495.5 1340 479.5 1350M438.5 1352Q429.5 1333.5 436 1315M423 1282Q431 1299 436 1315M774.5 951Q798.5 950 808 936M808 936Q828 933 849 934M849 934Q855 952 852 970M852 970Q834 976 818 986M777 988Q768 969.5 774.5 951M761.5 918Q769.5 935 774.5 951M743.5 1003Q767.5 1002 777 988M777 988Q797 985 818 986M818 986Q824 1004 821 1022M821 1022Q803 1028 787 1038M746 1040Q737 1021.5 743.5 1003M730.5 970Q738.5 987 743.5 1003M712.5 1055Q736.5 1054 746 1040M746 1040Q766 1037 787 1038M787 1038Q793 1056 790 1074M790 1074Q772 1080 756 1090M715 1092Q706 1073.5 712.5 1055M699.5 1022Q707.5 1039 712.5 1055M681.5 1107Q705.5 1106 715 1092M715 1092Q735 1089 756 1090M756 1090Q762 1108 759 1126M759 1126Q741 1132 725 1142M684 1144Q675 1125.5 681.5 1107M668.5 1074Q676.5 1091 681.5 1107M650.5 1159Q674.5 1158 684 1144M684 1144Q704 1141 725 1142M725 1142Q731 1160 728 1178M728 1178Q710 1184 694 1194M653 1196Q644 1177.5 650.5 1159M637.5 1126Q645.5 1143 650.5 1159M619.5 1211Q643.5 1210 653 1196M653 1196Q673 1193 694 1194M694 1194Q700 1212 697 1230M697 1230Q679 1236 663 1246M622 1248Q613 1229.5 619.5 1211M606.5 1178Q614.5 1195 619.5 1211M588.5 1263Q612.5 1262 622 1248M622 1248Q642 1245 663 1246M663 1246Q669 1264 666 1282M666 1282Q648 1288 632 1298M591 1300Q582 1281.5 588.5 1263M575.5 1230Q583.5 1247 588.5 1263M557.5 1315Q581.5 1314 591 1300M591 1300Q611 1297 632 1298M632 1298Q638 1316 635 1334M635 1334Q617 1340 601 1350M560 1352Q551 1333.5 557.5 1315M544.5 1282Q552.5 1299 557.5 1315M896 951Q920 950 929.5 936M929.5 936Q949.5 933 970.5 934M970.5 934Q976.5 952 973.5 970M973.5 970Q955.5 976 939.5 986M898.5 988Q889.5 969.5 896 951M883 918Q891 935 896 951M865 1003Q889 1002 898.5 988M898.5 988Q918.5 985 939.5 986M939.5 986Q945.5 1004 942.5 1022M942.5 1022Q924.5 1028 908.5 1038M867.5 1040Q858.5 1021.5 865 1003M852 970Q860 987 865 1003M834 1055Q858 1054 867.5 1040M867.5 1040Q887.5 1037 908.5 1038M908.5 1038Q914.5 1056 911.5 1074M911.5 1074Q893.5 1080 877.5 1090M836.5 1092Q827.5 1073.5 834 1055M821 1022Q829 1039 834 1055M803 1107Q827 1106 836.5 1092M836.5 1092Q856.5 1089 877.5 1090M877.5 1090Q883.5 1108 880.5 1126M880.5 1126Q862.5 1132 846.5 1142M805.5 1144Q796.5 1125.5 803 1107M790 1074Q798 1091 803 1107M772 1159Q796 1158 805.5 1144M805.5 1144Q825.5 1141 846.5 1142M846.5 1142Q852.5 1160 849.5 1178M849.5 1178Q831.5 1184 815.5 1194M774.5 1196Q765.5 1177.5 772 1159M759 1126Q767 1143 772 1159M741 1211Q765 1210 774.5 1196M774.5 1196Q794.5 1193 815.5 1194M815.5 1194Q821.5 1212 818.5 1230M818.5 1230Q800.5 1236 784.5 1246M743.5 1248Q734.5 1229.5 741 1211M728 1178Q736 1195 741 1211M710 1263Q734 1262 743.5 1248M743.5 1248Q763.5 1245 784.5 1246M784.5 1246Q790.5 1264 787.5 1282M787.5 1282Q769.5 1288 753.5 1298M712.5 1300Q703.5 1281.5 710 1263M697 1230Q705 1247 710 1263M679 1315Q703 1314 712.5 1300M712.5 1300Q732.5 1297 753.5 1298M753.5 1298Q759.5 1316 756.5 1334M756.5 1334Q738.5 1340 722.5 1350M681.5 1352Q672.5 1333.5 679 1315M666 1282Q674 1299 679 1315" fill="none" stroke="#438b76" stroke-width="8.5"/></g><path d="M413.3 1054.9H662.5V1297H413.3Z" fill="none" stroke="#333" stroke-width="1.3"/>
<clipPath id="cp17"><path d="M735.9 1055.5H984.1V1295.5H735.9Z"/></clipPath><path d="M735.9 1055.5H984.1V1295.5H735.9Z" fill="#f4f4dc"/><g clip-path="url(#cp17)"><path d="M744.2 1063.8L745.2 1054M744.2 1063.8L734 1065.8M744.2 1063.8L772.4 1083.2M772.4 1083.2L803 1069.8M772.4 1083.2L778.5 1118.8M803 1069.8L804.2 1054M803 1069.8L836.2 1082.3M836.2 1082.3L864.7 1063.8M836.2 1082.3L842.3 1117.4M864.7 1063.8L865.3 1054M864.7 1063.8L892.4 1083.7M892.4 1083.7L923.9 1069.3M892.4 1083.7L899.4 1119.3M923.9 1069.3L926 1054M923.9 1069.3L956.7 1081.8M956.7 1081.8L986 1061.8M956.7 1081.8L962.7 1117.4M778.5 1118.8L749.8 1137.8M778.5 1118.8L811.7 1131.7M842.3 1117.4L811.7 1131.7M842.3 1117.4L869.8 1138.2M811.7 1131.7L805.3 1167.3M749.8 1137.8L734 1127.5M749.8 1137.8L743.6 1173.6M899.4 1119.3L869.8 1138.2M899.4 1119.3L931.7 1132.7M962.7 1117.4L931.7 1132.7M962.7 1117.4L986 1131.5M931.7 1132.7L925.8 1168.4M869.8 1138.2L864.2 1173.6M805.3 1167.3L775.7 1185.9M805.3 1167.3L834.2 1187.9M743.6 1173.6L734 1176M743.6 1173.6L775.7 1185.9M775.7 1185.9L782.3 1222M834.2 1187.9L864.2 1173.6M834.2 1187.9L840.3 1224M925.8 1168.4L896.2 1186.9M925.8 1168.4L953.7 1188.4M864.2 1173.6L896.2 1186.9M896.2 1186.9L902.8 1222.5M953.7 1188.4L986 1172.5M953.7 1188.4L960.3 1224.5M782.3 1222L751.3 1236.2M782.3 1222L810.3 1241.8M840.3 1224L810.3 1241.8M840.3 1224L872.3 1236.7M810.3 1241.8L804.2 1276.9M751.3 1236.2L734 1230M751.3 1236.2L744.7 1270.8M744.7 1270.8L734 1275.5M744.7 1270.8L772.6 1293.2M804.2 1276.9L772.6 1293.2M804.2 1276.9L837.7 1290.1M772.6 1293.2L772 1298M837.7 1290.1L866.2 1270.8M837.7 1290.1L837 1298M902.8 1222.5L872.3 1236.7M902.8 1222.5L931.3 1242.3M960.3 1224.5L931.3 1242.3M960.3 1224.5L986 1233M931.3 1242.3L925.2 1277.9M872.3 1236.7L866.2 1270.8M866.2 1270.8L894.7 1293.2M925.2 1277.9L894.7 1293.2M925.2 1277.9L957.7 1290.6M894.7 1293.2L894.5 1298M957.7 1290.6L986 1271.5M957.7 1290.6L957.5 1298" fill="none" stroke="#438b76" stroke-width="2.7" stroke-linejoin="round"/></g><path d="M735.9 1055.5H984.1V1295.5H735.9Z" fill="none" stroke="#333" stroke-width="1.3"/>
<clipPath id="cp18"><path d="M1049.5 1054.9H1298.7V1295.5H1049.5Z"/></clipPath><path d="M1049.5 1054.9H1298.7V1295.5H1049.5Z" fill="#f4f4dc"/><g clip-path="url(#cp18)"><path d="M953.9 1092.8L984.9 1076.2M984.9 1076.2Q1000.7 1078.2 1017.7 1090.5M1017.7 1090.5Q1043 1088 1048.2 1071.6M1048.2 1071.6Q1071.4 1081.2 1078.6 1092.8M984.9 1076.2L989.9 1050M1048.2 1071.6L1048.2 1050M953.9 1092.8Q964.5 1111.8 956.7 1128.9M1017.7 1090.5Q1014 1103.3 1021.4 1126.1M956.7 1128.9Q971.5 1140.3 989.9 1142.8M989.9 1142.8L1021.4 1126.1M1021.4 1126.1Q1032.5 1142.1 1050.8 1146M1050.8 1146Q1059.5 1129.5 1081.4 1128.9M989.9 1142.8Q986.6 1150.3 985.8 1179.4M1050.8 1146Q1055.9 1156.3 1047.8 1182.5M985.8 1179.4Q970.4 1199.3 955 1196.8M985.8 1179.4Q1001.5 1185.5 1015.5 1199.9M1015.5 1199.9L1047.8 1182.5M1047.8 1182.5Q1061.7 1187.5 1079.7 1196.8M955 1196.8Q951 1215.2 959.1 1233.7M1015.5 1199.9Q1026.2 1216.8 1018.5 1235.7M959.1 1233.7Q970.8 1252.6 988.8 1253.1M1018.5 1235.7Q992.5 1235.2 988.8 1253.1M1018.5 1235.7Q1028.9 1245 1051.3 1250M1051.3 1250L1083.8 1233.7M988.8 1253.1Q993 1271.6 984.7 1290M1051.3 1250Q1045.5 1264.8 1047.3 1286M1047.3 1286L1067.3 1299M1047.3 1286L1035.3 1299M984.7 1290L969.3 1299M984.7 1290L1002.3 1299M1078.6 1092.8L1109.6 1076.2M1109.6 1076.2Q1125.4 1078.2 1142.4 1090.5M1142.4 1090.5Q1167.8 1088 1172.9 1071.6M1172.9 1071.6Q1196.1 1081.2 1203.3 1092.8M1109.6 1076.2L1114.6 1050M1172.9 1071.6L1172.9 1050M1078.6 1092.8Q1089.2 1111.8 1081.4 1128.9M1142.4 1090.5Q1138.8 1103.3 1146.1 1126.1M1081.4 1128.9Q1096.2 1140.3 1114.6 1142.8M1114.6 1142.8L1146.1 1126.1M1146.1 1126.1Q1157.2 1142.1 1175.5 1146M1175.5 1146Q1184.2 1129.5 1206.1 1128.9M1114.6 1142.8Q1111.3 1150.3 1110.5 1179.4M1175.5 1146Q1180.6 1156.3 1172.5 1182.5M1110.5 1179.4Q1095.1 1199.3 1079.7 1196.8M1110.5 1179.4Q1126.2 1185.5 1140.2 1199.9M1140.2 1199.9L1172.5 1182.5M1172.5 1182.5Q1186.4 1187.5 1204.4 1196.8M1079.7 1196.8Q1075.7 1215.2 1083.8 1233.7M1140.2 1199.9Q1150.9 1216.8 1143.2 1235.7M1083.8 1233.7Q1095.5 1252.6 1113.5 1253.1M1143.2 1235.7Q1117.2 1235.2 1113.5 1253.1M1143.2 1235.7Q1153.6 1245 1176 1250M1176 1250L1208.5 1233.7M1113.5 1253.1Q1117.7 1271.6 1109.4 1290M1176 1250Q1170.2 1264.8 1172 1286M1172 1286L1192 1299M1172 1286L1160 1299M1109.4 1290L1094 1299M1109.4 1290L1127 1299M1203.3 1092.8L1234.3 1076.2M1234.3 1076.2Q1250.1 1078.2 1267.1 1090.5M1267.1 1090.5Q1292.5 1088 1297.6 1071.6M1297.6 1071.6Q1320.8 1081.2 1328 1092.8M1234.3 1076.2L1239.3 1050M1297.6 1071.6L1297.6 1050M1203.3 1092.8Q1213.9 1111.8 1206.1 1128.9M1267.1 1090.5Q1263.5 1103.3 1270.8 1126.1M1206.1 1128.9Q1220.9 1140.3 1239.3 1142.8M1239.3 1142.8L1270.8 1126.1M1270.8 1126.1Q1281.9 1142.1 1300.2 1146M1300.2 1146Q1308.9 1129.5 1330.8 1128.9M1239.3 1142.8Q1236 1150.3 1235.2 1179.4M1300.2 1146Q1305.3 1156.3 1297.2 1182.5M1235.2 1179.4Q1219.8 1199.3 1204.4 1196.8M1235.2 1179.4Q1250.9 1185.5 1264.9 1199.9M1264.9 1199.9L1297.2 1182.5M1297.2 1182.5Q1311.1 1187.5 1329.1 1196.8M1204.4 1196.8Q1200.4 1215.2 1208.5 1233.7M1264.9 1199.9Q1275.6 1216.8 1267.9 1235.7M1208.5 1233.7Q1220.2 1252.6 1238.2 1253.1M1267.9 1235.7Q1241.9 1235.2 1238.2 1253.1M1267.9 1235.7Q1278.3 1245 1300.7 1250M1300.7 1250L1333.2 1233.7M1238.2 1253.1Q1242.4 1271.6 1234.1 1290M1300.7 1250Q1294.9 1264.8 1296.7 1286M1296.7 1286L1316.7 1299M1296.7 1286L1284.7 1299M1234.1 1290L1218.7 1299M1234.1 1290L1251.7 1299M1328 1092.8L1359 1076.2M1359 1076.2Q1374.8 1078.2 1391.8 1090.5M1391.8 1090.5Q1417.2 1088 1422.3 1071.6M1422.3 1071.6Q1445.5 1081.2 1452.7 1092.8M1359 1076.2L1364 1050M1422.3 1071.6L1422.3 1050M1328 1092.8Q1338.6 1111.8 1330.8 1128.9M1391.8 1090.5Q1388.2 1103.3 1395.5 1126.1M1330.8 1128.9Q1345.6 1140.3 1364 1142.8M1364 1142.8L1395.5 1126.1M1395.5 1126.1Q1406.6 1142.1 1424.9 1146M1424.9 1146Q1433.6 1129.5 1455.5 1128.9M1364 1142.8Q1360.7 1150.3 1359.9 1179.4M1424.9 1146Q1430 1156.3 1421.9 1182.5M1359.9 1179.4Q1344.5 1199.3 1329.1 1196.8M1359.9 1179.4Q1375.7 1185.5 1389.6 1199.9M1389.6 1199.9L1421.9 1182.5M1421.9 1182.5Q1435.8 1187.5 1453.8 1196.8M1329.1 1196.8Q1325.1 1215.2 1333.2 1233.7M1389.6 1199.9Q1400.3 1216.8 1392.6 1235.7M1333.2 1233.7Q1344.9 1252.6 1362.9 1253.1M1392.6 1235.7Q1366.7 1235.2 1362.9 1253.1M1392.6 1235.7Q1403 1245 1425.4 1250M1425.4 1250L1457.9 1233.7M1362.9 1253.1Q1367.1 1271.6 1358.8 1290M1425.4 1250Q1419.6 1264.8 1421.4 1286M1421.4 1286L1441.4 1299M1421.4 1286L1409.4 1299M1358.8 1290L1343.4 1299M1358.8 1290L1376.4 1299" fill="none" stroke="#438b76" stroke-width="4.3" stroke-linejoin="round"/></g><path d="M1049.5 1054.9H1298.7V1295.5H1049.5Z" fill="none" stroke="#333" stroke-width="1.3"/>
<path d="M881.4 825.2L845.1 761.4" stroke="#000" stroke-width="1.6"/><path d="M839.4 751.4L848.7 759.3L841.4 763.5Z" fill="#000"/>
<path d="M881.4 825.2L845.1 888.1" stroke="#000" stroke-width="1.6"/><path d="M839.4 898.1L841.5 886L848.8 890.2Z" fill="#000"/>
<path d="M881.4 825.2L956.3 825.2" stroke="#000" stroke-width="1.6"/><path d="M967.8 825.2L956.3 829.4L956.3 821Z" fill="#000"/>
<path d="M838.8 1152.6L802.7 1089.7" stroke="#000" stroke-width="1.6"/><path d="M797 1079.7L806.4 1087.6L799.1 1091.8Z" fill="#000"/>
<path d="M838.8 1152.6L802.7 1215" stroke="#000" stroke-width="1.6"/><path d="M797 1225L799.1 1212.9L806.4 1217.1Z" fill="#000"/>
<path d="M838.8 1152.6L913.1 1152.6" stroke="#000" stroke-width="1.6"/><path d="M924.6 1152.6L913.1 1156.8L913.1 1148.4Z" fill="#000"/>
<text x="383.95" y="738.6" font-family='"Liberation Serif", serif' font-size="42.88" stroke="#000" stroke-width="0.35">1</text>
<text x="702.77" y="738.3" font-family='"Liberation Serif", serif' font-size="43.02" stroke="#000" stroke-width="0.35">2</text>
<text x="1015.95" y="738.57" font-family='"Liberation Serif", serif' font-size="43.12" stroke="#000" stroke-width="0.35">3</text>
<text x="381.6" y="1092.3" font-family='"Liberation Serif", serif' font-size="45.48" stroke="#000" stroke-width="0.35">4</text>
<text x="703.09" y="1091.28" font-family='"Liberation Serif", serif' font-size="41.95" stroke="#000" stroke-width="0.35">5</text>
<text x="1015.61" y="1091.86" font-family='"Liberation Serif", serif' font-size="44.46" stroke="#000" stroke-width="0.35">6</text>
<text x="261.64" y="832.31" font-family='"Liberation Serif", serif' font-size="43.22" letter-spacing="-1.24" stroke="#000" stroke-width="0.35">Type I</text>
<text x="260.06" y="1179.31" font-family='"Liberation Serif", serif' font-size="42.3" letter-spacing="-0.72" stroke="#000" stroke-width="0.35">Type II</text>
<text x="191.24" y="1254" font-family='"Liberation Serif", serif' font-size="41.43" letter-spacing="0.68" stroke="#000" stroke-width="0.35">(c)</text>
<!--LABELS-->
<text x="848.76" y="740.59" font-family='"Liberation Serif", serif' font-size="41.25" stroke="#000" stroke-width="0.35">a</text>
<text x="800.3" y="892.5" font-family='"Liberation Serif", serif' font-size="39.86" stroke="#000" stroke-width="0.35">b</text>
<text x="938.08" y="797.77" font-family='"Liberation Serif", serif' font-size="43.33" stroke="#000" stroke-width="0.35">c</text>
<text x="816.77" y="1094.45" font-family='"Liberation Serif", serif' font-size="35.26" stroke="#000" stroke-width="0.35">a’</text>
<text x="767.5" y="1270.02" font-family='"Liberation Serif", serif' font-size="38.01" stroke="#000" stroke-width="0.35">b’</text>
<text x="903.45" y="1187.39" font-family='"Liberation Serif", serif' font-size="41.33" stroke="#000" stroke-width="0.35">c’</text>
</svg></body></html>
